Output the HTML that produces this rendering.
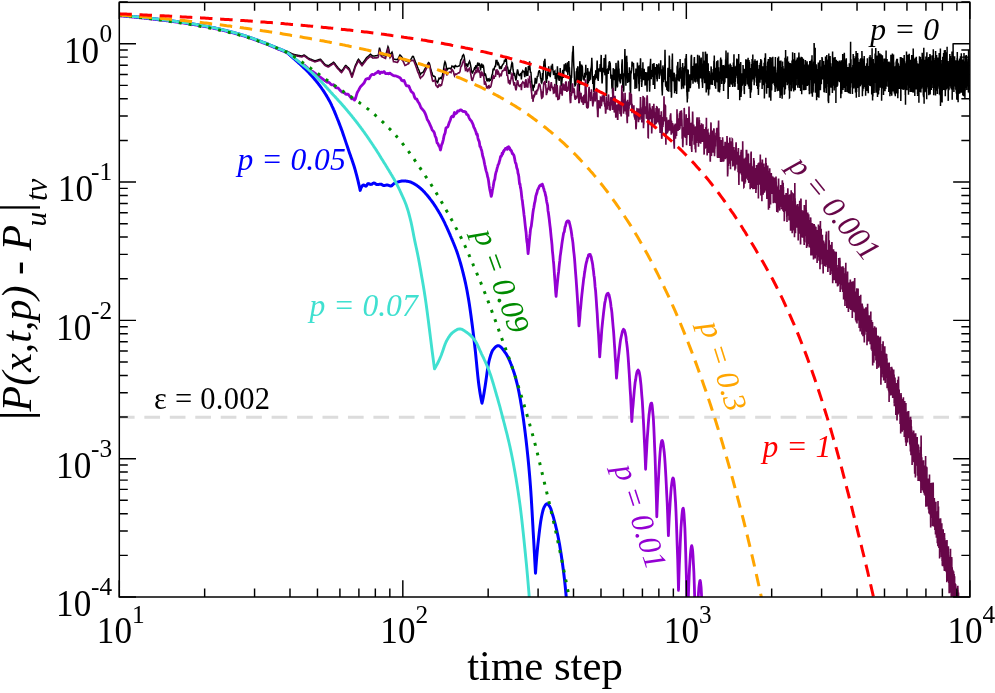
<!DOCTYPE html>
<html><head><meta charset="utf-8"><title>chart</title>
<style>html,body{margin:0;padding:0;background:#fff}body{width:995px;height:693px;overflow:hidden;font-family:"Liberation Serif",serif}svg{display:block}#w{will-change:transform;width:995px;height:693px}</style></head><body><div id="w">
<svg width="995" height="693" viewBox="0 0 995 693">
<defs><clipPath id="c"><rect x="119.30" y="2.35" width="850.55" height="594.65"/></clipPath></defs>
<rect width="995" height="693" fill="#fff"/>
<g clip-path="url(#c)" fill="none" stroke-linejoin="round">
<path d="M118.9 417.3H969.9" stroke="#dcdcdc" stroke-width="2.9" stroke-dasharray="15.7 9.75"/>
<path d="M119.3 15.3L121.3 15.4 123.3 15.6 125.3 15.8 127.3 16.0 129.3 16.2 131.3 16.3 133.3 16.5 135.3 16.7 137.3 16.9 139.3 17.1 141.3 17.3 143.3 17.5 145.3 17.7 147.3 18.0 149.3 18.2 151.3 18.4 153.3 18.6 155.3 18.8 157.3 19.1 159.3 19.3 161.3 19.6 163.3 19.8 165.3 20.0 167.3 20.3 169.3 20.5 171.3 20.8 173.3 21.1 175.3 21.3 177.3 21.6 179.3 21.9 181.3 22.2 183.3 22.4 185.3 22.7 187.3 23.0 189.3 23.4 191.3 23.7 193.3 24.0 195.3 24.3 197.3 24.6 199.3 25.0 201.3 25.3 203.3 25.7 205.3 26.1 207.3 26.4 209.3 26.8 211.3 27.2 213.3 27.7 215.3 28.1 217.3 28.5 219.3 29.0 221.3 29.4 223.3 29.9 225.3 30.4 227.3 30.9 229.3 31.4 231.3 31.9 233.3 32.4 235.3 33.0 237.3 33.5 239.3 34.1 241.3 34.7 243.3 35.3 245.3 35.9 247.3 36.6 249.3 37.3 251.3 38.0 253.3 38.7 255.3 39.4 257.3 40.1 259.3 40.8 261.3 41.6 263.3 42.3 265.3 43.1 267.3 43.9 269.3 44.7 271.3 45.5 273.3 46.4 275.3 47.2 277.3 48.1 279.3 49.2 280 49.5 280.5 49.6 281 49.8 281.5 49.9 282 50.0 282.5 50.1 283 50.2 283.5 50.4 284 50.5 284.5 50.6 285 50.7 285.5 50.9 286 51.0 286.5 51.1 287 51.2 287.5 51.4 288 51.7 288.5 51.9 289 52.2 289.5 52.4 290 52.7 290.5 52.9 291 53.2 291.5 53.4 292 53.7 292.5 53.9 293 54.2 293.5 54.3 294 54.4 294.5 54.6 295 54.7 295.5 54.8 296 54.9 296.5 55.0 297 55.1 297.5 55.2 298 55.3 298.5 55.4 299 55.5 299.5 55.6 300 55.7 300.5 55.8 301 56.0 301.5 56.1 302 55.9 302.5 55.7 303 55.5 303.5 55.2 304 55.0 304.5 55.2 305 55.6 305.5 55.9 306 56.3 306.5 56.7 307 57.0 307.5 57.4 308 57.8 308.5 58.1 309 58.5 309.5 58.7 310 58.9 310.5 59.1 311 59.3 311.5 59.5 312 59.7 312.5 59.9 313 60.1 313.5 60.3 314 60.5 314.5 60.7 315 60.9 315.5 60.7 316 60.6 316.5 60.4 317 60.2 317.5 60.1 318 59.9 318.5 59.7 319 59.6 319.5 59.4 320 59.2 320.5 59.2 321 59.8 321.5 60.4 322 60.9 322.5 61.5 323 62.1 323.5 62.7 324 63.2 324.5 63.8 325 64.4 325.5 64.7 326 64.9 326.5 65.1 327 65.3 327.5 65.5 328 65.7 328.5 65.7 329 65.3 329.5 65.0 330 64.6 330.5 64.3 331 64.0 331.5 63.6 332 63.3 332.5 62.9 333 62.6 333.5 62.2 334 62.5 334.5 63.1 335 63.8 335.5 64.5 336 65.1 336.5 65.8 337 66.4 337.5 67.1 338 67.7 338.5 68.2 339 68.7 339.5 69.2 340 69.7 340.5 70.2 341 70.7 341.5 71.2 342 70.5 342.5 69.8 343 69.1 343.5 68.3 344 67.6 344.5 66.9 345 66.2 345.5 65.5 346 65.5 346.5 66.0 347 66.5 347.5 67.0 348 67.4 348.5 67.9 349 68.4 349.5 69.1 350 70.5 350.5 71.8 351 73.2 351.5 74.6 352 76.0 352.5 74.4 353 72.8 353.5 71.2 354 69.6 354.5 68.1 355 66.5 355.5 65.0 356 64.0 356.5 63.0 357 61.9 357.5 60.9 358 59.9 358.5 59.2 359 59.9 359.5 60.6 360 61.3 360.5 62.0 361 62.6 361.5 63.3 362 64.0 362.5 63.3 363 62.6 363.5 61.9 364 61.3 364.5 60.6 365 59.9 365.5 59.2 366 58.5 366.5 57.8 367 57.2 367.5 56.8 368 56.4 368.5 56.0 369 55.5 369.5 55.1 370 54.7 370.5 54.3 371 54.7 371.5 55.1 372 55.4 372.5 55.8 373 56.1 373.5 56.0 374 56.0 374.5 55.9 375 55.9 375.5 55.8 376 55.8 376.5 55.7 377 55.6 377.5 55.6 378 55.5 378.5 54.2 379 51.0 379.5 47.7 380 49.5 380.5 51.4 381 53.2 381.5 54.4 382 54.6 382.5 54.8 383 55.0 383.5 55.2 384 55.5 384.5 55.7 385 55.9 385.5 56.1 386 54.2 386.5 52.3 387 50.4 387.5 48.5 388 46.7 388.5 47.7 389 50.7 389.5 53.7 390 55.2 390.5 54.5 391 53.7 391.5 52.9 392 52.2 392.5 53.7 393 56.7 393.5 59.1 394 59.2 394.5 59.3 395 59.3 395.5 59.4 396 59.5 396.5 59.5 397 59.6 397.5 59.7 398 58.9 398.5 57.9 399 56.9 399.5 55.9 400 54.9 400.5 55.4 401 56.0 401.5 56.6 402 57.3 402.5 58.0 403 58.6 403.5 59.2 404 59.9 404.5 60.4 405 60.7 405.5 60.9 406 61.0 406.5 61.1 407 61.3 407.5 61.5 408 61.9 408.5 62.2 409 61.8 409.5 61.4 410 61.0 410.5 60.1 411 59.2 411.5 58.3 412 57.4 412.5 56.4 413 56.3 413.5 56.7 414 58.1 414.5 59.4 415 60.9 415.5 62.1 416 63.2 416.5 64.3 417 65.6 417.5 67.1 418 68.3 418.5 69.3 419 70.4 419.5 72.0 420 73.7 420.5 74.4 421 73.3 421.5 73.0 422 72.9 422.5 72.5 423 72.4 423.5 71.7 424 70.6 424.5 69.5 425 68.7 425.5 67.9 426 67.1 426.5 66.3 427 65.5 427.5 64.7 428 63.3 428.5 62.6 429 62.9 429.5 63.8 430 65.7 430.5 68.1 431 69.8 431.5 71.4 432 72.7 432.5 74.7 433 75.9 433.5 76.3 434 76.1 434.5 76.3 435 76.7 435.5 78.9 436 81.5 436.5 81.6 437 81.4 437.5 82.5 438 81.9 438.5 79.7 439 78.3 439.5 78.8 440 78.6 440.5 77.6 441 77.7 441.5 78.4 442 76.8 442.5 74.7 443 72.5 443.5 69.8 444 66.0 444.5 63.3 445 61.7 445.5 62.7 446 64.8 446.5 68.4 447 70.6 447.5 68.7 448 68.4 448.5 68.7 449 68.4 449.5 68.3 450 68.3 450.5 68.5 451 69.1 451.5 67.6 452 66.1 452.5 66.6 453 66.6 453.5 66.4 454 67.5 454.5 68.0 455 65.8 455.5 65.5 456 66.2 456.5 66.6 457 66.6 457.5 66.6 458 66.4 458.5 66.1 459 66.1 459.5 65.7 460 64.8 460.5 61.5 461 59.7 461.5 59.4 462 57.9 462.5 55.8 463 55.2 463.5 54.6 464 55.8 464.5 58.7 465 62.9 465.5 65.7 466 65.4 466.5 63.5 467 64.7 467.5 67.2 468 65.1 468.5 63.6 469 62.2 469.5 61.2 470 62.5 470.5 65.0 471 67.6 471.5 71.0 472 72.7 472.5 73.0 473 71.7 473.5 70.6 474 69.5 474.5 68.1 475 68.9 475.5 67.1 476 65.3 476.5 68.5 477 66.3 477.5 63.7 478 62.7 478.5 65.7 479 64.4 479.5 63.9 480 65.7 480.5 70.3 481 65.8 481.5 64.8 482 66.3 482.5 67.8 483 65.3 483.5 66.1 484 70.3 484.5 75.9 485 74.9 485.5 74.3 486 76.2 486.5 79.3 487 81.4 487.5 79.5 488 80.5 488.5 79.0 489 78.7 489.5 80.5 490 79.8 490.5 80.2 491 79.5 491.5 77.2 492 75.0 492.5 73.8 493 69.8 493.5 68.5 494 70.4 494.5 67.4 495 66.3 495.5 66.4 496 60.5 496.5 60.5 497 60.5 497.5 64.8 498 64.8 498.5 63.5 499 65.0 499.5 67.9 500 67.3 500.5 67.0 501 69.0 501.5 67.9 502 65.8 502.5 65.0 503 64.2 503.5 63.7 504 62.5 504.5 60.2 505 60.2 505.5 61.8 506 56.4 506.5 61.3 507 67.7 507.5 66.7 508 69.3 508.5 74.2 509 70.0 509.5 72.9 510 73.4 510.5 70.0 511 68.2 511.5 64.7 512 62.5 512.5 63.2 513 69.2 513.5 72.5 514 75.9 514.5 72.9 515 75.9 515.5 78.6 516 80.5 516.5 77.4 517 72.4 517.5 69.4 518 71.2 518.5 74.3 519 75.2 519.5 75.5 520.9 73.1 521.4 79.5 521.9 72.2 522.3 72.2 522.8 70.7 523.3 71.3 523.7 71.6 524.2 72.7 524.7 77.2 525.1 71.6 525.6 68.5 526 67.3 526.5 75.2 526.9 74.9 527.4 70.9 527.8 75.9 528.3 66.7 528.7 66.6 529.2 70.1 529.6 61.4 530 67.9 530.5 73.0 530.9 71.8 531.3 77.5 531.8 82.3 532.2 87.4 532.6 84.6 533.1 91.3 533.5 85.7 533.9 85.6 534.3 86.2 534.8 83.4 535.2 77.9 535.6 79.2 536 80.6 536.4 83.6 536.9 79.8 537.3 75.9 537.7 76.8 538.1 75.2 538.5 72.2 538.9 71.4 539.3 70.1 539.7 71.9 540.1 72.8 540.5 78.2 540.9 78.6 541.3 82.5 541.7 83.0 542.1 81.3 542.5 73.0 542.9 80.4 543.3 70.9 543.7 66.4 544.1 60.7 544.5 63.3 544.9 58.7 545.3 66.6 545.6 69.8 546 80.1 546.4 82.9 546.8 78.6 547.2 78.4 547.6 71.5 547.9 72.1 548.3 74.4 548.7 66.4 549.1 75.4 549.5 75.5 549.8 73.0 550.2 77.2 550.6 73.3 550.9 70.8 551.3 65.6 551.7 68.1 552 68.5 552.4 63.9 552.8 69.5 553.1 71.2 553.5 74.3 553.9 74.1 554.2 74.8 554.6 71.3 554.9 71.0 555.3 78.9 555.7 73.0 556 76.8 556.4 87.0 556.7 76.7 557.1 76.1 557.4 66.2 557.8 73.4 558.1 76.4 558.5 79.7 558.8 77.6 559.2 80.9 559.5 74.1 559.9 78.4 560.2 68.0 560.5 74.7 560.9 78.0 561.2 86.1 561.6 83.8 561.9 81.7 562.2 78.7 562.6 71.0 562.9 69.9 563.2 77.9 563.6 75.8 563.9 70.0 564.2 64.4 564.6 71.0 564.9 67.4 565.2 69.5 565.6 63.2 565.9 65.0 566.2 68.8 566.5 71.8 566.9 69.9 567.2 72.3 567.5 62.2 567.8 75.3 568.2 70.0 568.5 67.9 568.8 61.0 569.1 68.2 569.4 67.2 569.8 75.9 570.1 84.1 570.4 91.2 570.7 92.2 571 84.1 571.3 76.4 571.6 76.6 572 65.4 572.3 56.9 572.6 52.1 572.9 51.6 573.2 45.9 573.5 56.6 573.8 65.8 574.1 69.7 574.4 78.7 574.7 84.1 575 85.7 575.3 85.3 575.6 84.6 575.9 83.6 576.3 71.2 576.6 78.5 576.9 68.2 577.2 80.3 577.4 70.0 577.7 67.0 578 66.5 578.3 82.0 578.6 89.1 578.9 103.2 579.2 101.2 579.5 78.5 579.8 61.2 580.1 63.8 580.4 68.2 580.7 81.6 581 84.8 581.3 79.6 581.6 64.5 581.8 66.7 582.1 65.8 582.4 67.0 582.7 74.3 583 76.7 583.3 79.7 583.6 77.9 583.8 76.3 584.1 80.7 584.4 79.2 584.7 72.8 585 74.5 585.2 77.7 585.5 72.5 585.8 64.7 586.1 75.2 586.4 72.2 586.6 74.3 586.9 73.4 587.2 72.8 587.5 85.0 587.7 68.0 588 73.0 588.3 83.1 588.6 79.7 588.8 77.8 589.1 71.6 589.4 81.2 589.6 79.3 589.9 77.3 590.2 75.1 590.5 79.8 590.7 70.1 591 68.5 591.3 67.3 591.5 64.7 591.8 57.9 592.1 64.6 592.3 74.7 592.6 78.0 592.8 83.9 593.1 81.1 593.4 75.9 593.6 87.7 593.9 92.3 594.2 89.9 594.4 86.5 594.7 77.5 594.9 74.2 595.2 74.8 595.4 79.8 595.7 71.2 596 71.4 596.2 72.8 596.5 74.2 596.7 78.2 597 63.4 597.2 60.6 597.5 72.3 597.7 79.4 598 75.3 598.2 81.0 598.5 75.4 598.7 71.5 599 68.4 599.3 70.4 599.5 70.4 599.7 70.6 600 67.4 600.2 64.1 600.5 70.2 600.7 71.7 601 59.4 601.2 54.9 601.5 69.0 601.7 73.7 602 82.7 602.2 82.7 602.5 76.0 602.7 70.5 602.9 67.7 603.2 68.6 603.4 70.7 603.7 72.3 603.9 66.9 604.1 58.0 604.4 64.9 604.6 66.6 604.9 75.3 605.1 74.8 605.3 61.0 605.6 54.5 605.8 62.7 606.1 80.4 606.3 94.8 606.5 95.0 606.8 90.3 607 77.2 607.2 68.9 607.5 73.6 607.7 68.2 607.9 70.0 608.2 73.9 608.4 70.2 608.6 65.6 608.9 66.3 609.1 62.0 609.3 63.4 609.5 61.0 609.8 70.4 610 62.9 610.2 63.1 610.5 69.3 610.7 73.7 610.9 78.8 611.1 77.2 611.4 74.7 611.6 75.5 611.8 85.7 612 88.8 612.3 84.3 612.5 92.3 612.7 94.9 612.9 88.6 613.2 68.2 613.4 69.6 613.6 68.9 613.8 74.0 614.1 75.2 614.3 80.2 614.5 69.3 614.7 74.4 614.9 78.6 615.2 80.4 615.4 90.9 615.6 87.9 615.8 75.2 616 62.9 616.3 69.6 616.5 74.2 616.7 83.2 616.9 82.8 617.1 85.7 617.3 86.6 617.6 86.2 617.8 70.2 618 63.2 618.2 60.6 618.4 62.3 618.6 67.4 618.8 77.2 619 68.5 619.3 79.3 619.5 81.4 619.7 75.4 619.9 81.7 620.1 73.8 620.3 83.4 620.5 81.2 620.7 74.2 620.9 75.0 621.2 77.0 621.4 78.4 621.6 79.1 621.8 64.8 622 62.3 622.2 59.3 622.4 75.4 622.6 81.5 622.8 88.1 623 79.1 623.2 73.3 623.4 89.9 623.6 91.6 623.8 89.7 624 79.3 624.3 74.3 624.5 68.8 624.7 59.0 624.9 49.1 625.1 59.6 625.3 65.6 625.5 73.5 625.7 75.4 625.9 85.7 626.1 77.4 626.3 70.2 626.5 58.3 626.7 55.8 626.9 62.0 627.1 62.4 627.3 76.2 627.5 73.5 627.7 83.0 627.9 79.1 628.1 73.1 628.3 81.9 628.5 75.3 628.7 75.8 628.9 81.6 629.1 76.2 629.2 72.4 629.4 67.4 629.6 71.6 629.8 82.0 630 79.1 630.2 90.1 630.4 91.7 630.6 93.3 630.8 75.5 631 70.9 631.2 73.5 631.4 71.1 631.6 69.9 631.8 67.4 632 61.5 632.1 65.1 632.3 62.0 632.5 66.5 632.7 62.6 632.9 65.1 633.1 66.1 633.3 63.9 633.5 63.0 633.7 71.9 633.9 79.6 634 74.0 634.2 74.3 634.4 79.1 634.6 76.0 634.8 73.3 635 88.9 635.2 83.1 635.4 79.8 635.5 80.0 635.7 78.7 635.9 68.6 636.1 75.2 636.3 75.1 636.5 83.6 636.7 88.4 636.8 83.8 637 78.4 637.2 75.1 637.4 62.5 637.6 65.7 637.8 70.7 637.9 66.9 638.1 72.5 638.3 65.5 638.5 74.1 638.7 75.5 638.8 83.8 639 84.3 639.2 91.3 639.4 74.2 639.6 75.5 639.7 71.5 639.9 64.9 640.1 69.9 640.3 66.2 640.5 58.2 640.6 59.2 640.8 73.0 641 79.1 641.2 75.6 641.4 82.3 641.5 82.0 641.7 86.9 641.9 82.9 642.1 81.6 642.2 72.3 642.4 68.1 642.6 69.2 642.8 73.8 642.9 62.2 643.1 73.6 643.3 76.9 643.5 80.1 643.6 77.0 643.8 76.0 644 72.0 644.2 68.7 644.3 71.9 644.5 72.5 644.7 73.8 644.9 76.8 645 84.4 645.2 85.5 645.4 78.8 645.5 72.0 645.7 73.7 645.9 85.1 646.1 81.8 646.2 85.3 646.4 74.7 646.6 72.2 646.7 79.7 646.9 85.7 647.1 91.8 647.2 81.4 647.4 78.1 647.6 79.8 647.8 80.3 647.9 73.1 648.1 66.6 648.3 67.4 648.4 68.3 648.6 71.5 648.8 66.2 648.9 73.0 649.1 71.7 649.3 81.2 649.4 85.1 649.6 91.8 649.8 86.2 649.9 86.8 650.1 66.6 650.3 64.0 650.4 64.1 650.6 58.7 650.7 69.3 650.9 78.0 651.1 76.9 651.2 79.3 651.4 74.0 651.6 72.3 651.7 76.9 651.9 73.9 652.1 69.9 652.2 76.2 652.4 69.7 652.5 74.1 652.7 63.8 652.9 70.1 653 69.2 653.2 84.9 653.3 79.9 653.5 71.7 653.7 67.1 653.8 72.5 654 63.0 654.2 67.3 654.3 71.3 654.5 69.5 654.6 81.7 654.8 89.0 654.9 80.5 655.1 75.2 655.3 71.4 655.4 70.9 655.6 72.4 655.7 66.9 655.9 74.7 656.1 72.2 656.2 72.7 656.4 67.7 656.5 68.1 656.7 64.0 656.8 78.9 657 75.6 657.2 81.5 657.3 77.2 657.5 71.6 657.6 72.0 657.8 68.9 657.9 65.2 658.1 68.9 658.2 73.6 658.4 64.7 658.5 66.6 658.7 68.5 658.9 63.4 659 73.5 659.2 78.2 659.3 79.0 659.5 75.5 659.6 70.9 659.8 69.8 659.9 67.6 660.1 71.4 660.2 67.3 660.4 71.7 660.5 71.0 660.7 60.2 660.8 65.0 661 70.6 661.1 73.7 661.3 75.7 661.4 69.2 661.6 73.8 661.7 78.0 661.9 86.6 662 90.0 662.2 92.1 662.3 95.5 662.5 88.1 662.6 82.5 662.8 69.9 662.9 65.4 663.1 70.8 663.2 74.2 663.4 79.2 663.5 82.3 663.7 72.6 663.8 68.1 664 69.6 664.1 67.2 664.3 78.8 664.4 79.8 664.6 77.5 664.7 69.4 664.9 57.3 665 49.8 665.2 62.6 665.3 69.2 665.5 81.7 665.6 85.8 665.7 82.3 665.9 85.6 666 87.2 666.2 85.0 666.3 85.3 666.5 85.3 666.6 81.2 666.8 88.2 666.9 90.0 667 87.7 667.2 83.6 667.3 89.4 667.5 88.2 667.6 91.3 667.8 75.3 667.9 68.9 668 67.7 668.2 75.1 668.3 72.7 668.5 80.9 668.6 82.0 668.8 91.7 668.9 88.2 669 82.1 669.2 62.4 669.3 55.6 669.5 58.9 669.6 67.4 669.8 72.7 669.9 76.0 670 76.8 670.2 71.4 670.3 71.8 670.5 69.3 670.6 75.5 670.7 75.0 670.9 83.3 671 91.9 671.2 85.5 671.3 90.6 671.4 97.8 671.6 94.6 671.7 83.8 671.8 80.2 672 80.9 672.1 60.0 672.3 59.5 672.4 53.6 672.5 62.3 672.7 79.2 672.8 76.7 672.9 72.7 673.1 75.9 673.2 76.5 673.4 75.8 673.5 81.5 673.6 80.9 673.8 77.2 673.9 76.5 674 73.5 674.2 72.8 674.3 82.8 674.4 86.8 674.6 93.3 674.7 89.5 674.9 91.0 675 85.7 675.1 83.6 675.3 82.2 675.4 83.3 675.5 91.0 675.7 86.4 675.8 79.0 675.9 77.2 676.1 80.8 676.2 77.0 676.3 74.2 676.5 78.9 676.6 94.1 676.7 90.8 676.9 82.3 677 79.2 677.1 67.3 677.3 65.6 677.4 75.6 677.5 71.0 677.7 65.0 677.8 62.0 677.9 62.2 678.1 76.4 678.2 80.2 678.3 79.7 678.5 79.9 678.6 74.4 678.7 71.4 678.8 79.2 679 75.6 679.1 73.4 679.2 81.4 679.4 76.8 679.5 74.3 679.6 69.2 679.8 67.8 679.9 68.0 680 75.0 680.1 58.9 680.3 70.7 680.4 77.8 680.5 73.5 680.7 78.7 680.8 67.0 680.9 70.0 681.1 78.2 681.2 76.4 681.3 74.6 681.4 80.9 681.6 89.2 681.7 86.5 681.8 78.0 681.9 70.4 682.1 76.1 682.2 80.7 682.3 72.4 682.5 71.1 682.6 64.8 682.7 63.1 682.8 69.6 683 75.8 683.1 75.5 683.2 86.6 683.3 79.0 683.5 88.4 683.6 88.1 683.7 76.6 683.8 67.8 684 74.8 684.1 76.8 684.2 78.6 684.3 72.9 684.5 72.5 684.6 66.2 684.7 78.2 684.8 85.6 685 74.3 685.1 71.7 685.2 58.4 685.3 61.0 685.5 60.1 685.6 64.0 685.7 63.7 685.8 58.2 686 64.9 686.1 55.7 686.2 62.9 686.3 53.9 686.5 63.8 686.6 69.8 686.7 77.6 686.8 91.9 686.9 91.3 687.1 96.2 687.2 96.7 687.3 102.4 687.4 90.5 687.6 98.8 687.7 87.0 687.8 80.8 687.9 71.8 688 70.2 688.2 70.3 688.3 73.9 688.4 81.4 688.5 87.2 688.7 90.1 688.8 91.8 688.9 87.6 689 82.7 689.1 81.3 689.3 78.4 689.4 77.8 689.5 83.2 689.6 77.0 689.7 78.6 689.9 74.2 690 77.4 690.1 78.3 690.2 81.1 690.3 88.2 690.5 85.4 690.6 81.3 690.7 84.8 690.8 75.1 690.9 80.6 691 64.7 691.2 55.9 691.3 59.6 691.4 54.8 691.5 55.4 691.6 65.1 691.8 70.5 691.9 80.2 692 79.5 692.1 75.3 692.2 66.0 692.3 71.0 692.5 71.9 692.6 77.9 692.7 68.7 692.8 77.7 692.9 79.1 693 83.8 693.2 79.5 693.3 74.0 693.4 69.5 693.5 71.5 693.6 65.7 693.7 72.0 693.9 71.8 694 63.3 694.1 65.3 694.2 58.4 694.3 60.4 694.4 56.9 694.5 63.2 694.7 73.7 694.8 81.8 694.9 67.0 695 64.7 695.1 69.3 695.2 76.0 695.4 75.3 695.5 82.6 695.6 72.8 695.7 67.2 695.8 71.6 695.9 67.3 696 63.5 696.2 63.9 696.3 72.3 696.4 79.1 696.5 75.5 696.6 74.1 696.7 73.7 696.8 65.1 696.9 72.1 697.1 77.1 697.2 81.7 697.3 81.1 697.4 68.2 697.5 62.6 697.6 54.7 697.7 65.7 697.8 70.5 698 77.1 698.1 83.8 698.2 75.7 698.3 67.9 698.4 76.7 698.5 76.0 698.6 75.8 698.7 83.1 698.8 85.4 699 88.8 699.1 80.9 699.2 68.9 699.3 55.5 699.4 57.8 699.5 58.0 699.6 75.0 699.7 78.4 699.8 68.7 700 75.6 700.1 77.4 700.2 73.1 700.3 70.8 700.4 77.7 700.5 78.5 700.6 69.5 700.7 65.5 700.8 66.6 700.9 60.7 701.1 59.0 701.2 57.6 701.3 69.0 701.4 65.1 701.5 66.7 701.6 64.0 701.7 63.5 701.8 64.2 701.9 76.2 702 79.3 702.1 82.1 702.3 79.8 702.4 84.2 702.5 85.4 702.6 87.9 702.7 78.5 702.8 75.1 702.9 66.4 703 51.8 703.1 60.8 703.2 70.1 703.3 65.1 703.4 77.2 703.5 69.1 703.6 71.3 703.8 68.2 703.9 66.0 704 60.6 704.1 65.6 704.2 76.0 704.3 79.4 704.4 76.1 704.5 79.6 704.6 83.2 704.7 80.9 704.8 76.3 704.9 77.0 705 65.7 705.1 75.6 705.2 64.9 705.3 51.8 705.5 52.1 705.6 57.6 705.7 66.0 705.8 69.4 705.9 70.0 706 69.7 706.1 83.4 706.2 92.5 706.3 88.6 706.4 79.9 706.5 72.0 706.6 67.6 706.7 69.1 706.8 71.3 706.9 65.7 707 60.6 707.1 53.8 707.2 62.7 707.3 63.8 707.4 82.1 707.5 85.7 707.6 89.4 707.8 81.7 707.9 76.2 708 64.9 708.1 65.0 708.2 63.2 708.3 82.7 708.4 87.6 708.5 95.4 708.6 94.2 708.7 94.6 708.8 86.5 708.9 81.6 709 78.9 709.1 70.9 709.2 77.0 709.3 72.7 709.4 76.1 709.5 80.9 709.6 89.4 709.7 88.1 709.8 78.6 709.9 79.8 710 75.4 710.1 78.3 710.2 75.8 710.3 78.9 710.4 83.0 710.5 79.8 710.6 84.8 710.7 77.5 710.8 83.6 710.9 73.2 711 71.6 711.1 66.9 711.2 66.4 711.3 73.6 711.4 82.3 711.5 79.3 711.6 73.9 711.7 84.0 711.8 82.1 711.9 75.8 712 84.8 712.1 80.3 712.2 84.6 712.3 80.0 712.4 82.1 712.5 85.1 712.6 72.5 712.7 72.7 712.8 73.4 712.9 73.3 713 73.9 713.1 71.8 713.2 69.1 713.3 76.9 713.4 77.2 713.5 80.2 713.6 73.2 713.7 71.1 713.8 68.8 713.9 60.7 714 80.1 714.1 75.6 714.2 64.9 714.3 55.6 714.4 74.7 714.5 73.8 714.6 73.8 714.7 73.4 714.8 86.0 714.9 78.3 715 84.5 715.1 79.9 715.2 71.5 715.3 68.1 715.4 67.8 715.5 80.9 715.6 86.9 715.7 88.8 715.8 71.9 715.9 73.8 716 71.9 716.1 80.9 716.2 79.5 716.2 81.7 716.3 70.4 716.4 72.4 716.5 65.7 716.6 62.2 716.7 64.9 716.8 67.5 716.9 61.0 717 68.3 717.1 64.7 717.2 70.3 717.3 73.4 717.4 82.5 717.5 76.6 717.6 69.7 717.7 71.7 717.8 60.2 717.9 61.6 718 69.7 718.1 84.7 718.2 91.8 718.3 86.4 718.4 76.6 718.4 80.6 718.5 80.8 718.6 67.3 718.7 75.3 718.8 85.3 718.9 71.4 719 77.0 719.1 79.6 719.2 86.9 719.3 82.0 719.4 84.1 719.5 92.4 719.6 89.1 719.7 82.9 719.8 90.1 719.9 81.4 720 86.9 720.1 80.3 720.1 74.9 720.2 79.1 720.3 73.8 720.4 61.6 720.5 59.3 720.6 64.0 720.7 57.4 720.8 62.7 720.9 64.0 721 71.3 721.1 70.6 721.2 75.7 721.3 69.1 721.4 66.1 721.4 63.2 721.5 59.4 721.6 68.7 721.7 83.9 721.8 82.9 721.9 70.5 722 72.4 722.1 72.9 722.2 66.4 722.3 65.5 722.4 67.6 722.5 74.3 722.6 72.5 722.6 76.7 722.7 67.4 722.8 78.8 722.9 80.6 723 67.3 723.1 68.0 723.2 65.0 723.3 68.5 723.4 70.2 723.5 77.5 723.6 90.9 723.6 88.4 723.7 75.4 723.8 68.0 723.9 70.2 724 69.4 724.1 73.2 724.2 77.7 724.3 84.0 724.4 65.4 724.5 74.3 724.6 79.6 724.6 72.3 724.7 69.5 724.8 70.3 724.9 82.6 725 76.6 725.1 72.7 725.2 70.4 725.3 64.4 725.4 71.4 725.5 71.0 725.5 71.5 725.6 59.4 725.7 62.5 725.8 59.4 725.9 59.8 726 50.4 726.1 55.1 726.2 62.9 726.3 69.2 726.3 62.3 726.4 69.3 726.5 78.2 726.6 71.7 726.7 72.2 726.8 67.7 726.9 68.2 727 73.4 727.1 71.0 727.1 67.2 727.2 70.2 727.3 63.4 727.4 67.7 727.5 69.7 727.6 64.5 727.7 60.6 727.8 58.0 727.9 52.5 727.9 59.8 728 84.4 728.1 98.9 728.2 95.2 728.3 85.4 728.4 81.1 728.5 79.4 728.6 73.9 728.6 75.9 728.7 64.4 728.8 76.2 728.9 75.7 729 80.5 729.1 87.1 729.2 76.2 729.2 76.2 729.3 69.8 729.4 79.3 729.5 69.0 729.6 72.6 729.7 79.6 729.8 86.9 729.9 79.5 729.9 71.5 730 73.2 730.1 76.0 730.2 73.5 730.3 63.5 730.4 73.1 730.5 70.8 730.5 74.6 730.6 76.9 730.7 69.6 730.8 65.0 730.9 68.1 731 65.6 731.1 78.3 731.1 76.1 731.2 81.0 731.3 76.2 731.4 84.5 731.5 84.1 731.6 83.0 731.7 77.1 731.7 69.0 731.8 73.7 731.9 74.5 732 68.1 732.1 67.1 732.2 72.6 732.3 75.1 732.3 73.6 732.4 74.9 732.5 76.6 732.6 82.4 732.7 86.9 732.8 78.7 732.8 73.1 732.9 78.6 733 70.7 733.1 72.4 733.2 69.5 733.3 71.7 733.4 62.5 733.4 71.8 733.5 76.1 733.6 73.2 733.7 72.9 733.8 70.5 733.9 60.7 733.9 55.5 734 54.2 734.1 70.6 734.2 83.1 734.3 81.4 734.4 75.9 734.4 81.4 734.5 86.3 734.6 76.8 734.7 76.3 734.8 75.0 734.9 83.1 734.9 87.1 735 80.7 735.1 86.0 735.2 81.4 735.3 82.3 735.4 79.9 735.4 68.4 735.5 73.8 735.6 66.3 735.7 69.7 735.8 72.9 735.8 78.3 735.9 72.0 736 75.9 736.1 74.1 736.2 74.4 736.3 68.5 736.3 66.3 736.4 73.1 736.5 64.9 736.6 72.2 736.7 64.2 736.7 65.2 736.8 58.6 736.9 63.3 737 64.3 737.1 59.6 737.2 73.3 737.2 65.5 737.3 70.1 737.4 71.7 737.5 72.6 737.6 78.1 737.6 83.8 737.7 82.0 737.8 76.5 737.9 75.4 738 73.5 738.1 78.7 738.1 89.9 738.2 87.7 738.3 79.2 738.4 69.8 738.5 59.0 738.5 77.3 738.6 79.6 738.7 53.9 738.8 63.8 738.9 63.5 738.9 68.5 739 64.3 739.1 71.3 739.2 63.7 739.3 69.1 739.3 66.3 739.4 72.5 739.5 73.1 739.6 84.2 739.7 92.0 739.7 100.3 739.8 91.1 739.9 94.2 740 88.2 740.1 91.3 740.1 85.4 740.2 82.2 740.3 78.6 740.4 69.8 740.5 64.3 740.5 70.0 740.6 71.8 740.7 62.1 740.8 68.4 740.9 84.0 740.9 90.2 741 97.0 741.1 93.4 741.2 91.4 741.2 92.4 741.3 91.3 741.4 85.5 741.5 90.8 741.6 79.0 741.6 79.5 741.7 78.0 741.8 85.0 741.9 73.9 742 73.9 742 77.8 742.1 85.9 742.2 82.9 742.3 77.1 742.3 81.3 742.4 83.8 742.5 84.8 742.6 82.3 742.7 76.0 742.7 83.4 742.8 75.3 742.9 81.4 743 66.2 743 65.0 743.1 65.9 743.2 69.9 743.3 73.3 743.4 71.7 743.4 75.9 743.5 78.8 743.6 78.5 743.7 74.8 743.7 68.6 743.8 79.9 743.9 72.3 744 75.9 744.1 82.0 744.1 89.5 744.2 86.7 744.3 94.0 744.4 93.5 744.4 83.7 744.5 84.9 744.6 77.4 744.7 75.5 744.7 76.2 744.8 72.1 744.9 78.0 745 71.4 745 80.1 745.1 76.0 745.2 68.9 745.3 79.0 745.4 83.7 745.4 85.9 745.5 82.7 745.6 76.6 745.7 76.4 745.7 72.4 745.8 59.2 745.9 66.3 746 66.0 746 60.4 746.1 59.8 746.2 67.0 746.3 62.1 746.3 64.1 746.4 69.4 746.5 67.3 746.6 66.5 746.6 62.9 746.7 67.1 746.8 66.6 746.9 72.7 746.9 73.3 747 68.2 747.1 77.7 747.2 84.5 747.2 75.8 747.3 72.3 747.4 69.7 747.5 65.4 747.5 59.6 747.6 62.2 747.7 72.0 747.8 71.5 747.8 75.5 747.9 73.9 748 69.4 748.1 57.8 748.1 64.8 748.2 62.9 748.3 70.4 748.4 73.3 748.4 79.4 748.5 86.6 748.6 75.2 748.7 76.7 748.7 67.5 748.8 66.8 748.9 63.5 749 69.2 749 60.0 749.1 78.1 749.2 88.9 749.3 83.8 749.3 82.6 749.4 71.3 749.5 70.8 749.6 69.3 749.6 61.8 749.7 78.6 749.8 78.5 749.8 81.0 749.9 69.9 750 68.5 750.1 75.7 750.1 72.9 750.2 92.2 750.3 93.4 750.4 97.9 750.4 85.0 750.5 88.8 750.6 82.3 750.7 68.0 750.7 81.6 750.8 79.0 750.9 82.7 750.9 84.1 751 92.4 751.1 80.0 751.2 74.0 751.2 77.9 751.3 81.1 751.4 90.3 751.5 78.7 751.5 73.3 751.6 64.1 751.7 67.0 751.7 68.6 751.8 81.8 751.9 80.7 752 77.2 752 75.8 752.1 59.0 752.2 59.4 752.2 60.1 752.3 66.9 752.4 77.5 752.5 74.2 752.5 65.5 752.6 67.2 752.7 69.9 752.8 63.7 752.8 54.4 752.9 61.0 753 69.6 753 77.4 753.1 74.6 753.2 75.6 753.3 77.3 753.3 79.6 753.4 73.9 753.5 73.5 753.5 71.4 753.6 64.0 753.7 64.1 753.8 70.3 753.8 74.0 753.9 76.2 754 69.3 754 72.9 754.1 79.7 754.2 85.3 754.2 74.8 754.3 80.6 754.4 76.3 754.5 63.1 754.5 60.7 754.6 61.4 754.7 65.2 754.7 69.7 754.8 74.1 754.9 67.5 755 61.3 755 59.3 755.1 64.7 755.2 75.8 755.2 66.4 755.3 76.5 755.4 74.3 755.4 75.4 755.5 69.8 755.6 68.8 755.7 73.9 755.7 69.0 755.8 61.0 755.9 65.7 755.9 71.1 756 71.5 756.1 76.4 756.1 78.0 756.2 72.0 756.3 68.9 756.4 82.5 756.4 72.8 756.5 72.6 756.6 64.3 756.6 71.1 756.7 77.9 756.8 78.7 756.8 86.0 756.9 75.6 757 70.8 757.1 67.9 757.1 71.4 757.2 64.9 757.3 63.1 757.3 60.6 757.4 77.5 757.5 76.2 757.5 80.3 757.6 81.0 757.7 88.9 757.7 84.2 757.8 86.7 757.9 74.1 758 68.7 758 74.4 758.1 78.1 758.2 82.9 758.2 79.1 758.3 87.9 758.4 93.6 758.4 95.1 758.5 90.3 758.6 78.6 758.6 80.4 758.7 80.0 758.8 86.8 758.8 85.2 758.9 77.4 759 77.8 759 73.2 759.1 71.5 759.2 74.5 759.3 65.0 759.3 69.3 759.4 78.8 759.5 81.0 759.5 81.0 759.6 72.2 759.7 67.5 759.7 67.4 759.8 69.7 759.9 78.8 759.9 72.2 760 82.8 760.1 76.9 760.1 75.5 760.2 62.8 760.3 76.4 760.3 73.5 760.4 74.4 760.5 63.5 760.5 71.5 760.6 78.6 760.7 66.6 760.7 68.1 760.8 59.1 760.9 77.6 760.9 69.2 761 72.5 761.1 76.2 761.1 73.6 761.2 79.8 761.3 71.2 761.3 73.4 761.4 73.8 761.5 60.3 761.5 71.5 761.6 66.1 761.7 70.5 761.7 70.8 761.8 73.3 761.9 74.7 761.9 70.9 762 76.5 762.1 84.6 762.1 89.0 762.2 80.8 762.3 77.4 762.3 77.8 762.4 75.1 762.5 78.1 762.5 69.9 762.6 73.5 762.7 68.4 762.7 66.7 762.8 66.4 762.9 68.4 762.9 80.6 763 75.5 763.1 77.1 763.1 73.5 763.2 69.4 763.3 69.6 763.3 67.1 763.4 76.3 763.5 76.0 763.5 85.2 763.6 81.7 763.7 77.2 763.7 70.5 763.8 77.8 763.9 71.4 763.9 73.1 764 73.3 764.1 75.1 764.1 62.7 764.2 70.3 764.3 75.9 764.3 74.6 764.4 98.4 764.5 90.1 764.5 73.7 764.6 82.8 764.6 68.7 764.7 57.7 764.8 61.1 764.8 65.3 764.9 72.4 765 79.0 765 66.2 765.1 63.3 765.2 64.3 765.2 66.2 765.3 63.4 765.4 53.3 765.4 58.1 765.5 53.4 765.6 61.9 765.6 82.4 765.7 70.5 765.8 77.6 765.8 72.7 765.9 80.5 765.9 81.1 766 73.6 766.1 71.8 766.1 71.9 766.2 79.7 766.3 75.3 766.3 84.0 766.4 83.7 766.5 86.6 766.5 89.8 766.6 93.7 766.7 86.6 766.7 76.5 766.8 70.4 766.8 72.9 766.9 75.2 767 70.4 767 72.8 767.1 75.6 767.2 69.2 767.2 66.0 767.3 67.4 767.4 75.0 767.4 69.3 767.5 65.2 767.5 65.4 767.6 62.8 767.7 67.3 767.7 61.6 767.8 64.8 767.9 69.3 767.9 62.6 768 64.7 768.1 81.1 768.1 87.9 768.2 78.2 768.2 66.4 768.3 59.1 768.4 62.0 768.4 59.5 768.5 65.9 768.6 65.3 768.6 68.2 768.7 69.1 768.8 76.0 768.8 71.7 768.9 77.1 768.9 67.2 769 75.6 769.1 68.8 769.1 77.8 769.2 81.8 769.3 85.6 769.3 97.5 769.4 82.9 769.4 71.1 769.5 69.3 769.6 82.3 769.6 84.1 769.7 79.4 769.8 73.5 769.8 68.6 769.9 57.6 769.9 56.9 770 61.3 770.1 69.9 770.1 72.4 770.2 69.2 770.3 70.3 770.3 85.3 770.4 78.5 770.4 78.1 770.5 86.2 770.6 81.7 770.6 78.6 770.7 73.5 770.8 89.8 770.8 100.8 770.9 94.4 770.9 87.0 771 83.7 771.1 76.6 771.1 67.6 771.2 57.6 771.2 64.2 771.3 69.7 771.4 73.3 771.4 71.8 771.5 82.1 771.6 90.5 771.6 90.1 771.7 88.2 771.7 86.0 771.8 72.6 771.9 71.6 771.9 67.3 772 74.6 772 64.0 772.1 74.8 772.2 76.8 772.2 79.0 772.3 83.7 772.4 77.1 772.4 75.9 772.5 74.1 772.5 76.5 772.6 83.2 772.7 77.3 772.7 63.2 772.8 56.8 772.8 60.6 772.9 65.3 773 76.6 773 77.2 773.1 73.3 773.1 71.2 773.2 68.7 773.3 78.1 773.3 78.1 773.4 77.9 773.5 77.5 773.5 83.0 773.6 77.7 773.6 73.8 773.7 73.3 773.8 75.8 773.8 66.6 773.9 74.2 773.9 66.4 774 74.2 774.1 82.6 774.1 76.1 774.2 77.6 774.2 76.6 774.3 84.1 774.4 84.8 774.4 72.4 774.5 82.7 774.5 83.5 774.6 81.1 774.7 84.5 774.7 83.5 774.8 86.2 774.8 85.5 774.9 74.5 775 79.4 775 83.3 775.1 92.1 775.1 83.3 775.2 91.0 775.3 80.4 775.3 68.0 775.4 57.1 775.4 58.7 775.5 65.9 775.6 71.3 775.6 80.2 775.7 67.4 775.7 80.8 775.8 79.1 775.9 76.8 775.9 77.6 776 75.3 776 78.6 776.1 79.0 776.2 72.8 776.2 76.1 776.3 79.8 776.3 80.7 776.4 83.3 776.5 77.1 776.5 82.7 776.6 83.8 776.6 77.8 776.7 83.0 776.7 87.3 776.8 86.1 776.9 87.0 776.9 88.7 777 80.7 777 72.4 777.1 73.8 777.2 75.7 777.2 86.9 777.3 91.3 777.3 83.4 777.4 76.6 777.5 69.8 777.5 82.7 777.6 84.0 777.6 91.0 777.7 73.1 777.7 66.5 777.8 57.7 777.9 63.6 777.9 58.1 778 65.4 778 76.4 778.1 78.3 778.2 73.5 778.2 82.1 778.3 71.8 778.3 71.5 778.4 68.9 778.4 69.0 778.5 67.7 778.6 56.4 778.6 70.2 778.7 69.2 778.7 71.1 778.8 83.6 778.9 90.7 778.9 74.5 779 74.6 779 74.7 779.1 81.1 779.1 82.3 779.2 87.3 779.3 90.7 779.3 78.9 779.4 73.5 779.4 68.8 779.5 68.5 779.5 63.5 779.6 64.0 779.7 60.8 779.7 72.7 779.8 82.9 779.8 91.4 779.9 90.6 780 84.0 780 85.0 780.1 97.9 780.1 97.1 780.2 93.2 780.2 92.7 780.3 72.3 780.4 78.0 780.4 79.1 780.5 68.0 780.5 61.9 780.6 66.2 780.6 66.1 780.7 64.7 780.8 74.6 780.8 72.2 780.9 60.4 780.9 69.6 781 68.1 781 67.0 781.1 70.6 781.2 69.6 781.2 74.4 781.3 77.7 781.3 80.1 781.4 71.6 781.4 84.6 781.5 83.6 781.6 93.1 781.6 95.6 781.7 90.7 781.7 89.9 781.8 85.8 781.8 87.1 781.9 84.2 782 76.6 782 80.8 782.1 92.8 782.1 98.7 782.2 95.4 782.2 89.9 782.3 87.7 782.3 76.5 782.4 79.3 782.5 67.3 782.5 78.6 782.6 61.6 782.6 73.5 782.7 71.4 782.7 75.3 782.8 76.8 782.9 70.3 782.9 69.8 783 76.4 783 66.1 783.1 68.6 783.1 76.8 783.2 75.9 783.2 85.2 783.3 73.2 783.4 79.5 783.4 87.3 783.5 81.6 783.5 75.6 783.6 70.7 783.6 68.4 783.7 70.2 783.8 70.3 783.8 70.3 783.9 70.6 783.9 72.0 784 75.4 784 76.7 784.1 79.1 784.1 86.8 784.2 84.7 784.3 94.8 784.3 86.0 784.4 81.8 784.4 76.1 784.5 81.6 784.5 86.0 784.6 89.0 784.6 93.9 784.7 80.9 784.8 78.2 784.8 88.2 784.9 88.3 784.9 71.4 785 65.4 785 57.8 785.1 61.3 785.1 63.1 785.2 73.0 785.2 79.1 785.3 87.7 785.4 86.9 785.4 89.0 785.5 74.8 785.5 71.2 785.6 64.9 785.6 49.9 785.7 68.6 785.7 72.3 785.8 73.6 785.9 76.8 785.9 72.8 786 73.6 786 68.8 786.1 65.2 786.1 78.5 786.2 70.5 786.2 66.3 786.3 65.5 786.3 58.5 786.4 61.8 786.5 68.8 786.5 75.5 786.6 82.3 786.6 74.5 786.7 81.9 786.7 75.1 786.8 71.2 786.8 75.7 786.9 78.9 786.9 63.6 787 59.7 787.1 76.6 787.1 75.6 787.2 74.8 787.2 85.2 787.3 83.9 787.3 78.1 787.4 64.6 787.4 59.0 787.5 56.4 787.5 66.6 787.6 71.7 787.7 70.1 787.7 74.0 787.8 80.3 787.8 83.7 787.9 73.2 787.9 75.9 788 78.5 788 83.0 788.1 82.0 788.1 73.1 788.2 73.2 788.2 77.9 788.3 79.6 788.4 77.7 788.4 74.1 788.5 71.9 788.5 71.2 788.6 61.5 788.6 69.3 788.7 72.2 788.7 64.6 788.8 71.6 788.8 72.8 788.9 77.9 788.9 78.3 789 68.1 789 88.0 789.1 87.4 789.2 90.4 789.2 86.1 789.3 78.5 789.3 82.4 789.4 79.6 789.4 86.5 789.5 77.4 789.5 97.7 789.6 97.6 789.6 86.2 789.7 74.5 789.7 73.6 789.8 75.9 789.8 69.6 789.9 71.1 790 68.2 790 66.5 790.1 63.1 790.1 69.2 790.2 73.0 790.2 63.8 790.3 64.7 790.3 64.3 790.4 72.2 790.4 83.3 790.5 84.9 790.5 83.1 790.6 74.8 790.6 76.0 790.7 64.6 790.7 66.2 790.8 76.2 790.9 74.0 790.9 78.5 791 73.8 791 69.2 791.1 63.5 791.1 72.4 791.2 77.3 791.2 89.9 791.3 91.3 791.3 86.3 791.4 83.2 791.4 81.1 791.5 80.6 791.5 72.4 791.6 70.4 791.6 72.1 791.7 77.9 791.7 88.1 791.8 87.4 791.9 72.4 791.9 69.9 792 69.6 792 60.6 792.1 70.6 792.1 65.3 792.2 68.1 792.2 76.1 792.3 78.9 792.3 73.4 792.4 70.7 792.4 74.8 792.5 69.5 792.5 70.2 792.6 54.9 792.6 52.2 792.7 63.3 792.7 64.6 792.8 69.2 792.8 75.8 792.9 66.7 792.9 63.1 793 58.9 793 62.1 793.1 60.1 793.2 67.3 793.2 67.6 793.3 77.3 793.3 74.7 793.4 89.4 793.4 81.7 793.5 83.3 793.5 68.9 793.6 76.8 793.6 83.1 793.7 91.4 793.7 88.0 793.8 71.8 793.8 68.1 793.9 68.8 793.9 68.9 794 76.2 794 82.1 794.1 72.2 794.1 69.3 794.2 69.6 794.2 68.9 794.3 76.2 794.3 67.9 794.4 74.2 794.4 74.1 794.5 75.5 794.5 65.6 794.6 65.6 794.6 53.0 794.7 59.6 794.7 56.4 794.8 64.0 794.8 76.4 794.9 66.6 794.9 67.4 795 62.9 795 67.1 795.1 81.3 795.2 82.8 795.2 90.2 795.3 75.0 795.3 74.4 795.4 72.8 795.4 76.4 795.5 81.0 795.5 85.8 795.6 78.7 795.6 78.4 795.7 75.2 795.7 73.8 795.8 64.1 795.8 70.3 795.9 66.5 795.9 71.3 796 67.6 796 60.7 796.1 68.4 796.1 80.0 796.2 85.3 796.2 82.4 796.3 72.6 796.3 63.1 796.4 60.5 796.4 67.0 796.5 63.0 796.5 73.1 796.6 69.6 796.6 59.6 796.7 66.1 796.7 67.4 796.8 70.2 796.8 72.3 796.9 61.7 796.9 67.9 797 78.3 797 75.8 797.1 73.8 797.1 72.4 797.2 71.0 797.2 72.3 797.3 72.0 797.3 57.4 797.4 60.8 797.4 69.5 797.5 69.4 797.5 69.9 797.6 71.6 797.6 68.6 797.7 67.5 797.7 66.7 797.8 80.2 797.8 87.7 797.9 81.4 797.9 78.1 798 76.0 798 75.2 798.1 70.3 798.1 73.7 798.2 71.8 798.2 81.3 798.3 76.3 798.3 71.4 798.4 77.4 798.4 67.2 798.5 60.4 798.5 80.0 798.6 85.1 798.6 82.5 798.7 78.6 798.7 71.6 798.8 63.4 798.8 56.0 798.9 64.8 798.9 52.5 799 56.3 799 66.2 799.1 63.9 799.1 73.0 799.2 74.7 799.2 69.5 799.3 75.4 799.3 76.9 799.4 74.8 799.4 76.0 799.5 81.9 799.5 83.7 799.5 87.9 799.6 82.6 799.6 82.2 799.7 74.8 799.7 68.8 799.8 74.7 799.8 62.1 799.9 62.2 799.9 58.4 800 58.5 800 67.4 800.1 79.6 800.1 84.7 800.2 77.4 800.2 74.4 800.3 67.1 800.3 69.2 800.4 66.8 800.4 63.5 800.5 66.1 800.5 73.4 800.6 91.1 800.6 85.5 800.7 84.3 800.7 68.8 800.8 68.4 800.8 73.7 800.9 77.5 800.9 71.0 801 73.4 801 76.8 801.1 77.3 801.1 75.4 801.2 65.1 801.2 56.7 801.3 58.8 801.3 69.5 801.4 71.9 801.4 72.6 801.4 73.3 801.5 71.6 801.5 69.0 801.6 72.5 801.6 76.1 801.7 87.5 801.7 94.3 801.8 78.4 801.8 74.7 801.9 69.6 801.9 79.5 802 68.6 802 64.2 802.1 60.0 802.1 57.8 802.2 57.2 802.2 63.1 802.3 68.5 802.3 60.0 802.4 67.7 802.4 65.2 802.5 71.1 802.5 67.8 802.6 78.2 802.6 71.0 802.7 69.7 802.7 65.0 802.7 64.8 802.8 76.8 802.8 81.7 802.9 84.7 802.9 74.8 803 60.5 803 59.0 803.1 63.3 803.1 75.4 803.2 77.9 803.2 83.3 803.3 74.3 803.3 68.9 803.4 62.5 803.4 58.7 803.5 65.0 803.5 90.3 803.6 87.3 803.6 84.7 803.7 66.5 803.7 73.8 803.7 71.4 803.8 69.7 803.8 72.0 803.9 70.9 803.9 76.1 804 85.7 804 82.5 804.1 82.1 804.1 77.5 804.2 71.0 804.2 71.4 804.3 70.7 804.3 74.9 804.4 76.6 804.4 70.2 804.5 74.3 804.5 90.3 804.6 82.7 804.6 79.2 804.6 76.9 804.7 64.4 804.7 73.2 804.8 71.1 804.8 71.1 804.9 68.6 804.9 67.3 805 68.2 805 67.9 805.1 73.2 805.1 73.1 805.2 72.7 805.2 66.6 805.3 74.4 805.3 60.1 805.4 65.5 805.4 70.7 805.4 68.5 805.5 60.3 805.5 70.2 805.6 81.5 805.6 89.9 805.7 80.8 805.7 77.3 805.8 66.4 805.8 69.5 805.9 82.3 805.9 89.7 806 80.0 806 73.5 806.1 69.3 806.1 72.4 806.1 80.6 806.2 84.8 806.2 72.0 806.3 64.4 806.3 69.2 806.4 65.8 806.4 69.4 806.5 64.3 806.5 71.1 806.6 69.0 806.6 69.9 806.7 78.7 806.7 74.5 806.7 64.6 806.8 68.5 806.8 74.7 806.9 83.3 806.9 76.5 807 70.0 807 63.3 807.1 62.5 807.1 61.2 807.2 68.1 807.2 75.9 807.3 84.8 807.3 77.2 807.3 86.0 807.4 76.3 807.4 64.5 807.5 74.0 807.5 83.7 807.6 79.5 807.6 82.7 807.7 73.9 807.7 78.8 807.8 79.6 807.8 67.1 807.9 64.5 807.9 66.9 807.9 72.9 808 67.2 808 67.1 808.1 72.1 808.1 67.0 808.2 70.4 808.2 74.8 808.3 84.6 808.3 77.2 808.4 80.5 808.4 84.2 808.4 78.9 808.5 81.0 808.5 80.9 808.6 72.7 808.6 83.5 808.7 82.5 808.7 85.2 808.8 78.2 808.8 79.8 808.9 79.4 808.9 82.4 809 78.1 809 76.2 809 66.2 809.1 65.7 809.1 66.2 809.2 79.8 809.2 91.2 809.3 90.9 809.3 90.7 809.4 94.2 809.4 87.5 809.5 80.3 809.5 73.8 809.5 64.4 809.6 75.5 809.6 72.3 809.7 71.3 809.7 64.6 809.8 61.1 809.8 64.2 809.9 77.4 809.9 74.2 809.9 76.4 810 73.4 810 75.3 810.1 74.9 810.1 66.9 810.2 68.1 810.2 73.4 810.3 77.3 810.3 75.2 810.4 68.2 810.4 71.2 810.4 65.0 810.5 70.7 810.5 66.9 810.6 70.8 810.6 73.3 810.7 75.4 810.7 80.0 810.8 73.1 810.8 74.5 810.8 70.0 810.9 75.6 810.9 75.6 811 79.1 811 73.5 811.1 72.8 811.1 79.8 811.2 91.3 811.2 92.9 811.2 93.5 811.3 86.8 811.3 62.2 811.4 59.9 811.4 64.8 811.5 72.1 811.5 76.7 811.6 82.0 811.6 84.4 811.7 74.5 811.7 67.5 811.7 70.8 811.8 60.7 811.8 74.7 811.9 76.0 811.9 64.7 812 55.2 812 59.1 812.1 60.6 812.1 75.9 812.1 80.7 812.2 85.4 812.2 87.2 812.3 87.6 812.3 93.9 812.4 96.7 812.4 92.1 812.4 88.3 812.5 79.4 812.5 72.5 812.6 74.2 812.6 67.9 812.7 64.7 812.7 63.8 812.8 65.2 812.8 65.7 812.8 68.8 812.9 78.2 812.9 76.1 813 88.5 813 85.0 813.1 92.6 813.1 84.9 813.2 90.5 813.2 85.9 813.2 81.5 813.3 85.8 813.3 84.1 813.4 81.2 813.4 76.7 813.5 75.7 813.5 73.7 813.5 69.7 813.6 67.4 813.6 65.1 813.7 61.4 813.7 64.7 813.8 79.6 813.8 74.1 813.9 82.4 813.9 74.2 813.9 78.6 814 80.5 814 72.9 814.1 58.8 814.1 43.1 814.2 44.5 814.2 51.2 814.2 57.8 814.3 61.9 814.3 73.0 814.4 67.9 814.4 79.0 814.5 65.4 814.5 67.1 814.6 67.6 814.6 71.2 814.6 71.2 814.7 72.6 814.7 76.9 814.8 83.2 814.8 83.6 814.9 77.3 814.9 65.3 814.9 67.4 815 75.2 815 80.2 815.1 76.0 815.1 57.3 815.2 50.8 815.2 47.7 815.2 57.5 815.3 77.2 815.3 91.2 815.4 92.6 815.4 78.3 815.5 83.3 815.5 64.7 815.5 77.5 815.6 84.8 815.6 92.4 815.7 68.4 815.7 66.1 815.8 69.9 815.8 75.2 815.8 74.6 815.9 81.1 815.9 73.8 816 75.3 816 79.8 816.1 86.9 816.1 83.0 816.2 67.7 816.2 70.2 816.2 64.2 816.3 72.8 816.3 82.6 816.4 89.2 816.4 91.2 816.5 87.0 816.5 79.1 816.5 89.2 816.6 98.5 816.6 100.3 816.7 96.5 816.7 89.8 816.7 91.6 816.8 86.7 816.8 83.0 816.9 76.6 816.9 79.2 817 75.5 817 80.1 817 83.0 817.1 84.5 817.1 85.1 817.2 85.9 817.2 83.3 817.3 72.1 817.3 76.7 817.3 75.2 817.4 76.7 817.4 75.2 817.5 69.1 817.5 78.2 817.6 89.0 817.6 92.0 817.6 86.5 817.7 92.8 817.7 97.0 817.8 93.5 817.8 84.9 817.9 82.2 817.9 83.4 817.9 75.0 818 75.0 818 68.8 818.1 64.4 818.1 69.0 818.2 75.5 818.2 84.7 818.2 84.4 818.3 74.0 818.3 62.6 818.4 70.2 818.4 75.8 818.4 81.0 818.5 90.1 818.5 83.6 818.6 82.5 818.6 78.5 818.7 77.7 818.7 66.0 818.7 75.6 818.8 77.6 818.8 87.6 818.9 89.5 818.9 88.6 818.9 97.8 819 90.4 819 77.0 819.1 73.8 819.1 65.9 819.2 64.9 819.2 64.6 819.2 69.7 819.3 62.8 819.3 72.8 819.4 78.2 819.4 73.2 819.5 72.3 819.5 76.9 819.5 66.1 819.6 64.0 819.6 66.0 819.7 61.3 819.7 68.0 819.7 62.3 819.8 66.7 819.8 73.7 819.9 69.0 819.9 82.3 820 71.8 820 63.4 820 62.2 820.1 60.1 820.1 68.3 820.2 67.6 820.2 80.7 820.2 72.2 820.3 74.3 820.3 73.6 820.4 80.6 820.4 90.3 820.5 87.2 820.5 78.6 820.5 74.2 820.6 72.5 820.6 66.5 820.7 73.3 820.7 77.5 820.7 72.5 820.8 71.0 820.8 77.9 820.9 78.6 820.9 80.0 820.9 72.0 821 67.2 821 69.8 821.1 67.6 821.1 66.6 821.2 76.2 821.2 79.7 821.2 81.7 821.3 71.3 821.3 70.4 821.4 75.2 821.4 84.2 821.4 80.1 821.5 79.5 821.5 75.7 821.6 69.6 821.6 71.6 821.7 70.6 821.8 70.6 821.9 63.3 821.9 64.6 822 57.0 822.1 70.1 822.2 72.1 822.3 58.4 822.3 58.3 822.4 60.1 822.5 77.9 822.6 77.3 822.7 79.4 822.7 78.1 822.8 71.9 822.9 61.2 823 69.1 823.1 67.6 823.2 70.7 823.2 75.3 823.3 78.2 823.4 67.2 823.5 68.9 823.6 65.9 823.6 60.9 823.7 67.6 823.8 65.7 823.9 89.5 824 84.2 824 91.9 824.1 83.3 824.2 86.4 824.3 88.1 824.4 80.4 824.4 92.6 824.5 87.4 824.6 65.8 824.7 64.7 824.8 78.4 824.8 77.0 824.9 78.8 825 86.7 825.1 71.8 825.2 83.7 825.2 78.1 825.3 86.3 825.4 88.2 825.5 56.6 825.6 59.6 825.6 63.7 825.7 69.2 825.8 68.1 825.9 82.0 826 72.5 826 77.8 826.1 70.0 826.2 74.3 826.3 92.9 826.4 72.9 826.4 57.7 826.5 65.6 826.6 78.3 826.7 78.0 826.7 68.6 826.8 55.1 826.9 83.9 827 82.8 827.1 72.7 827.1 71.1 827.2 59.5 827.3 64.9 827.4 77.0 827.5 72.5 827.5 60.8 827.6 70.0 827.7 77.3 827.8 82.8 827.8 69.0 827.9 74.0 828 87.0 828.1 83.0 828.2 101.5 828.2 91.7 828.3 74.7 828.4 89.9 828.5 92.5 828.5 100.8 828.6 103.1 828.7 77.8 828.8 53.5 828.9 63.6 828.9 64.1 829 71.5 829.1 85.4 829.2 81.1 829.2 83.8 829.3 84.0 829.4 89.4 829.5 95.5 829.6 84.4 829.6 68.0 829.7 66.1 829.8 69.9 829.9 72.3 829.9 69.0 830 76.5 830.1 56.0 830.2 64.2 830.2 70.6 830.3 66.0 830.4 87.5 830.5 79.7 830.5 67.5 830.6 66.3 830.7 63.2 830.8 73.5 830.9 70.2 830.9 71.8 831 76.3 831.1 67.1 831.2 66.6 831.2 71.8 831.3 87.8 831.4 84.0 831.5 80.1 831.5 76.2 831.6 81.4 831.7 77.1 831.8 68.5 831.8 75.7 831.9 69.6 832 76.3 832.1 72.7 832.1 76.5 832.2 80.9 832.3 85.4 832.4 93.0 832.4 85.0 832.5 56.9 832.6 51.6 832.7 64.4 832.7 68.0 832.8 69.1 832.9 71.4 833 68.9 833 79.4 833.1 76.1 833.2 68.1 833.3 62.5 833.3 73.3 833.4 68.2 833.5 80.0 833.6 72.8 833.6 68.3 833.7 66.9 833.8 67.7 833.9 85.7 833.9 76.1 834 57.4 834.1 72.4 834.2 90.4 834.2 82.8 834.3 79.7 834.4 72.0 834.5 74.5 834.5 73.9 834.6 67.0 834.7 78.7 834.8 80.0 834.8 63.5 834.9 59.2 835 68.2 835 63.1 835.1 57.0 835.2 69.2 835.3 63.5 835.3 61.7 835.4 80.9 835.5 87.7 835.6 68.5 835.6 82.3 835.7 72.4 835.8 72.6 835.9 73.5 835.9 102.9 836 77.9 836.1 76.4 836.1 72.7 836.2 76.2 836.3 63.0 836.4 59.7 836.4 70.5 836.5 68.5 836.6 78.4 836.7 77.5 836.7 67.8 836.8 75.4 836.9 86.3 836.9 80.1 837 87.0 837.1 79.6 837.2 79.7 837.2 74.7 837.3 80.1 837.4 67.6 837.5 61.0 837.5 62.1 837.6 85.8 837.7 81.4 837.7 70.2 837.8 63.0 837.9 70.3 838 66.0 838 77.7 838.1 74.3 838.2 67.4 838.2 69.7 838.3 74.1 838.4 63.5 838.5 63.6 838.5 63.6 838.6 61.8 838.7 81.5 838.7 79.3 838.8 77.1 838.9 65.1 839 76.6 839 73.1 839.1 72.4 839.2 78.5 839.2 77.2 839.3 64.5 839.4 60.5 839.5 76.7 839.5 69.6 839.6 70.6 839.7 75.2 839.7 80.0 839.8 82.1 839.9 75.3 840 71.5 840 66.3 840.1 61.4 840.2 74.1 840.2 73.9 840.3 70.0 840.4 66.2 840.4 64.6 840.5 71.8 840.6 75.7 840.7 63.5 840.7 65.3 840.8 98.2 840.9 96.1 840.9 74.0 841 66.4 841.1 78.1 841.1 80.8 841.2 60.3 841.3 60.8 841.4 78.6 841.4 69.5 841.5 69.8 841.6 60.8 841.6 81.8 841.7 93.7 841.8 78.4 841.8 74.0 841.9 77.3 842 70.2 842.1 81.7 842.1 75.0 842.2 78.4 842.3 71.4 842.3 67.9 842.4 75.4 842.5 65.9 842.5 66.7 842.6 62.2 842.7 60.2 842.7 54.1 842.8 65.1 842.9 76.4 843 83.8 843 90.1 843.1 84.6 843.2 75.6 843.2 83.9 843.3 75.0 843.4 76.3 843.4 81.6 843.5 82.6 843.6 88.0 843.6 78.6 843.7 70.3 843.8 69.0 843.8 66.7 843.9 82.7 844 71.4 844.1 65.5 844.1 77.6 844.2 81.1 844.3 64.1 844.3 52.7 844.4 55.4 844.5 75.4 844.5 59.4 844.6 59.0 844.7 73.1 844.7 86.8 844.8 87.6 844.9 64.7 844.9 60.2 845 68.6 845.1 81.6 845.1 91.9 845.2 85.6 845.3 79.5 845.3 76.7 845.4 79.6 845.5 82.7 845.6 76.5 845.6 68.9 845.7 69.7 845.8 66.8 845.8 78.2 845.9 76.2 846 92.0 846 87.8 846.1 83.3 846.2 83.5 846.2 62.7 846.3 58.3 846.4 77.4 846.4 72.1 846.5 67.0 846.6 64.5 846.6 73.8 846.7 75.0 846.8 67.7 846.8 69.2 846.9 74.0 847 67.0 847 80.9 847.1 84.0 847.2 72.8 847.2 84.6 847.3 82.9 847.4 77.1 847.4 79.6 847.5 84.7 847.6 86.5 847.6 92.3 847.7 81.1 847.8 67.0 847.8 73.5 847.9 83.8 848 74.5 848 68.0 848.1 76.9 848.2 86.8 848.2 79.4 848.3 69.2 848.4 83.3 848.4 75.5 848.5 72.2 848.6 78.7 848.6 93.2 848.7 78.4 848.8 75.7 848.8 71.6 848.9 80.1 848.9 87.3 849 85.9 849.1 81.0 849.1 78.6 849.2 75.3 849.3 71.7 849.3 63.3 849.4 68.3 849.5 72.4 849.5 64.7 849.6 68.9 849.7 79.2 849.7 87.9 849.8 72.4 849.9 71.2 849.9 67.8 850 72.7 850.1 75.8 850.1 93.8 850.2 93.0 850.3 76.8 850.3 77.2 850.4 65.5 850.5 59.0 850.5 59.8 850.6 41.8 850.6 61.4 850.7 69.7 850.8 74.9 850.8 67.4 850.9 62.5 851 59.2 851 80.0 851.1 75.7 851.2 83.3 851.2 77.8 851.3 80.7 851.4 75.7 851.4 67.3 851.5 70.1 851.6 68.9 851.6 78.0 851.7 79.4 851.7 83.1 851.8 82.1 851.9 80.4 851.9 78.3 852 79.7 852.1 87.6 852.1 68.5 852.2 71.7 852.3 80.1 852.3 76.2 852.4 92.4 852.4 94.1 852.5 76.2 852.6 71.8 852.6 68.5 852.7 75.3 852.8 71.4 852.8 65.0 852.9 75.1 853 81.4 853 84.6 853.1 81.7 853.1 81.2 853.2 54.0 853.3 69.0 853.3 84.5 853.4 70.1 853.5 71.4 853.5 73.6 853.6 81.6 853.7 71.3 853.7 56.0 853.8 66.5 853.8 81.2 853.9 88.5 854 70.4 854 67.6 854.1 71.7 854.2 75.3 854.2 62.6 854.3 65.7 854.4 71.2 854.4 75.0 854.5 71.7 854.5 68.5 854.6 71.6 854.7 84.8 854.7 78.4 854.8 77.1 854.9 61.4 854.9 65.6 855 68.1 855 64.9 855.1 65.8 855.2 58.2 855.2 80.8 855.3 84.7 855.4 73.6 855.4 87.3 855.5 85.9 855.5 92.5 855.6 86.8 855.7 72.5 855.7 73.3 855.8 56.5 855.9 60.5 855.9 80.5 856 76.7 856 65.3 856.1 51.1 856.2 71.5 856.2 82.9 856.3 97.8 856.3 85.7 856.4 77.5 856.5 86.1 856.5 86.5 856.6 92.0 856.7 80.1 856.7 88.5 856.8 82.9 856.8 72.5 856.9 69.2 857 63.8 857 54.8 857.1 72.5 857.2 74.1 857.2 70.5 857.3 73.6 857.3 87.4 857.4 73.1 857.5 73.8 857.5 88.1 857.6 57.5 857.6 52.9 857.7 73.5 857.8 72.2 857.8 64.6 857.9 72.8 857.9 58.0 858 62.2 858.1 72.3 858.1 78.9 858.2 73.2 858.3 63.3 858.3 77.8 858.4 75.5 858.4 73.6 858.5 77.1 858.6 73.9 858.6 63.9 858.7 73.5 858.7 79.6 858.8 71.1 858.9 75.1 858.9 76.7 859 93.6 859 97.1 859.1 86.5 859.2 76.3 859.2 67.7 859.3 70.9 859.3 81.8 859.4 80.8 859.5 74.4 859.5 62.1 859.6 70.3 859.6 81.7 859.7 86.6 859.8 78.9 859.8 65.1 859.9 71.8 859.9 72.8 860 68.4 860.1 62.1 860.1 59.7 860.2 59.5 860.2 62.2 860.3 76.8 860.4 77.9 860.4 86.3 860.5 69.0 860.5 68.5 860.6 74.9 860.7 58.5 860.7 60.5 860.8 58.3 860.8 59.7 860.9 63.8 861 68.2 861 84.7 861.1 75.7 861.1 68.6 861.2 72.0 861.3 77.5 861.3 82.5 861.4 79.2 861.4 71.8 861.5 78.2 861.6 83.3 861.6 74.2 861.7 71.3 861.7 68.9 861.8 77.6 861.9 71.6 861.9 51.1 862 54.2 862 53.3 862.1 64.5 862.2 63.3 862.2 69.2 862.3 72.5 862.3 71.6 862.4 96.3 862.4 94.2 862.5 77.9 862.6 65.9 862.6 58.5 862.7 66.8 862.7 80.1 862.8 91.3 862.9 84.1 862.9 69.1 863 63.4 863 71.9 863.1 71.5 863.2 73.8 863.2 75.7 863.3 79.3 863.3 76.6 863.4 82.7 863.4 80.0 863.5 79.8 863.6 77.5 863.6 86.7 863.7 88.7 863.7 77.3 863.8 84.2 863.9 68.9 863.9 70.2 864 68.8 864 76.5 864.1 74.1 864.1 67.0 864.2 56.1 864.3 59.6 864.3 66.9 864.4 77.9 864.4 79.3 864.5 72.9 864.5 68.2 864.6 78.3 864.7 87.1 864.7 73.2 864.8 81.4 864.8 78.9 864.9 81.2 865 80.0 865 76.3 865.1 73.3 865.1 65.8 865.2 77.1 865.2 78.1 865.3 77.4 865.4 73.3 865.4 79.1 865.5 83.4 865.5 71.3 865.6 75.0 865.6 95.7 865.7 88.5 865.8 82.8 865.8 80.2 865.9 79.7 865.9 87.4 866 84.0 866 86.5 866.1 87.8 866.2 90.7 866.2 89.3 866.3 71.5 866.3 78.6 866.4 73.3 866.4 81.8 866.5 82.6 866.6 90.7 866.6 63.3 866.7 63.7 866.7 75.5 866.8 68.8 866.8 65.6 866.9 78.7 867 82.3 867 91.1 867.1 72.1 867.1 73.8 867.2 79.1 867.2 75.5 867.3 85.8 867.4 70.3 867.4 58.3 867.5 64.3 867.5 74.9 867.6 76.4 867.6 90.3 867.7 87.2 867.8 71.5 867.8 73.8 867.9 68.5 867.9 76.3 868 71.7 868 74.2 868.1 70.5 868.1 90.4 868.2 92.5 868.3 92.5 868.3 83.1 868.4 85.6 868.4 74.3 868.5 70.2 868.5 83.0 868.6 78.1 868.7 67.7 868.7 80.9 868.8 82.8 868.8 73.4 868.9 75.8 868.9 66.0 869 67.8 869 71.3 869.1 85.2 869.2 67.7 869.2 68.7 869.3 66.5 869.3 70.1 869.4 63.6 869.4 56.8 869.5 68.5 869.5 75.6 869.6 75.6 869.7 70.4 869.7 65.4 869.8 75.0 869.8 81.1 869.9 82.7 869.9 83.2 870 85.9 870 78.5 870.1 55.1 870.2 68.0 870.2 73.6 870.3 82.6 870.3 70.9 870.4 82.4 870.4 73.6 870.5 65.2 870.5 77.9 870.6 76.9 870.7 70.8 870.7 71.7 870.8 67.3 870.8 63.1 870.9 72.4 870.9 77.5 871 71.3 871 77.4 871.1 67.5 871.1 57.5 871.2 78.0 871.3 86.5 871.3 71.9 871.4 72.7 871.4 82.6 871.5 80.3 871.5 84.7 871.6 81.7 871.6 65.6 871.7 71.8 871.7 94.5 871.8 76.4 871.9 57.2 871.9 74.3 872 85.9 872 67.9 872.1 48.3 872.1 66.2 872.2 66.8 872.2 80.6 872.3 86.2 872.3 78.0 872.4 72.1 872.5 82.5 872.5 92.2 872.6 100.4 872.6 83.2 872.7 78.8 872.7 73.2 872.8 95.7 872.8 90.4 872.9 96.6 872.9 76.3 873 74.8 873.1 72.7 873.1 60.2 873.2 60.3 873.2 58.9 873.3 71.7 873.3 70.0 873.4 68.5 873.4 75.5 873.5 71.8 873.5 72.7 873.6 71.9 873.6 77.4 873.7 76.5 873.8 77.1 873.8 91.2 873.9 88.8 873.9 75.3 874 71.3 874 77.3 874.1 71.4 874.1 93.1 874.2 87.1 874.2 71.9 874.3 72.6 874.3 75.8 874.4 76.0 874.5 70.5 874.5 67.1 874.6 63.2 874.6 70.2 874.7 83.0 874.7 82.6 874.8 78.7 874.8 76.3 874.9 70.6 874.9 68.8 875 79.3 875 71.4 875.1 53.4 875.1 60.7 875.2 58.0 875.2 71.4 875.3 66.6 875.4 63.4 875.4 71.6 875.5 70.6 875.5 71.7 875.6 66.0 875.6 70.0 875.7 50.4 875.7 48.0 875.8 50.1 875.8 71.3 875.9 90.3 875.9 85.9 876 92.7 876 76.6 876.1 83.5 876.1 79.2 876.2 75.2 876.3 61.8 876.3 63.4 876.4 80.0 876.4 72.4 876.5 82.3 876.5 87.7 876.6 75.9 876.6 75.0 876.7 69.1 876.7 68.7 876.8 74.2 876.8 55.4 876.9 59.6 876.9 73.0 877 72.0 877 82.2 877.1 71.1 877.1 84.4 877.2 80.4 877.3 78.2 877.3 83.6 877.4 82.9 877.4 84.4 877.5 97.0 877.5 76.1 877.6 71.0 877.6 79.4 877.7 79.5 877.7 78.4 877.8 88.2 877.8 85.2 877.9 92.6 877.9 94.6 878 92.6 878 73.9 878.1 68.3 878.1 82.4 878.2 83.8 878.2 75.0 878.3 70.6 878.3 55.2 878.4 51.0 878.4 75.1 878.5 94.3 878.5 88.7 878.6 79.2 878.7 73.6 878.7 70.1 878.8 72.2 878.8 80.1 878.9 72.1 878.9 82.5 879 90.4 879 82.0 879.1 69.2 879.1 70.3 879.2 65.9 879.2 75.7 879.3 78.0 879.3 71.6 879.4 73.0 879.4 68.4 879.5 62.7 879.5 72.5 879.6 68.5 879.6 73.8 879.7 70.3 879.7 70.9 879.8 59.1 879.8 53.2 879.9 68.9 879.9 59.5 880 69.8 880 68.5 880.1 81.3 880.1 87.8 880.2 73.8 880.2 86.2 880.3 85.4 880.3 76.1 880.4 68.8 880.4 75.2 880.5 84.5 880.5 73.5 880.6 79.4 880.7 71.9 880.7 71.1 880.8 65.2 880.8 74.3 880.9 77.3 880.9 81.8 881 76.6 881 69.5 881.1 64.4 881.1 54.2 881.2 77.7 881.2 76.1 881.3 84.5 881.3 80.1 881.4 80.3 881.4 59.7 881.5 70.4 881.5 86.8 881.6 87.8 881.6 100.7 881.7 88.2 881.7 78.4 881.8 68.9 881.8 74.5 881.9 84.8 881.9 73.6 882 74.7 882 75.9 882.1 72.9 882.1 67.9 882.2 56.7 882.2 67.1 882.3 64.0 882.3 62.2 882.4 68.9 882.4 55.3 882.5 68.7 882.5 80.8 882.6 78.1 882.6 57.8 882.7 66.6 882.7 64.8 882.8 70.8 882.8 84.9 882.9 88.5 882.9 73.5 883 65.2 883 58.7 883.1 67.9 883.1 65.7 883.2 75.5 883.2 79.4 883.3 75.3 883.3 80.2 883.4 75.9 883.4 76.3 883.5 87.8 883.5 95.1 883.6 78.8 883.6 77.5 883.7 80.4 883.7 72.4 883.8 61.8 883.8 75.9 883.9 90.0 883.9 85.7 884 71.7 884 69.2 884.1 67.3 884.1 73.1 884.2 74.6 884.2 75.6 884.3 85.7 884.3 67.7 884.4 64.4 884.4 84.2 884.5 72.7 884.5 65.7 884.6 63.2 884.6 58.5 884.7 80.5 884.7 85.7 884.7 74.4 884.8 66.4 884.8 70.8 884.9 58.8 884.9 72.3 885 82.7 885 91.3 885.1 86.5 885.1 80.0 885.2 69.7 885.2 71.2 885.3 72.0 885.3 65.5 885.4 77.4 885.4 66.7 885.5 68.2 885.5 83.0 885.6 84.6 885.6 72.0 885.7 70.9 885.7 81.6 885.8 88.9 885.8 81.5 885.9 78.5 885.9 65.4 886 72.4 886 65.6 886.1 50.5 886.1 63.1 886.2 81.0 886.2 83.3 886.3 75.7 886.3 83.5 886.4 81.2 886.4 66.0 886.5 63.7 886.5 61.3 886.6 69.4 886.6 78.6 886.7 86.5 886.7 83.9 886.7 85.0 886.8 76.0 886.8 68.0 886.9 64.9 886.9 63.4 887 69.9 887 66.1 887.1 72.1 887.1 59.1 887.2 72.6 887.2 71.8 887.3 68.1 887.3 81.5 887.4 68.5 887.4 62.0 887.5 64.0 887.5 62.7 887.6 67.2 887.6 68.7 887.7 73.5 887.7 68.0 887.8 78.6 887.8 77.5 887.9 65.8 887.9 61.7 888 68.3 888 78.8 888 74.5 888.1 70.1 888.1 63.6 888.2 73.3 888.2 80.3 888.3 74.4 888.3 86.9 888.4 70.0 888.4 71.6 888.5 73.0 888.5 82.8 888.6 79.7 888.6 72.2 888.7 77.2 888.7 70.2 888.8 84.6 888.8 91.9 888.9 88.5 888.9 90.4 889 73.9 889 74.6 889 65.3 889.1 61.4 889.1 68.2 889.2 63.5 889.2 77.2 889.3 67.3 889.3 75.6 889.4 72.8 889.4 74.4 889.5 62.5 889.5 64.8 889.6 70.5 889.6 62.4 889.7 71.8 889.7 84.1 889.8 79.3 889.8 74.0 889.9 96.3 889.9 91.8 889.9 78.0 890 79.6 890 80.4 890.1 67.3 890.1 77.4 890.2 86.9 890.2 88.9 890.3 89.8 890.3 94.0 890.4 84.1 890.4 67.2 890.5 65.2 890.5 71.0 890.6 76.8 890.6 76.5 890.7 75.1 890.7 67.2 890.7 64.9 890.8 66.7 890.8 77.0 890.9 54.8 890.9 59.1 891 69.1 891 61.2 891.1 67.4 891.1 65.2 891.2 73.4 891.2 93.1 891.3 87.4 891.3 59.0 891.4 74.6 891.4 79.5 891.4 76.5 891.5 81.7 891.5 77.1 891.6 71.6 891.6 64.8 891.7 91.7 891.7 95.7 891.8 94.6 891.8 85.1 891.9 67.1 891.9 61.8 892 73.5 892 75.5 892 74.5 892.1 76.9 892.1 72.7 892.2 67.0 892.2 73.8 892.3 77.1 892.3 72.3 892.4 53.6 892.4 60.4 892.5 67.3 892.5 72.9 892.6 79.2 892.6 83.8 892.6 82.1 892.7 85.6 892.7 66.7 892.8 69.3 892.8 90.7 892.9 91.5 892.9 77.0 893 67.2 893 64.1 893.1 88.6 893.1 78.1 893.2 74.0 893.2 72.7 893.2 81.8 893.3 90.1 893.3 80.7 893.4 77.5 893.4 83.4 893.5 77.2 893.5 54.5 893.6 73.0 893.6 69.9 893.7 63.0 893.7 72.1 893.8 62.4 893.8 70.9 893.8 78.3 893.9 74.3 893.9 68.7 894 78.1 894 85.3 894.1 70.6 894.1 70.1 894.2 74.2 894.2 78.3 894.3 75.4 894.3 87.6 894.3 93.5 894.4 89.2 894.4 72.4 894.5 81.0 894.5 82.4 894.6 75.4 894.6 76.6 894.7 80.0 894.7 88.2 894.8 80.9 894.8 76.0 894.8 70.8 894.9 67.1 894.9 79.9 895 82.9 895 94.7 895.1 88.6 895.1 88.0 895.2 80.3 895.2 66.3 895.2 66.3 895.3 80.5 895.3 96.2 895.4 83.6 895.4 82.6 895.5 78.6 895.5 79.4 895.6 77.4 895.6 67.2 895.7 73.0 895.7 80.0 895.7 84.3 895.8 82.3 895.8 81.3 895.9 65.4 895.9 77.2 896 76.1 896 80.6 896.1 62.1 896.1 80.0 896.1 80.7 896.2 83.4 896.2 73.1 896.3 60.5 896.3 64.2 896.4 65.6 896.4 73.0 896.5 63.5 896.5 93.5 896.6 88.4 896.6 87.2 896.6 66.3 896.7 67.3 896.7 68.7 896.8 58.7 896.8 62.3 896.9 74.2 896.9 65.6 897 70.9 897 66.8 897 69.8 897.1 81.8 897.1 71.4 897.2 74.4 897.2 70.2 897.3 65.1 897.3 63.4 897.4 58.8 897.4 70.1 897.4 72.9 897.5 80.7 897.5 77.2 897.6 66.7 897.6 65.6 897.7 70.2 897.7 73.7 897.8 84.8 897.8 78.8 897.8 98.2 897.9 90.5 897.9 84.5 898 93.3 898 72.8 898.1 67.9 898.1 62.7 898.1 68.8 898.2 68.2 898.2 72.2 898.3 77.1 898.3 74.0 898.4 74.8 898.4 71.5 898.5 65.5 898.5 68.6 898.5 64.4 898.6 65.8 898.6 73.3 898.7 76.9 898.7 77.1 898.8 81.6 898.8 75.7 898.9 66.1 898.9 78.9 898.9 85.4 899 86.8 899 79.2 899.1 84.8 899.1 88.2 899.2 66.5 899.2 78.3 899.2 82.0 899.3 78.2 899.3 83.5 899.4 88.9 899.4 82.6 899.5 77.0 899.5 67.5 899.6 73.2 899.6 76.7 899.6 66.3 899.7 72.5 899.7 82.0 899.8 77.1 899.8 73.2 899.9 66.5 899.9 71.5 899.9 74.1 900 72.9 900 74.3 900.1 79.3 900.1 87.1 900.2 75.6 900.2 67.7 900.2 70.1 900.3 79.2 900.3 71.4 900.4 69.1 900.4 57.0 900.5 58.8 900.5 82.4 900.6 74.7 900.6 82.0 900.6 75.8 900.7 82.1 900.7 82.8 900.8 85.4 900.8 101.0 900.9 95.5 900.9 76.4 900.9 74.2 901 63.0 901 73.8 901.1 81.1 901.1 73.0 901.2 63.2 901.2 71.4 901.2 65.6 901.3 73.0 901.3 68.7 901.4 68.0 901.4 57.3 901.5 79.0 901.5 80.7 901.5 59.3 901.6 70.6 901.6 81.2 901.7 73.9 901.7 81.0 901.8 71.8 901.8 63.1 901.8 67.8 901.9 89.0 901.9 78.7 902 80.8 902 87.4 902.1 86.3 902.1 73.0 902.1 63.1 902.2 76.7 902.2 78.8 902.3 65.2 902.3 71.7 902.4 63.1 902.4 57.9 902.4 81.5 902.5 67.2 902.5 66.3 902.6 79.1 902.6 71.1 902.7 72.2 902.7 71.8 902.7 77.3 902.8 79.4 902.8 67.0 902.9 70.1 902.9 69.7 902.9 67.7 903 68.9 903 79.7 903.1 89.9 903.1 80.2 903.2 69.7 903.2 60.9 903.2 67.9 903.3 80.7 903.3 85.2 903.4 69.8 903.4 71.6 903.5 81.7 903.5 89.6 903.5 68.6 903.6 58.4 903.6 63.9 903.7 82.0 903.7 68.1 903.8 67.2 903.8 69.6 903.8 78.3 903.9 70.7 903.9 71.5 904 72.5 904 76.4 904 85.1 904.1 72.5 904.1 73.7 904.2 55.1 904.2 65.7 904.3 75.2 904.3 61.5 904.3 62.2 904.4 60.8 904.4 73.8 904.5 84.9 904.5 73.0 904.5 66.5 904.6 78.0 904.6 74.4 904.7 71.9 904.7 81.4 904.8 89.5 904.8 75.9 904.8 83.4 904.9 77.1 904.9 69.7 905 70.2 905 89.7 905 86.4 905.1 85.9 905.1 67.1 905.2 74.7 905.2 73.9 905.3 81.7 905.3 95.0 905.3 78.8 905.4 65.3 905.4 78.1 905.5 92.1 905.5 104.7 905.5 78.8 905.6 63.2 905.6 78.0 905.7 77.1 905.7 76.7 905.8 74.8 905.8 85.4 905.8 82.8 905.9 87.5 905.9 78.8 906 75.9 906 71.3 906 66.7 906.1 76.2 906.1 70.5 906.2 61.5 906.2 86.5 906.3 83.1 906.3 72.6 906.3 69.9 906.4 68.4 906.4 70.6 906.5 51.6 906.5 56.1 906.5 80.4 906.6 70.3 906.6 72.4 906.7 73.3 906.7 72.5 906.7 73.6 906.8 75.2 906.8 73.5 906.9 88.6 906.9 90.2 907 63.4 907 61.4 907 56.4 907.1 67.2 907.1 67.6 907.2 75.3 907.2 76.8 907.2 73.8 907.3 66.2 907.3 74.2 907.4 81.7 907.4 83.0 907.4 73.7 907.5 80.0 907.5 71.5 907.6 85.6 907.6 72.1 907.6 66.0 907.7 58.0 907.7 59.5 907.8 72.9 907.8 74.5 907.9 70.6 907.9 54.8 907.9 64.2 908 67.2 908 69.9 908.1 82.0 908.1 75.7 908.1 68.7 908.2 80.6 908.2 81.7 908.3 72.3 908.3 78.0 908.3 65.4 908.4 71.4 908.4 70.9 908.5 68.9 908.5 94.7 908.5 91.5 908.6 82.1 908.6 69.3 908.7 80.1 908.7 74.2 908.7 65.3 908.8 72.1 908.8 74.7 908.9 67.7 908.9 72.5 908.9 66.4 909 73.0 909 80.5 909.1 71.0 909.1 78.0 909.1 82.1 909.2 82.6 909.2 53.8 909.3 69.5 909.3 88.1 909.4 73.7 909.4 74.2 909.4 71.4 909.5 72.2 909.5 65.9 909.6 78.4 909.6 83.1 909.6 70.0 909.7 65.3 909.7 60.5 909.8 69.0 909.8 70.5 909.8 59.6 909.9 68.7 909.9 70.2 910 73.3 910 76.3 910 87.7 910.1 85.8 910.1 82.3 910.2 60.1 910.2 77.9 910.2 91.1 910.3 92.0 910.3 85.6 910.4 65.0 910.4 74.6 910.4 86.9 910.5 77.0 910.5 77.8 910.6 70.8 910.6 67.4 910.6 77.4 910.7 71.7 910.7 78.2 910.8 74.8 910.8 62.6 910.8 66.2 910.9 68.9 910.9 81.4 910.9 87.5 911 80.7 911 72.3 911.1 84.3 911.1 77.0 911.1 76.2 911.2 72.9 911.2 72.5 911.3 60.5 911.3 75.0 911.3 72.4 911.4 79.7 911.4 82.4 911.5 78.7 911.5 69.8 911.5 73.1 911.6 72.7 911.6 66.6 911.7 55.1 911.7 66.7 911.7 72.8 911.8 70.4 911.8 92.1 911.9 75.4 911.9 62.9 911.9 78.0 912 58.7 912 56.2 912.1 63.3 912.1 66.9 912.1 77.9 912.2 71.1 912.2 90.5 912.3 90.5 912.3 85.7 912.3 79.9 912.4 73.3 912.4 70.5 912.5 69.7 912.5 69.1 912.5 64.1 912.6 79.2 912.6 83.4 912.6 76.1 912.7 74.7 912.7 68.4 912.8 77.1 912.8 81.0 912.8 71.4 912.9 73.8 912.9 67.2 913 58.9 913 59.2 913 63.3 913.1 75.5 913.1 92.7 913.2 82.1 913.2 62.0 913.2 48.4 913.3 60.1 913.3 71.5 913.3 55.0 913.4 63.3 913.4 75.5 913.5 78.0 913.5 80.0 913.5 75.5 913.6 82.8 913.6 77.2 913.7 72.8 913.7 75.4 913.7 65.6 913.8 73.9 913.8 60.9 913.9 76.0 913.9 75.4 913.9 68.2 914 70.9 914 79.7 914 73.2 914.1 73.6 914.1 77.8 914.2 90.0 914.2 75.6 914.2 69.8 914.3 68.4 914.3 86.5 914.4 92.1 914.4 91.1 914.4 64.6 914.5 69.6 914.5 61.3 914.6 86.3 914.6 73.7 914.6 59.0 914.7 74.7 914.7 73.7 914.7 74.6 914.8 95.0 914.8 96.0 914.9 83.9 914.9 85.7 914.9 72.9 915 73.6 915 66.5 915.1 63.7 915.1 70.3 915.1 73.0 915.2 68.9 915.2 57.7 915.2 63.0 915.3 68.5 915.3 72.4 915.4 78.5 915.4 64.3 915.4 71.8 915.5 66.2 915.5 67.9 915.6 64.2 915.6 71.1 915.6 69.5 915.7 63.8 915.7 64.7 915.7 63.0 915.8 77.8 915.8 78.9 915.9 76.0 915.9 79.3 915.9 67.3 916 64.1 916 70.2 916 87.1 916.1 76.6 916.1 80.7 916.2 89.4 916.2 69.7 916.2 66.1 916.3 71.8 916.3 56.8 916.4 71.4 916.4 72.7 916.4 80.1 916.5 70.8 916.5 76.2 916.5 74.6 916.6 63.1 916.6 72.9 916.7 83.1 916.7 75.5 916.7 60.8 916.8 67.4 916.8 73.6 916.8 83.5 916.9 79.3 916.9 64.7 917 81.5 917 84.1 917 83.9 917.1 70.8 917.1 73.5 917.1 67.5 917.2 63.2 917.2 78.0 917.3 70.2 917.3 74.5 917.3 79.4 917.4 80.8 917.4 71.8 917.5 73.7 917.5 81.0 917.5 94.1 917.6 93.7 917.6 81.1 917.6 96.0 917.7 86.4 917.7 77.0 917.8 78.0 917.8 68.7 917.8 64.4 917.9 71.7 917.9 63.5 917.9 74.9 918 80.4 918 77.8 918.1 81.4 918.1 79.7 918.1 83.0 918.2 77.7 918.2 69.6 918.2 86.1 918.3 87.5 918.3 79.5 918.4 79.8 918.4 74.0 918.4 76.8 918.5 76.9 918.5 77.3 918.5 75.2 918.6 82.9 918.6 77.5 918.7 71.1 918.7 71.5 918.7 69.2 918.8 75.3 918.8 66.4 918.8 70.4 918.9 78.2 918.9 87.6 918.9 102.8 919 83.7 919 73.6 919.1 80.3 919.1 81.7 919.1 76.0 919.2 84.7 919.2 74.0 919.2 64.0 919.3 77.7 919.3 70.1 919.4 73.2 919.4 71.6 919.4 70.6 919.5 56.2 919.5 61.3 919.5 68.9 919.6 70.7 919.6 68.6 919.7 88.3 919.7 76.0 919.7 66.6 919.8 76.3 919.8 79.3 919.8 92.0 919.9 79.2 919.9 72.7 919.9 68.5 920 66.0 920 78.3 920.1 81.9 920.1 69.3 920.1 81.2 920.2 81.7 920.2 63.2 920.2 66.1 920.3 69.3 920.3 67.1 920.4 64.5 920.4 57.1 920.4 74.9 920.5 82.7 920.5 69.7 920.5 65.6 920.6 81.2 920.6 74.5 920.6 68.9 920.7 70.3 920.7 69.8 920.8 67.6 920.8 72.5 920.8 82.1 920.9 92.5 920.9 90.2 920.9 78.8 921 85.0 921 75.1 921.1 72.7 921.1 71.3 921.1 71.9 921.2 72.0 921.2 59.2 921.2 76.1 921.3 84.6 921.3 74.0 921.3 72.1 921.4 88.7 921.4 85.6 921.5 62.1 921.5 73.0 921.5 69.0 921.6 63.7 921.6 74.2 921.6 74.1 921.7 62.8 921.7 71.6 921.7 72.5 921.8 73.9 921.8 68.8 921.9 64.5 921.9 75.4 921.9 81.6 922 86.8 922 76.0 922 79.2 922.1 80.9 922.1 80.1 922.1 79.5 922.2 67.2 922.2 52.8 922.3 63.4 922.3 60.8 922.3 64.6 922.4 81.9 922.4 77.2 922.4 82.0 922.5 84.7 922.5 74.0 922.5 78.8 922.6 76.3 922.6 74.9 922.7 84.8 922.7 79.3 922.7 76.2 922.8 66.0 922.8 60.3 922.8 72.0 922.9 74.4 922.9 78.0 922.9 70.3 923 70.6 923 85.2 923 88.6 923.1 63.5 923.1 71.5 923.2 74.3 923.2 67.5 923.2 76.9 923.3 95.6 923.3 78.2 923.3 76.2 923.4 75.0 923.4 67.1 923.4 74.5 923.5 71.4 923.5 85.5 923.6 97.3 923.6 79.3 923.6 88.3 923.7 93.1 923.7 82.5 923.7 74.4 923.8 54.1 923.8 54.6 923.8 47.8 923.9 73.7 923.9 88.0 923.9 77.8 924 73.2 924 80.3 924.1 98.3 924.1 103.8 924.1 78.7 924.2 77.9 924.2 68.2 924.2 68.0 924.3 68.0 924.3 70.3 924.3 64.0 924.4 63.7 924.4 75.6 924.4 90.7 924.5 91.7 924.5 83.7 924.6 89.8 924.6 81.8 924.6 77.8 924.7 83.1 924.7 88.4 924.7 79.0 924.8 83.1 924.8 82.1 924.8 83.9 924.9 77.0 924.9 61.7 924.9 80.3 925 82.2 925 77.2 925.1 63.2 925.1 76.8 925.1 92.3 925.2 83.9 925.2 66.4 925.2 59.8 925.3 79.2 925.3 75.9 925.3 72.4 925.4 68.5 925.4 66.1 925.4 65.5 925.5 84.9 925.5 85.4 925.5 80.8 925.6 86.9 925.6 72.6 925.7 78.2 925.7 90.1 925.7 85.9 925.8 88.5 925.8 76.6 925.8 61.9 925.9 72.1 925.9 60.5 925.9 56.4 926 63.2 926 79.9 926 87.3 926.1 77.8 926.1 79.8 926.1 86.8 926.2 73.3 926.2 71.1 926.2 78.8 926.3 64.6 926.3 66.2 926.4 61.2 926.4 75.4 926.4 73.9 926.5 80.0 926.5 70.3 926.5 70.4 926.6 63.5 926.6 84.3 926.6 90.8 926.7 80.7 926.7 99.3 926.7 92.7 926.8 87.3 926.8 68.7 926.8 55.4 926.9 52.3 926.9 67.8 926.9 81.4 927 67.3 927 74.7 927.1 69.0 927.1 67.7 927.1 80.6 927.2 86.5 927.2 61.8 927.2 66.9 927.3 82.6 927.3 72.0 927.3 86.2 927.4 78.9 927.4 75.4 927.4 80.2 927.5 72.6 927.5 68.6 927.5 66.8 927.6 66.8 927.6 58.5 927.6 82.7 927.7 87.2 927.7 82.6 927.7 76.2 927.8 68.6 927.8 69.1 927.9 61.6 927.9 83.0 927.9 82.2 928 82.0 928 75.7 928 74.0 928.1 72.8 928.1 79.4 928.1 75.5 928.2 75.6 928.2 76.1 928.2 65.6 928.3 67.8 928.3 69.2 928.3 69.5 928.4 63.0 928.4 58.7 928.4 65.1 928.5 68.3 928.5 88.2 928.5 88.7 928.6 73.3 928.6 56.9 928.6 58.4 928.7 76.0 928.7 70.1 928.7 76.6 928.8 95.2 928.8 76.6 928.9 77.4 928.9 72.5 928.9 76.2 929 76.4 929 80.5 929 92.8 929.1 82.6 929.1 72.8 929.1 71.4 929.2 64.3 929.2 66.2 929.2 78.7 929.3 81.5 929.3 77.9 929.3 85.0 929.4 72.4 929.4 68.6 929.4 81.4 929.5 79.7 929.5 89.9 929.5 81.9 929.6 68.8 929.6 77.3 929.6 81.3 929.7 84.2 929.7 86.5 929.7 79.8 929.8 79.9 929.8 67.0 929.8 59.0 929.9 54.0 929.9 73.6 929.9 62.8 930 67.2 930 54.3 930 63.0 930.1 67.8 930.1 87.4 930.2 84.2 930.2 94.5 930.2 76.0 930.3 57.3 930.3 77.0 930.3 90.6 930.4 67.5 930.4 71.2 930.4 70.6 930.5 62.5 930.5 73.4 930.5 69.7 930.6 55.6 930.6 64.9 930.6 83.3 930.7 69.0 930.7 61.1 930.7 70.2 930.8 74.6 930.8 82.9 930.8 72.8 930.9 70.9 930.9 76.3 930.9 81.6 931 61.3 931 62.3 931 76.3 931.1 84.6 931.1 69.3 931.1 66.2 931.2 66.6 931.2 67.5 931.2 78.3 931.3 84.2 931.3 90.1 931.3 79.0 931.4 61.7 931.4 82.7 931.4 76.4 931.5 81.3 931.5 71.4 931.5 70.1 931.6 83.1 931.6 83.8 931.6 82.6 931.7 86.1 931.7 84.7 931.7 70.9 931.8 66.7 931.8 73.1 931.8 78.7 931.9 72.5 931.9 60.6 931.9 71.8 932 63.5 932 67.7 932 87.9 932.1 74.8 932.1 72.6 932.1 71.0 932.2 78.5 932.2 64.9 932.2 60.9 932.3 60.5 932.3 65.3 932.3 55.3 932.4 67.1 932.4 55.7 932.4 61.1 932.5 78.1 932.5 78.1 932.5 70.4 932.6 76.7 932.6 64.6 932.6 57.2 932.7 77.7 932.7 84.5 932.7 78.4 932.8 71.0 932.8 81.3 932.8 76.3 932.9 82.7 932.9 77.0 932.9 59.3 933 75.1 933 69.2 933 78.9 933.1 82.0 933.1 84.4 933.1 73.1 933.2 62.4 933.2 71.4 933.2 71.0 933.3 80.7 933.3 71.2 933.3 49.3 933.4 73.3 933.4 73.4 933.4 57.7 933.5 69.0 933.5 67.1 933.5 69.8 933.6 91.0 933.6 73.9 933.6 67.1 933.7 87.2 933.7 93.1 933.7 95.2 933.8 92.2 933.8 72.3 933.8 76.3 933.9 90.0 933.9 80.7 933.9 76.8 934 67.4 934 64.4 934 67.1 934.1 62.6 934.1 78.1 934.1 69.0 934.2 60.2 934.2 62.1 934.2 79.9 934.3 73.0 934.3 81.5 934.3 75.7 934.4 62.9 934.4 68.4 934.4 73.4 934.5 74.9 934.5 67.7 934.5 75.7 934.6 85.0 934.6 84.9 934.6 71.7 934.7 83.4 934.7 85.3 934.7 78.2 934.8 82.0 934.8 72.5 934.8 64.6 934.9 59.9 934.9 75.8 934.9 75.7 935 88.1 935 78.6 935 66.5 935.1 71.8 935.1 58.1 935.1 64.7 935.1 71.6 935.2 66.1 935.2 70.2 935.2 83.0 935.3 74.4 935.3 82.0 935.3 68.6 935.4 71.0 935.4 79.6 935.4 60.0 935.5 56.2 935.5 85.8 935.5 95.4 935.6 80.6 935.6 51.0 935.6 72.7 935.7 71.0 935.7 63.3 935.7 73.0 935.8 65.5 935.8 72.9 935.8 64.3 935.9 75.4 935.9 65.4 935.9 66.3 936 79.0 936 73.3 936 73.8 936.1 63.2 936.1 58.9 936.1 61.3 936.2 57.3 936.2 73.0 936.2 69.6 936.3 70.2 936.3 68.3 936.3 67.1 936.3 65.0 936.4 57.6 936.4 83.6 936.4 83.3 936.5 75.4 936.5 80.5 936.5 81.3 936.6 54.9 936.6 77.1 936.6 80.4 936.7 61.5 936.7 75.9 936.7 85.3 936.8 74.1 936.8 79.5 936.8 86.5 936.9 90.8 936.9 76.0 936.9 76.3 937 76.7 937 69.3 937 67.3 937.1 77.0 937.1 84.9 937.1 86.0 937.2 81.0 937.2 70.0 937.2 68.4 937.3 94.1 937.3 72.8 937.3 68.7 937.3 79.3 937.4 76.9 937.4 71.0 937.4 74.8 937.5 79.6 937.5 79.1 937.5 85.4 937.6 70.0 937.6 67.9 937.6 76.0 937.7 68.1 937.7 67.5 937.7 78.1 937.8 84.4 937.8 75.8 937.8 62.8 937.9 57.4 937.9 80.6 937.9 86.6 938 82.1 938 72.1 938 73.3 938.1 80.2 938.1 77.0 938.1 74.9 938.1 75.8 938.2 80.2 938.2 85.1 938.2 78.5 938.3 69.9 938.3 62.9 938.3 69.4 938.4 72.1 938.4 67.4 938.4 73.8 938.5 74.3 938.5 84.6 938.5 74.5 938.6 80.8 938.6 69.5 938.6 67.1 938.7 74.3 938.7 75.2 938.7 70.1 938.8 64.5 938.8 67.4 938.8 59.8 938.8 70.5 938.9 72.0 938.9 85.9 938.9 86.1 939 88.6 939 83.0 939 66.5 939.1 74.6 939.1 80.4 939.1 75.4 939.2 66.3 939.2 52.9 939.2 66.4 939.3 82.1 939.3 73.0 939.3 77.9 939.4 80.4 939.4 94.6 939.4 81.7 939.4 82.4 939.5 85.0 939.5 74.8 939.5 81.9 939.6 66.4 939.6 59.2 939.6 77.0 939.7 85.5 939.7 71.0 939.7 76.1 939.8 76.4 939.8 76.3 939.8 83.6 939.9 75.1 939.9 72.8 939.9 78.3 939.9 80.7 940 83.8 940 76.8 940 84.3 940.1 68.6 940.1 70.9 940.1 90.6 940.2 95.5 940.2 83.5 940.2 72.5 940.3 70.9 940.3 78.0 940.3 80.6 940.4 60.8 940.4 48.5 940.4 75.8 940.5 80.2 940.5 106.1 940.5 97.8 940.5 84.6 940.6 84.2 940.6 89.9 940.6 73.1 940.7 81.2 940.7 101.8 940.7 83.0 940.8 59.9 940.8 65.8 940.8 74.6 940.9 72.6 940.9 90.5 940.9 84.6 941 82.1 941 79.7 941 70.8 941 76.1 941.1 76.8 941.1 86.0 941.1 79.7 941.2 75.1 941.2 83.3 941.2 84.4 941.3 74.6 941.3 78.1 941.3 81.1 941.4 74.8 941.4 70.6 941.4 81.7 941.4 94.1 941.5 85.6 941.5 74.5 941.5 76.7 941.6 73.8 941.6 68.8 941.6 77.3 941.7 81.6 941.7 82.0 941.7 84.7 941.8 67.3 941.8 68.2 941.8 67.3 941.8 64.2 941.9 67.9 941.9 72.0 941.9 75.0 942 73.2 942 88.9 942 82.1 942.1 74.2 942.1 97.9 942.1 102.4 942.2 82.3 942.2 78.1 942.2 63.6 942.3 64.9 942.3 70.0 942.3 81.0 942.3 90.8 942.4 86.7 942.4 70.5 942.4 59.9 942.5 75.6 942.5 79.9 942.5 75.7 942.6 78.8 942.6 63.6 942.6 82.8 942.7 82.7 942.7 68.4 942.7 56.7 942.7 68.5 942.8 81.4 942.8 87.4 942.8 85.7 942.9 84.9 942.9 80.5 942.9 71.8 943 72.1 943 76.9 943 80.5 943 86.1 943.1 79.9 943.1 78.3 943.1 69.0 943.2 72.6 943.2 72.7 943.2 74.5 943.3 71.2 943.3 78.4 943.3 65.6 943.4 82.0 943.4 77.7 943.4 79.4 943.4 71.2 943.5 70.6 943.5 80.4 943.5 78.7 943.6 70.5 943.6 53.1 943.6 67.2 943.7 80.1 943.7 70.6 943.7 90.1 943.8 81.6 943.8 72.5 943.8 79.4 943.8 79.6 943.9 83.2 943.9 69.9 943.9 61.2 944 59.7 944 70.7 944 72.1 944.1 82.9 944.1 72.7 944.1 67.8 944.1 69.5 944.2 80.1 944.2 88.1 944.2 79.9 944.3 80.5 944.3 85.6 944.3 66.0 944.4 50.2 944.4 69.5 944.4 72.8 944.5 83.5 944.5 78.1 944.5 77.3 944.5 83.1 944.6 80.0 944.6 61.8 944.6 69.3 944.7 85.2 944.7 81.9 944.7 69.7 944.8 73.3 944.8 79.2 944.8 76.5 944.8 63.4 944.9 70.4 944.9 74.4 944.9 65.1 945 71.5 945 79.5 945 82.1 945.1 77.3 945.1 90.0 945.1 90.4 945.1 81.2 945.2 49.9 945.2 63.6 945.2 75.5 945.3 68.4 945.3 79.4 945.3 96.2 945.4 84.1 945.4 83.5 945.4 80.7 945.4 74.4 945.5 69.2 945.5 54.7 945.5 76.5 945.6 88.0 945.6 65.9 945.6 73.1 945.7 77.7 945.7 79.1 945.7 81.6 945.7 77.8 945.8 68.5 945.8 65.6 945.8 72.1 945.9 78.1 945.9 90.2 945.9 81.8 946 67.9 946 68.1 946 79.4 946 85.1 946.1 75.6 946.1 56.0 946.1 76.5 946.2 64.8 946.2 69.2 946.2 82.2 946.3 76.9 946.3 73.0 946.3 78.7 946.3 77.7 946.4 82.0 946.4 67.6 946.4 68.7 946.5 82.4 946.5 76.7 946.5 89.1 946.6 83.4 946.6 70.8 946.6 77.6 946.6 73.0 946.7 73.7 946.7 52.3 946.7 57.8 946.8 56.9 946.8 70.6 946.8 65.0 946.8 56.8 946.9 64.0 946.9 75.7 946.9 75.1 947 70.9 947 73.4 947 88.3 947.1 82.8 947.1 70.1 947.1 46.7 947.1 63.9 947.2 66.1 947.2 76.8 947.2 77.5 947.3 83.0 947.3 77.0 947.3 79.5 947.4 84.2 947.4 78.3 947.4 82.9 947.4 82.2 947.5 77.6 947.5 81.2 947.5 79.4 947.6 76.4 947.6 75.9 947.6 81.6 947.6 79.5 947.7 73.2 947.7 73.6 947.7 84.6 947.8 63.9 947.8 81.3 947.8 72.7 947.9 82.7 947.9 82.8 947.9 72.2 947.9 67.1 948 77.0 948 78.4 948 60.9 948.1 68.1 948.1 84.1 948.1 71.1 948.1 65.4 948.2 64.0 948.2 75.0 948.2 100.3 948.3 100.8 948.3 73.1 948.3 74.0 948.4 75.6 948.4 88.6 948.4 89.0 948.4 81.4 948.5 69.8 948.5 68.6 948.5 69.9 948.6 72.9 948.6 79.3 948.6 78.8 948.6 64.0 948.7 78.9 948.7 79.3 948.7 82.5 948.8 87.4 948.8 87.3 948.8 78.9 948.9 73.8 948.9 81.0 948.9 90.3 948.9 87.8 949 81.7 949 79.5 949 72.6 949.1 82.3 949.1 88.8 949.1 89.3 949.1 82.6 949.2 79.1 949.2 77.6 949.2 82.4 949.3 81.4 949.3 75.3 949.3 78.5 949.3 80.3 949.4 83.7 949.4 79.9 949.4 80.6 949.5 82.5 949.5 79.4 949.5 80.8 949.5 67.5 949.6 58.5 949.6 67.7 949.6 80.1 949.7 75.9 949.7 68.6 949.7 72.3 949.8 61.8 949.8 72.1 949.8 62.2 949.8 54.0 949.9 64.1 949.9 69.0 949.9 63.2 950 64.9 950 70.2 950 67.2 950 71.9 950.1 72.3 950.1 74.4 950.1 73.7 950.2 76.8 950.2 70.1 950.2 76.6 950.2 68.2 950.3 69.9 950.3 81.2 950.3 69.8 950.4 56.1 950.4 68.3 950.4 66.9 950.4 61.6 950.5 76.3 950.5 71.3 950.5 86.4 950.6 78.4 950.6 65.6 950.6 80.7 950.6 66.3 950.7 57.9 950.7 67.9 950.7 73.3 950.8 76.3 950.8 67.1 950.8 70.2 950.8 72.5 950.9 61.1 950.9 84.4 950.9 88.1 951 84.8 951 74.8 951 81.1 951 83.6 951.1 71.9 951.1 77.0 951.1 84.0 951.2 76.4 951.2 74.5 951.2 75.6 951.3 89.3 951.3 85.2 951.3 76.2 951.3 71.7 951.4 76.8 951.4 71.8 951.4 71.8 951.5 66.3 951.5 59.0 951.5 64.9 951.5 89.5 951.6 85.1 951.6 79.0 951.6 82.7 951.7 85.5 951.7 79.2 951.7 64.3 951.7 65.7 951.8 86.9 951.8 68.8 951.8 72.1 951.9 75.1 951.9 70.1 951.9 71.3 951.9 77.1 952 61.2 952 51.4 952 61.6 952 79.8 952.1 78.4 952.1 78.4 952.1 78.1 952.2 60.1 952.2 75.7 952.2 99.7 952.2 74.4 952.3 71.7 952.3 65.1 952.3 79.9 952.4 76.1 952.4 84.5 952.4 79.7 952.4 80.7 952.5 81.1 952.5 73.5 952.5 65.8 952.6 58.7 952.6 63.4 952.6 63.3 952.6 67.3 952.7 58.6 952.7 70.0 952.7 80.0 952.8 70.2 952.8 61.7 952.8 74.7 952.8 71.6 952.9 78.4 952.9 80.4 952.9 69.6 953 70.4 953 85.4 953 89.5 953 84.4 953.1 70.8 953.1 64.8 953.1 43.3 953.2 68.3 953.2 75.4 953.2 77.6 953.2 66.4 953.3 58.4 953.3 64.9 953.3 80.7 953.4 80.8 953.4 74.3 953.4 60.3 953.4 65.6 953.5 79.3 953.5 76.0 953.5 84.4 953.5 77.8 953.6 64.6 953.6 82.0 953.6 77.8 953.7 71.6 953.7 74.5 953.7 84.9 953.7 65.9 953.8 68.3 953.8 73.7 953.8 72.0 953.9 92.0 953.9 82.9 953.9 63.8 953.9 74.4 954 65.3 954 77.5 954 88.9 954.1 79.4 954.1 73.1 954.1 62.5 954.1 66.7 954.2 61.0 954.2 85.8 954.2 73.8 954.2 78.7 954.3 77.1 954.3 78.5 954.3 70.9 954.4 75.8 954.4 75.3 954.4 77.6 954.4 73.2 954.5 60.7 954.5 64.9 954.5 68.3 954.6 56.3 954.6 64.9 954.6 76.6 954.6 76.6 954.7 67.0 954.7 69.2 954.7 67.8 954.8 75.2 954.8 72.2 954.8 78.5 954.8 82.9 954.9 75.8 954.9 77.0 954.9 84.1 954.9 78.3 955 86.5 955 75.5 955 74.9 955.1 62.0 955.1 74.0 955.1 74.8 955.1 62.2 955.2 77.9 955.2 76.5 955.2 78.9 955.3 72.4 955.3 83.1 955.3 85.5 955.3 71.8 955.4 73.7 955.4 79.2 955.4 73.3 955.4 71.8 955.5 76.0 955.5 77.0 955.5 67.3 955.6 65.4 955.6 63.7 955.6 70.3 955.6 72.4 955.7 81.8 955.7 68.1 955.7 61.7 955.7 63.4 955.8 69.3 955.8 79.6 955.8 89.7 955.9 71.1 955.9 63.6 955.9 62.1 955.9 69.0 956 76.9 956 68.6 956 75.1 956.1 69.7 956.1 62.2 956.1 69.9 956.1 60.2 956.2 65.3 956.2 76.9 956.2 78.8 956.2 83.2 956.3 83.0 956.3 91.0 956.3 83.0 956.4 93.5 956.4 80.7 956.4 83.2 956.4 77.8 956.5 79.8 956.5 72.5 956.5 70.4 956.5 73.2 956.6 76.4 956.6 70.6 956.6 75.3 956.7 77.3 956.7 76.0 956.7 78.3 956.7 83.1 956.8 81.3 956.8 66.7 956.8 95.9 956.8 99.2 956.9 88.2 956.9 70.8 956.9 70.7 957 73.6 957 82.1 957 83.7 957 63.5 957.1 58.0 957.1 69.7 957.1 76.8 957.2 81.9 957.2 70.2 957.2 100.1 957.2 71.0 957.3 70.4 957.3 82.4 957.3 71.2 957.3 52.1 957.4 68.7 957.4 90.4 957.4 88.1 957.5 82.0 957.5 96.1 957.5 85.3 957.5 79.8 957.6 82.5 957.6 85.0 957.6 66.1 957.6 67.5 957.7 70.0 957.7 70.0 957.7 65.2 957.7 68.5 957.8 79.0 957.8 93.0 957.8 80.1 957.9 74.9 957.9 71.9 957.9 72.3 957.9 89.0 958 72.4 958 73.8 958 86.1 958 78.5 958.1 81.4 958.1 80.9 958.1 102.2 958.2 90.8 958.2 84.5 958.2 89.1 958.2 68.0 958.3 67.0 958.3 74.8 958.3 64.3 958.3 68.2 958.4 77.0 958.4 87.9 958.4 73.6 958.5 67.0 958.5 62.3 958.5 62.2 958.5 60.4 958.6 70.8 958.6 67.5 958.6 68.5 958.6 78.8 958.7 93.7 958.7 90.4 958.7 70.8 958.8 64.7 958.8 72.7 958.8 89.1 958.8 94.0 958.9 89.0 958.9 73.2 958.9 81.1 958.9 88.3 959 92.9 959 72.6 959 62.7 959 86.5 959.1 63.4 959.1 75.6 959.1 64.2 959.2 69.7 959.2 73.2 959.2 85.8 959.2 84.4 959.3 60.9 959.3 70.4 959.3 70.0 959.3 76.3 959.4 74.3 959.4 73.7 959.4 76.0 959.4 72.8 959.5 78.1 959.5 76.0 959.5 60.2 959.6 58.5 959.6 68.1 959.6 79.5 959.6 67.5 959.7 70.7 959.7 76.9 959.7 77.6 959.7 83.1 959.8 91.9 959.8 93.5 959.8 74.8 959.9 74.1 959.9 88.1 959.9 75.0 959.9 69.2 960 73.7 960 83.0 960 81.3 960 66.7 960.1 66.6 960.1 68.4 960.1 76.1 960.1 73.0 960.2 68.4 960.2 70.8 960.2 79.1 960.3 77.9 960.3 76.3 960.3 76.5 960.3 73.2 960.4 76.1 960.4 72.8 960.4 71.6 960.4 80.6 960.5 78.1 960.5 62.3 960.5 56.2 960.5 59.6 960.6 72.5 960.6 78.0 960.6 81.4 960.6 79.4 960.7 69.9 960.7 72.1 960.7 89.4 960.8 80.6 960.8 71.5 960.8 80.9 960.8 75.8 960.9 81.5 960.9 84.1 960.9 67.1 960.9 65.8 961 78.9 961 83.5 961 81.3 961 72.3 961.1 92.8 961.1 87.4 961.1 83.2 961.2 76.4 961.2 77.7 961.2 80.2 961.2 63.5 961.3 71.8 961.3 65.2 961.3 53.3 961.3 67.9 961.4 67.6 961.4 73.7 961.4 75.6 961.4 85.1 961.5 72.7 961.5 73.9 961.5 64.4 961.5 68.6 961.6 66.3 961.6 66.9 961.6 56.9 961.7 74.0 961.7 89.2 961.7 77.4 961.7 86.0 961.8 73.0 961.8 67.6 961.8 59.6 961.8 64.5 961.9 65.9 961.9 71.5 961.9 73.2 961.9 70.9 962 74.2 962 86.6 962 75.2 962 79.9 962.1 85.1 962.1 81.3 962.1 66.9 962.2 82.1 962.2 75.9 962.2 73.6 962.2 76.0 962.3 77.1 962.3 86.3 962.3 84.9 962.3 74.2 962.4 77.5 962.4 78.1 962.4 92.7 962.4 79.7 962.5 64.1 962.5 68.8 962.5 81.8 962.5 82.1 962.6 84.9 962.6 90.8 962.6 66.8 962.6 68.9 962.7 62.4 962.7 80.8 962.7 74.1 962.8 77.8 962.8 95.6 962.8 90.3 962.8 77.9 962.9 81.5 962.9 79.2 962.9 80.5 962.9 79.6 963 77.8 963 61.5 963 67.6 963 78.6 963.1 59.6 963.1 79.4 963.1 89.7 963.1 62.1 963.2 64.7 963.2 84.0 963.2 81.2 963.2 71.7 963.3 65.8 963.3 79.4 963.3 74.8 963.4 77.0 963.4 79.2 963.4 73.7 963.4 75.7 963.5 82.4 963.5 79.8 963.5 73.2 963.5 75.6 963.6 73.3 963.6 86.3 963.6 82.7 963.6 79.9 963.7 73.0 963.7 91.2 963.7 96.3 963.7 75.3 963.8 70.5 963.8 71.5 963.8 73.1 963.8 78.6 963.9 67.8 963.9 77.1 963.9 74.9 963.9 77.9 964 53.1 964 70.4 964 93.8 964.1 75.0 964.1 65.9 964.1 76.3 964.1 79.6 964.2 79.1 964.2 70.2 964.2 62.3 964.2 82.4 964.3 95.9 964.3 76.9 964.3 71.7 964.3 80.2 964.4 90.1 964.4 82.1 964.4 78.8 964.4 74.5 964.5 78.7 964.5 69.3 964.5 81.9 964.5 90.3 964.6 96.1 964.6 78.0 964.6 75.6 964.6 86.9 964.7 86.2 964.7 71.4 964.7 79.2 964.7 84.2 964.8 93.1 964.8 87.0 964.8 61.2 964.8 66.0 964.9 80.9 964.9 90.7 964.9 98.6 965 82.3 965 86.1 965 81.1 965 72.4 965.1 71.1 965.1 70.4 965.1 65.7 965.1 78.2 965.2 90.4 965.2 88.9 965.2 75.3 965.2 71.7 965.3 77.0 965.3 69.4 965.3 68.0 965.3 81.5 965.4 69.2 965.4 69.8 965.4 61.6 965.4 72.5 965.5 68.1 965.5 75.6 965.5 79.0 965.5 80.8 965.6 88.0 965.6 77.4 965.6 78.1 965.6 77.2 965.7 56.1 965.7 55.6 965.7 61.8 965.7 69.6 965.8 78.5 965.8 82.5 965.8 68.1 965.8 69.3 965.9 73.2 965.9 72.0 965.9 88.1 965.9 80.5 966 71.2 966 65.5 966 69.6 966 71.7 966.1 77.4 966.1 80.3 966.1 75.8 966.2 75.5 966.2 67.2 966.2 70.4 966.2 75.5 966.3 82.8 966.3 83.6 966.3 68.1 966.3 59.9 966.4 73.9 966.4 71.9 966.4 54.9 966.4 69.9 966.5 77.6 966.5 67.8 966.5 58.3 966.5 65.1 966.6 63.6 966.6 58.1 966.6 69.1 966.6 61.7 966.7 71.3 966.7 70.2 966.7 56.5 966.7 64.1 966.8 72.7 966.8 90.1 966.8 73.9 966.8 62.5 966.9 71.1 966.9 76.7 966.9 70.0 966.9 59.0 967 66.8 967 82.2 967 79.6 967 65.6 967.1 80.4 967.1 86.4 967.1 83.4 967.1 75.0 967.2 76.7 967.2 71.1 967.2 74.1 967.2 61.5 967.3 71.4 967.3 75.6 967.3 66.0 967.3 84.0 967.4 77.6 967.4 75.7 967.4 66.5 967.4 65.7 967.5 66.4 967.5 74.2 967.5 79.0 967.5 79.7 967.6 67.9 967.6 78.6 967.6 69.3 967.6 69.1 967.7 71.8 967.7 73.4 967.7 63.2 967.7 78.5 967.8 73.5 967.8 81.2 967.8 74.1 967.8 77.6 967.9 79.3 967.9 74.2 967.9 78.0 967.9 81.4 968 80.4 968 76.8 968 70.8 968 77.7 968.1 66.9 968.1 66.0 968.1 64.0 968.1 68.1 968.2 70.4 968.2 76.2 968.2 79.7 968.2 69.3 968.3 71.9 968.3 78.3 968.3 71.6 968.3 76.4 968.4 73.8 968.4 73.5 968.4 85.9 968.4 92.5 968.5 86.0 968.5 72.6 968.5 57.3 968.5 78.7 968.6 61.7 968.6 64.9 968.6 49.7 968.6 60.8 968.7 78.9 968.7 67.3 968.7 79.9 968.7 79.6 968.8 64.7 968.8 69.4 968.8 70.8 968.8 66.8 968.9 79.4 968.9 81.3 968.9 66.9 968.9 59.6 969 65.7 969 68.0 969 70.1 969 68.9 969.1 86.0 969.1 88.0 969.1 81.1 969.1 77.4 969.2 77.7 969.2 80.5 969.2 68.1 969.2 75.9 969.3 72.4 969.3 72.0 969.3 58.3 969.3 60.5 969.4 76.7 969.4 79.1 969.4 80.3 969.4 93.3 969.5 88.4 969.5 71.3 969.5 78.9 969.5 68.8 969.6 68.8 969.6 77.7 969.6 70.3 969.6 77.5 969.7 82.8 969.7 69.7 969.7 75.2 969.7 72.4 969.8 77.2 969.8 100.9 969.8 93.3 969.8 71.5 969.9 77.0" stroke="#000" stroke-width="1.5" stroke-linejoin="miter" stroke-miterlimit="3"/>
<path d="M119.3 15.6L121.3 15.8 123.3 16.0 125.3 16.1 127.3 16.3 129.3 16.5 131.3 16.7 133.3 16.9 135.3 17.1 137.3 17.3 139.3 17.5 141.3 17.7 143.3 17.9 145.3 18.1 147.3 18.3 149.3 18.5 151.3 18.8 153.3 19.0 155.3 19.2 157.3 19.4 159.3 19.7 161.3 19.9 163.3 20.2 165.3 20.4 167.3 20.7 169.3 20.9 171.3 21.2 173.3 21.4 175.3 21.7 177.3 22.0 179.3 22.3 181.3 22.6 183.3 22.8 185.3 23.1 187.3 23.4 189.3 23.8 191.3 24.1 193.3 24.4 195.3 24.7 197.3 25.1 199.3 25.4 201.3 25.8 203.3 26.1 205.3 26.5 207.3 26.9 209.3 27.3 211.3 27.7 213.3 28.1 215.3 28.5 217.3 29.0 219.3 29.4 221.3 29.9 223.3 30.4 225.3 30.9 227.3 31.4 229.3 31.9 231.3 32.4 233.3 32.9 235.3 33.5 237.3 34.1 239.3 34.6 241.3 35.2 243.3 35.8 245.3 36.5 247.3 37.2 249.3 37.8 251.3 38.5 253.3 39.2 255.3 40.0 257.3 40.7 259.3 41.4 261.3 42.2 263.3 43.0 265.3 43.8 267.3 44.6 269.3 45.4 271.3 46.2 273.3 47.1 275.3 47.9 277.3 48.9 279.3 49.9 280 50.2 280.5 50.4 281 50.5 281.5 50.6 282 50.7 282.5 50.9 283 51.0 283.5 51.1 284 51.3 284.5 51.4 285 51.5 285.5 51.6 286 51.8 286.5 51.9 287 52.0 287.5 52.2 288 52.5 288.5 52.7 289 53.0 289.5 53.2 290 53.5 290.5 53.7 291 54.0 291.5 54.2 292 54.5 292.5 54.7 293 55.0 293.5 55.2 294 55.3 294.5 55.4 295 55.5 295.5 55.6 296 55.7 296.5 55.8 297 56.0 297.5 56.1 298 56.2 298.5 56.3 299 56.4 299.5 56.5 300 56.6 300.5 56.7 301 56.8 301.5 57.0 302 56.9 302.5 56.6 303 56.4 303.5 56.1 304 55.9 304.5 56.1 305 56.5 305.5 56.9 306 57.2 306.5 57.6 307 58.0 307.5 58.4 308 58.7 308.5 59.1 309 59.5 309.5 59.7 310 59.9 310.5 60.1 311 60.3 311.5 60.5 312 60.7 312.5 60.9 313 61.1 313.5 61.3 314 61.5 314.5 61.7 315 61.9 315.5 61.8 316 61.6 316.5 61.4 317 61.3 317.5 61.1 318 61.0 318.5 60.8 319 60.6 319.5 60.5 320 60.3 320.5 60.3 321 60.9 321.5 61.5 322 62.0 322.5 62.6 323 63.2 323.5 63.8 324 64.4 324.5 64.9 325 65.5 325.5 65.9 326 66.1 326.5 66.3 327 66.5 327.5 66.7 328 66.9 328.5 66.9 329 66.5 329.5 66.2 330 65.8 330.5 65.5 331 65.2 331.5 64.8 332 64.5 332.5 64.2 333 63.8 333.5 63.5 334 63.8 334.5 64.4 335 65.1 335.5 65.7 336 66.4 336.5 67.1 337 67.7 337.5 68.4 338 69.0 338.5 69.5 339 70.0 339.5 70.5 340 71.1 340.5 71.6 341 72.1 341.5 72.6 342 71.9 342.5 71.2 343 70.5 343.5 69.8 344 69.0 344.5 68.3 345 67.6 345.5 66.9 346 66.9 346.5 67.4 347 67.9 347.5 68.4 348 68.9 348.5 69.4 349 69.9 349.5 70.6 350 72.0 350.5 73.4 351 74.8 351.5 76.2 352 77.6 352.5 76.0 353 74.4 353.5 72.8 354 71.2 354.5 69.7 355 68.1 355.5 66.6 356 65.6 356.5 64.6 357 63.6 357.5 62.6 358 61.6 358.5 60.9 359 61.6 359.5 62.3 360 63.0 360.5 63.7 361 64.4 361.5 65.1 362 65.7 362.5 65.1 363 64.4 363.5 63.7 364 63.1 364.5 62.4 365 61.7 365.5 61.0 366 60.4 366.5 59.7 367 59.1 367.5 58.7 368 58.3 368.5 57.8 369 57.4 369.5 57.0 370 56.6 370.5 56.2 371 56.6 371.5 57.0 372 57.4 372.5 57.8 373 58.1 373.5 58.0 374 58.0 374.5 57.9 375 57.9 375.5 57.9 376 57.8 376.5 57.8 377 57.7 377.5 57.7 378 57.6 378.5 56.3 379 53.1 379.5 49.8 380 51.7 380.5 53.5 381 55.4 381.5 56.6 382 56.8 382.5 57.0 383 57.3 383.5 57.5 384 57.7 384.5 57.9 385 58.2 385.5 58.4 386 56.5 386.5 54.7 387 52.8 387.5 50.9 388 49.0 388.5 50.1 389 53.1 389.5 56.1 390 57.6 390.5 56.9 391 56.2 391.5 55.4 392 54.7 392.5 56.2 393 59.2 393.5 61.7 394 61.7 394.5 61.8 395 61.9 395.5 62.0 396 62.1 396.5 62.2 397 62.3 397.5 62.3 398 61.6 398.5 60.6 399 59.6 399.5 58.6 400 57.6 400.5 58.2 401 58.8 401.5 59.3 402 59.8 402.5 60.3 403 61.2 403.5 62.1 404 63.2 404.5 64.3 405 65.4 405.5 65.2 406 65.0 406.5 64.7 407 64.4 407.5 64.0 408 64.0 408.5 63.8 409 63.0 409.5 62.0 410 61.0 410.5 60.9 411 60.8 411.5 60.7 412 60.6 412.5 60.4 413 60.1 413.5 60.4 414 61.5 414.5 62.6 415 63.9 415.5 65.3 416 66.7 416.5 68.0 417 69.5 417.5 71.3 418 72.5 418.5 73.4 419 74.5 419.5 76.1 420 77.7 420.5 78.3 421 77.2 421.5 76.9 422 76.7 422.5 76.2 423 75.8 423.5 74.9 424 73.7 424.5 72.3 425 71.3 425.5 70.3 426 69.3 426.5 68.3 427 67.3 427.5 66.3 428 65.0 428.5 64.4 429 64.9 429.5 65.9 430 67.9 430.5 71.1 431 73.6 431.5 75.9 432 78.0 432.5 80.7 433 81.4 433.5 81.3 434 80.7 434.5 80.4 435 80.3 435.5 82.7 436 85.5 436.5 86.0 437 86.0 437.5 87.4 438 87.3 438.5 85.6 439 84.7 439.5 85.7 440 86.0 440.5 84.8 441 84.6 441.5 85.0 442 83.0 442.5 80.7 443 78.7 443.5 76.3 444 72.7 444.5 70.2 445 68.9 445.5 69.2 446 70.8 446.5 73.8 447 75.4 447.5 73.0 448 72.6 448.5 72.8 449 72.4 449.5 72.1 450 72.0 450.5 72.2 451 72.6 451.5 71.1 452 69.5 452.5 69.9 453 71.0 453.5 71.9 454 74.2 454.5 75.7 455 74.6 455.5 74.0 456 74.2 456.5 74.2 457 73.8 457.5 73.4 458 73.2 458.5 72.9 459 72.9 459.5 72.5 460 71.6 460.5 68.3 461 66.5 461.5 66.2 462 64.8 462.5 62.6 463 61.6 463.5 60.5 464 61.3 464.5 63.7 465 67.4 465.5 70.3 466 70.0 466.5 68.3 467 69.5 467.5 72.1 468 70.6 468.5 69.6 469 68.9 469.5 68.4 470 70.3 470.5 72.7 471 75.3 471.5 78.6 472 80.3 472.5 80.4 473 78.5 473.5 76.9 474 75.1 474.5 73.2 475 73.4 475.5 71.6 476 69.8 476.5 73.0 477 70.8 477.5 68.1 478 67.8 478.5 71.4 479 70.7 479.5 70.9 480 73.3 480.5 78.0 481 73.6 481.5 72.7 482 74.4 482.5 75.9 483 73.6 483.5 74.5 484 78.9 484.5 84.6 485 83.7 485.5 82.7 486 84.2 486.5 86.9 487 88.5 487.5 86.3 488 87.4 488.5 85.9 489 85.7 489.5 87.6 490 87.0 490.5 87.1 491 86.1 491.5 83.5 492 81.0 492.5 79.5 493 76.4 493.5 75.9 494 78.7 494.5 76.5 495 76.2 495.5 76.2 496 70.1 496.5 70.0 497 69.9 497.5 74.0 498 73.8 498.5 72.3 499 73.6 499.5 76.3 500 75.6 500.5 74.7 501 76.2 501.5 74.6 502 71.9 502.5 70.7 503 70.6 503.5 70.8 504 70.2 504.5 68.6 505 69.3 505.5 70.8 506 65.2 506.5 69.8 507 76.0 507.5 74.9 508 78.1 508.5 83.5 509 79.8 509.5 83.2 510 84.3 510.5 81.0 511 79.2 511.5 75.8 512 73.7 512.5 74.4 513 79.8 513.5 82.6 514 85.5 514.5 82.2 515 84.9 515.5 88.1 516 90.4 516.5 87.6 517 83.0 517.5 80.2 518 82.0 518.5 85.1 519 86.0 519.5 86.4 520.9 84.2 521.4 90.3 521.9 83.3 522.3 83.1 522.8 81.9 523.3 82.4 523.7 82.8 524.2 83.9 524.7 88.0 525.1 83.0 525.6 80.5 526 79.4 526.5 86.6 526.9 86.6 527.4 83.9 527.8 87.6 528.3 79.7 528.7 80.1 529.2 83.2 529.6 75.9 530 81.2 530.5 86.1 530.9 85.7 531.3 90.2 531.8 94.4 532.2 99.0 532.6 96.6 533.1 101.8 533.5 95.7 533.9 95.2 534.3 96.3 534.8 95.1 535.2 90.7 535.6 91.8 536 91.4 536.4 94.7 536.9 90.9 537.3 90.0 537.7 90.2 538.1 88.6 538.5 86.2 538.9 84.8 539.3 83.5 539.7 84.7 540.1 85.4 540.5 89.1 540.9 90.0 541.3 95.7 541.7 98.2 542.1 98.0 542.5 91.3 542.9 97.5 543.3 89.6 543.7 84.5 544.1 81.8 544.5 82.8 544.9 81.0 545.3 84.2 545.6 84.6 546 89.1 546.4 95.2 546.8 93.0 547.2 92.4 547.6 88.9 547.9 87.6 548.3 89.6 548.7 80.7 549.1 88.4 549.5 89.7 549.8 86.7 550.2 91.1 550.6 87.8 550.9 84.5 551.3 82.1 551.7 85.3 552 87.0 552.4 87.1 552.8 88.7 553.1 88.4 553.5 93.0 553.9 92.7 554.2 93.4 554.6 85.9 554.9 84.0 555.3 90.2 555.7 88.1 556 93.5 556.4 97.2 556.7 87.6 557.1 85.0 557.4 88.7 557.8 98.9 558.1 98.7 558.5 100.0 558.8 96.9 559.2 99.3 559.5 94.9 559.9 92.3 560.2 86.5 560.5 85.4 560.9 90.1 561.2 93.0 561.6 93.9 561.9 89.2 562.2 95.6 562.6 84.7 562.9 83.4 563.2 88.1 563.6 90.3 563.9 86.7 564.2 84.3 564.6 90.8 564.9 89.7 565.2 89.8 565.6 82.4 565.9 82.0 566.2 81.5 566.5 88.3 566.9 91.9 567.2 90.4 567.5 88.2 567.8 91.0 568.2 86.6 568.5 87.2 568.8 81.2 569.1 85.2 569.4 84.7 569.8 92.5 570.1 99.7 570.4 102.5 570.7 102.4 571 92.9 571.3 95.8 571.6 93.9 572 91.6 572.3 85.2 572.6 83.4 572.9 89.7 573.2 88.1 573.5 93.3 573.8 89.2 574.1 88.3 574.4 91.0 574.7 97.0 575 98.5 575.3 99.9 575.6 98.3 575.9 97.1 576.3 97.7 576.6 97.8 576.9 95.9 577.2 97.3 577.4 89.2 577.7 84.4 578 84.9 578.3 89.6 578.6 96.1 578.9 103.0 579.2 102.3 579.5 91.3 579.8 93.9 580.1 99.3 580.4 95.1 580.7 93.5 581 92.8 581.3 100.0 581.6 101.8 581.8 102.2 582.1 97.7 582.4 96.5 582.7 102.8 583 102.3 583.3 104.9 583.6 101.2 583.8 95.8 584.1 95.5 584.4 100.3 584.7 99.3 585 103.3 585.2 88.6 585.5 79.6 585.8 80.6 586.1 89.5 586.4 95.5 586.6 106.4 586.9 107.8 587.2 101.6 587.5 108.7 587.7 104.7 588 107.8 588.3 106.5 588.6 98.9 588.8 89.8 589.1 86.9 589.4 96.2 589.6 97.0 589.9 96.0 590.2 92.5 590.5 101.1 590.7 91.9 591 94.1 591.3 94.0 591.5 89.4 591.8 97.0 592.1 97.5 592.3 99.9 592.6 103.4 592.8 106.5 593.1 103.4 593.4 102.8 593.6 96.8 593.9 93.0 594.2 95.3 594.4 90.8 594.7 90.6 594.9 93.8 595.2 101.5 595.4 98.1 595.7 94.1 596 92.8 596.2 97.0 596.5 94.2 596.7 87.9 597 98.1 597.2 107.6 597.5 110.7 597.7 117.0 598 116.6 598.2 107.6 598.5 101.2 598.7 100.3 599 103.1 599.3 103.2 599.5 107.9 599.7 106.3 600 104.1 600.2 108.6 600.5 97.4 600.7 97.6 601 102.2 601.2 104.7 601.5 106.2 601.7 99.3 602 100.0 602.2 96.4 602.5 95.4 602.7 96.9 602.9 99.1 603.2 100.4 603.4 100.1 603.7 94.6 603.9 95.7 604.1 94.7 604.4 104.1 604.6 103.2 604.9 106.7 605.1 105.5 605.3 105.9 605.6 113.6 605.8 112.7 606.1 103.8 606.3 96.5 606.5 102.6 606.8 109.8 607 102.9 607.2 109.1 607.5 101.0 607.7 104.4 607.9 105.1 608.2 102.3 608.4 94.5 608.6 95.6 608.9 106.0 609.1 102.7 609.3 110.0 609.5 101.9 609.8 107.9 610 101.9 610.2 110.7 610.5 105.1 610.7 97.5 610.9 102.1 611.1 97.0 611.4 99.0 611.6 102.8 611.8 101.6 612 105.4 612.3 103.0 612.5 110.0 612.7 97.0 612.9 92.6 613.2 87.9 613.4 94.2 613.6 102.3 613.8 98.4 614.1 105.4 614.3 112.6 614.5 106.6 614.7 103.2 614.9 95.8 615.2 99.0 615.4 112.5 615.6 109.8 615.8 117.7 616 112.4 616.3 106.2 616.5 104.6 616.7 108.4 616.9 109.2 617.1 107.7 617.3 109.2 617.6 119.1 617.8 119.1 618 111.3 618.2 104.2 618.4 103.8 618.6 103.5 618.8 101.2 619 106.8 619.3 104.7 619.5 108.5 619.7 110.4 619.9 111.1 620.1 113.9 620.3 107.7 620.5 101.7 620.7 113.5 620.9 113.9 621.2 116.5 621.4 112.0 621.6 102.0 621.8 85.3 622 94.9 622.2 92.2 622.4 92.4 622.6 94.9 622.8 98.5 623 93.2 623.2 103.2 623.4 106.1 623.6 113.7 623.8 100.8 624 106.3 624.3 107.9 624.5 99.7 624.7 100.1 624.9 99.3 625.1 92.8 625.3 111.4 625.5 103.9 625.7 106.3 625.9 101.4 626.1 106.6 626.3 114.6 626.5 106.8 626.7 109.4 626.9 114.0 627.1 120.6 627.3 123.3 627.5 99.8 627.7 103.8 627.9 102.0 628.1 107.3 628.3 110.1 628.5 116.6 628.7 105.5 628.9 109.5 629.1 106.7 629.2 105.9 629.4 106.5 629.6 92.2 629.8 97.6 630 93.9 630.2 104.0 630.4 103.8 630.6 99.9 630.8 93.9 631 93.9 631.2 93.5 631.4 94.9 631.6 103.0 631.8 105.2 632 113.3 632.1 103.8 632.3 112.1 632.5 106.1 632.7 105.6 632.9 108.3 633.1 111.2 633.3 107.5 633.5 107.0 633.7 109.3 633.9 105.3 634 112.1 634.2 116.5 634.4 115.0 634.6 117.7 634.8 116.5 635 119.7 635.2 112.2 635.4 111.3 635.5 119.2 635.7 119.7 635.9 128.2 636.1 129.3 636.3 125.6 636.5 119.7 636.7 110.6 636.8 115.2 637 108.8 637.2 108.9 637.4 115.7 637.6 111.7 637.8 117.3 637.9 113.6 638.1 109.1 638.3 119.2 638.5 122.3 638.7 118.0 638.8 109.4 639 108.4 639.2 117.1 639.4 114.6 639.6 119.8 639.7 118.0 639.9 116.0 640.1 109.8 640.3 108.7 640.5 97.1 640.6 100.5 640.8 107.7 641 107.7 641.2 113.3 641.4 108.5 641.5 119.7 641.7 119.3 641.9 122.5 642.1 115.9 642.2 121.7 642.4 120.2 642.6 115.5 642.8 112.4 642.9 101.6 643.1 95.9 643.3 109.3 643.5 128.3 643.6 124.6 643.8 124.0 644 112.2 644.2 102.5 644.3 97.6 644.5 97.9 644.7 105.8 644.9 111.2 645 114.1 645.2 113.5 645.4 107.2 645.5 112.0 645.7 106.4 645.9 112.1 646.1 107.0 646.2 113.7 646.4 118.8 646.6 116.7 646.7 116.2 646.9 98.3 647.1 96.5 647.2 95.4 647.4 100.8 647.6 107.7 647.8 112.4 647.9 119.2 648.1 137.6 648.3 137.7 648.4 122.2 648.6 125.4 648.8 121.3 648.9 122.1 649.1 118.2 649.3 112.2 649.4 112.6 649.6 103.2 649.8 105.4 649.9 112.5 650.1 119.3 650.3 107.5 650.4 112.4 650.6 108.8 650.7 111.0 650.9 115.8 651.1 111.1 651.2 110.8 651.4 119.1 651.6 118.8 651.7 133.5 651.9 127.9 652.1 124.3 652.2 113.8 652.4 108.0 652.5 106.1 652.7 108.0 652.9 107.4 653 108.2 653.2 112.5 653.3 118.3 653.5 114.5 653.7 108.5 653.8 103.8 654 108.2 654.2 112.8 654.3 122.0 654.5 126.3 654.6 112.2 654.8 120.6 654.9 119.8 655.1 117.7 655.3 121.2 655.4 124.4 655.6 119.3 655.7 119.8 655.9 114.0 656.1 108.1 656.2 123.7 656.4 116.8 656.5 117.3 656.7 106.1 656.8 113.6 657 107.4 657.2 107.6 657.3 113.2 657.5 117.6 657.6 114.2 657.8 114.4 657.9 122.6 658.1 109.5 658.2 110.9 658.4 109.9 658.5 115.3 658.7 111.6 658.9 111.4 659 108.3 659.2 124.6 659.3 119.9 659.5 115.0 659.6 119.2 659.8 123.4 659.9 126.5 660.1 133.0 660.2 125.9 660.4 117.2 660.5 119.0 660.7 120.3 660.8 122.0 661 115.8 661.1 116.0 661.3 111.3 661.4 125.2 661.6 134.4 661.7 138.8 661.9 137.2 662 135.6 662.2 129.7 662.3 127.2 662.5 118.6 662.6 118.1 662.8 117.1 662.9 127.1 663.1 118.6 663.2 124.8 663.4 116.7 663.5 117.5 663.7 110.1 663.8 116.4 664 96.2 664.1 102.8 664.3 111.6 664.4 120.4 664.6 120.2 664.7 117.2 664.9 114.3 665 120.5 665.2 104.6 665.3 109.1 665.5 105.6 665.6 121.7 665.7 128.6 665.9 144.7 666 130.1 666.2 134.0 666.3 118.2 666.5 117.2 666.6 119.0 666.8 122.6 666.9 129.4 667 131.6 667.2 132.8 667.3 133.3 667.5 132.6 667.6 128.8 667.8 123.5 667.9 132.1 668 127.9 668.2 126.7 668.3 122.2 668.5 119.7 668.6 121.3 668.8 128.3 668.9 127.4 669 122.9 669.2 126.9 669.3 126.1 669.5 128.6 669.6 130.8 669.8 123.2 669.9 122.1 670 121.3 670.2 117.9 670.3 115.0 670.5 126.1 670.6 114.8 670.7 113.2 670.9 119.5 671 126.4 671.2 134.8 671.3 132.7 671.4 121.0 671.6 121.4 671.7 132.3 671.8 132.3 672 129.1 672.1 123.1 672.3 129.8 672.4 126.1 672.5 124.2 672.7 123.2 672.8 124.3 672.9 128.1 673.1 126.6 673.2 127.7 673.4 126.7 673.5 134.6 673.6 130.1 673.8 138.7 673.9 142.4 674 144.3 674.2 146.7 674.3 148.7 674.4 133.9 674.6 125.3 674.7 124.5 674.9 124.9 675 134.9 675.1 131.7 675.3 130.5 675.4 123.6 675.5 138.8 675.7 131.6 675.8 134.8 675.9 130.2 676.1 130.1 676.2 126.2 676.3 134.7 676.5 136.0 676.6 131.6 676.7 127.8 676.9 126.6 677 109.3 677.1 119.8 677.3 114.2 677.4 115.8 677.5 121.9 677.7 119.6 677.8 118.0 677.9 130.7 678.1 130.3 678.2 126.9 678.3 126.8 678.5 122.7 678.6 122.6 678.7 121.2 678.8 119.2 679 122.4 679.1 129.9 679.2 129.5 679.4 129.0 679.5 129.0 679.6 112.7 679.8 121.2 679.9 128.4 680 128.7 680.1 115.1 680.3 111.1 680.4 111.8 680.5 125.9 680.7 122.4 680.8 120.7 680.9 123.9 681.1 123.2 681.2 123.8 681.3 111.5 681.4 110.3 681.6 113.8 681.7 112.8 681.8 118.8 681.9 119.9 682.1 128.3 682.2 138.7 682.3 130.6 682.5 135.8 682.6 138.0 682.7 145.0 682.8 147.2 683 141.9 683.1 134.1 683.2 133.8 683.3 127.9 683.5 132.8 683.6 136.4 683.7 128.8 683.8 127.1 684 129.5 684.1 126.3 684.2 107.9 684.3 109.4 684.5 120.7 684.6 125.8 684.7 132.9 684.8 134.6 685 137.4 685.1 129.7 685.2 127.8 685.3 124.6 685.5 134.4 685.6 138.1 685.7 133.0 685.8 137.1 686 131.8 686.1 126.5 686.2 114.3 686.3 128.9 686.5 140.1 686.6 145.3 686.7 140.1 686.8 137.6 686.9 136.9 687.1 129.4 687.2 125.5 687.3 129.8 687.4 123.7 687.6 122.1 687.7 130.0 687.8 118.0 687.9 132.6 688 134.8 688.2 133.3 688.3 125.0 688.4 118.7 688.5 120.4 688.7 123.9 688.8 119.3 688.9 118.4 689 106.5 689.1 113.5 689.3 118.5 689.4 120.3 689.5 124.8 689.6 132.4 689.7 134.7 689.9 146.1 690 131.7 690.1 134.4 690.2 142.1 690.3 132.9 690.5 131.5 690.6 136.5 690.7 130.7 690.8 122.7 690.9 124.7 691 131.6 691.2 135.8 691.3 140.2 691.4 143.6 691.5 149.3 691.6 146.2 691.8 152.0 691.9 140.3 692 140.1 692.1 141.2 692.2 135.8 692.3 122.4 692.5 121.4 692.6 111.5 692.7 112.9 692.8 118.2 692.9 127.1 693 129.2 693.2 127.2 693.3 128.3 693.4 134.9 693.5 131.8 693.6 129.4 693.7 124.6 693.9 128.8 694 135.3 694.1 144.8 694.2 141.5 694.3 144.1 694.4 133.9 694.5 133.7 694.7 140.7 694.8 130.4 694.9 126.5 695 133.5 695.1 145.3 695.2 149.3 695.4 141.7 695.5 145.3 695.6 143.1 695.7 152.4 695.8 145.8 695.9 133.6 696 129.3 696.2 133.9 696.3 132.1 696.4 126.6 696.5 126.3 696.6 130.2 696.7 143.0 696.8 125.6 696.9 119.0 697.1 117.3 697.2 118.4 697.3 125.2 697.4 136.1 697.5 139.8 697.6 141.0 697.7 127.4 697.8 127.1 698 131.1 698.1 133.6 698.2 135.5 698.3 139.2 698.4 134.8 698.5 146.8 698.6 142.9 698.7 131.5 698.8 128.9 699 117.2 699.1 130.6 699.2 126.9 699.3 128.2 699.4 119.9 699.5 130.0 699.6 141.9 699.7 141.8 699.8 140.3 700 140.1 700.1 140.2 700.2 137.7 700.3 129.0 700.4 124.9 700.5 134.2 700.6 138.6 700.7 143.8 700.8 141.4 700.9 136.8 701.1 137.7 701.2 133.3 701.3 138.2 701.4 134.7 701.5 123.3 701.6 139.4 701.7 139.4 701.8 128.0 701.9 125.8 702 131.5 702.1 140.0 702.3 140.9 702.4 141.9 702.5 127.3 702.6 129.8 702.7 129.4 702.8 130.5 702.9 127.0 703 124.3 703.1 136.4 703.2 133.0 703.3 139.4 703.4 136.6 703.5 140.8 703.6 136.1 703.8 133.2 703.9 133.8 704 145.5 704.1 154.3 704.2 154.5 704.3 144.8 704.4 139.3 704.5 128.9 704.6 143.3 704.7 143.0 704.8 140.9 704.9 135.5 705 142.3 705.1 148.7 705.2 143.0 705.3 145.0 705.5 134.7 705.6 130.1 705.7 129.9 705.8 127.4 705.9 139.9 706 142.6 706.1 148.0 706.2 139.7 706.3 129.8 706.4 117.7 706.5 126.5 706.6 135.1 706.7 135.8 706.8 141.8 706.9 138.9 707 147.9 707.1 153.8 707.2 155.4 707.3 148.1 707.4 150.2 707.5 145.2 707.6 137.0 707.8 130.4 707.9 130.3 708 143.0 708.1 137.2 708.2 143.5 708.3 140.4 708.4 151.7 708.5 147.4 708.6 138.3 708.7 132.4 708.8 146.4 708.9 153.1 709 145.3 709.1 147.5 709.2 143.8 709.3 141.6 709.4 143.9 709.5 136.0 709.6 134.8 709.7 139.2 709.8 144.7 709.9 151.9 710 149.3 710.1 155.1 710.2 160.6 710.3 161.7 710.4 142.9 710.5 145.5 710.6 137.2 710.7 139.3 710.8 136.2 710.9 124.6 711 122.4 711.1 130.1 711.2 154.8 711.3 148.5 711.4 155.8 711.5 155.6 711.6 140.3 711.7 140.5 711.8 130.4 711.9 136.9 712 135.1 712.1 130.5 712.2 136.2 712.3 145.2 712.4 140.7 712.5 137.6 712.6 135.7 712.7 138.7 712.8 139.7 712.9 149.2 713 152.8 713.1 143.9 713.2 148.7 713.3 141.5 713.4 139.7 713.5 134.6 713.6 132.9 713.7 134.5 713.8 128.2 713.9 132.3 714 128.7 714.1 133.8 714.2 136.0 714.3 140.2 714.4 145.4 714.5 156.3 714.6 153.2 714.7 153.9 714.8 145.3 714.9 148.7 715 145.5 715.1 143.3 715.2 146.4 715.3 145.7 715.4 146.4 715.5 138.9 715.6 135.5 715.7 139.3 715.8 139.2 715.9 139.1 716 132.7 716.1 139.0 716.2 134.7 716.2 138.4 716.3 135.0 716.4 136.8 716.5 133.5 716.6 133.3 716.7 128.4 716.8 129.1 716.9 130.1 717 127.7 717.1 136.7 717.2 142.5 717.3 150.9 717.4 156.9 717.5 153.5 717.6 157.9 717.7 156.2 717.8 155.4 717.9 152.0 718 141.0 718.1 133.6 718.2 130.0 718.3 135.9 718.4 131.0 718.4 127.6 718.5 124.1 718.6 120.6 718.7 131.8 718.8 133.2 718.9 146.6 719 152.0 719.1 156.9 719.2 157.9 719.3 149.7 719.4 153.0 719.5 156.9 719.6 144.9 719.7 145.1 719.8 137.1 719.9 142.5 720 146.2 720.1 141.0 720.1 154.4 720.2 151.1 720.3 153.5 720.4 150.5 720.5 154.7 720.6 161.2 720.7 161.9 720.8 154.4 720.9 153.6 721 145.7 721.1 152.1 721.2 148.4 721.3 161.9 721.4 156.0 721.4 146.0 721.5 140.0 721.6 142.8 721.7 155.8 721.8 153.0 721.9 154.1 722 144.9 722.1 144.0 722.2 150.4 722.3 161.7 722.4 160.6 722.5 158.5 722.6 160.9 722.6 137.3 722.7 141.4 722.8 139.8 722.9 153.4 723 146.4 723.1 152.1 723.2 147.7 723.3 147.1 723.4 146.3 723.5 161.7 723.6 155.7 723.6 150.8 723.7 154.8 723.8 160.9 723.9 154.8 724 154.0 724.1 154.0 724.2 148.6 724.3 153.9 724.4 146.1 724.5 156.5 724.6 151.5 724.6 149.7 724.7 147.2 724.8 148.3 724.9 146.6 725 144.4 725.1 141.9 725.2 142.5 725.3 144.6 725.4 149.8 725.5 157.1 725.5 159.3 725.6 150.4 725.7 150.2 725.8 143.8 725.9 146.8 726 150.9 726.1 142.6 726.2 153.7 726.3 152.2 726.3 147.5 726.4 149.7 726.5 151.4 726.6 158.0 726.7 152.4 726.8 151.5 726.9 146.4 727 136.1 727.1 138.7 727.1 140.1 727.2 141.8 727.3 147.9 727.4 154.3 727.5 167.2 727.6 176.4 727.7 173.9 727.8 173.8 727.9 168.2 727.9 156.1 728 146.8 728.1 150.5 728.2 154.9 728.3 166.0 728.4 157.6 728.5 151.2 728.6 150.8 728.6 142.8 728.7 145.1 728.8 155.9 728.9 162.8 729 163.7 729.1 160.4 729.2 160.3 729.2 146.2 729.3 148.7 729.4 146.7 729.5 151.7 729.6 157.2 729.7 148.3 729.8 137.4 729.9 142.7 729.9 149.3 730 143.5 730.1 147.7 730.2 153.6 730.3 163.3 730.4 166.0 730.5 165.7 730.5 169.2 730.6 157.6 730.7 157.9 730.8 144.3 730.9 149.5 731 154.8 731.1 150.6 731.1 141.2 731.2 144.8 731.3 145.4 731.4 144.5 731.5 152.1 731.6 160.6 731.7 159.9 731.7 156.8 731.8 151.8 731.9 149.6 732 148.6 732.1 156.8 732.2 157.2 732.3 152.0 732.3 139.0 732.4 139.1 732.5 144.7 732.6 142.5 732.7 148.6 732.8 154.3 732.8 166.6 732.9 159.6 733 152.3 733.1 148.0 733.2 148.2 733.3 162.0 733.4 155.9 733.4 161.8 733.5 159.5 733.6 159.0 733.7 161.0 733.8 151.1 733.9 152.7 733.9 146.9 734 150.8 734.1 155.7 734.2 165.7 734.3 164.5 734.4 163.9 734.4 164.6 734.5 163.9 734.6 160.1 734.7 155.7 734.8 157.8 734.9 164.7 734.9 170.5 735 162.4 735.1 157.6 735.2 153.2 735.3 151.2 735.4 153.6 735.4 149.9 735.5 160.9 735.6 168.7 735.7 161.3 735.8 161.3 735.8 148.3 735.9 147.8 736 144.1 736.1 142.2 736.2 145.2 736.3 150.9 736.3 148.8 736.4 150.7 736.5 162.8 736.6 162.3 736.7 154.3 736.7 161.8 736.8 153.5 736.9 154.7 737 156.8 737.1 164.6 737.2 162.7 737.2 158.8 737.3 157.9 737.4 155.7 737.5 159.6 737.6 154.5 737.6 161.3 737.7 151.8 737.8 152.4 737.9 155.2 738 160.2 738.1 172.3 738.1 165.2 738.2 158.3 738.3 160.5 738.4 148.0 738.5 156.7 738.5 151.5 738.6 162.4 738.7 170.5 738.8 178.1 738.9 184.3 738.9 185.0 739 174.1 739.1 157.5 739.2 160.6 739.3 156.2 739.3 155.2 739.4 155.5 739.5 169.0 739.6 165.1 739.7 162.7 739.7 161.5 739.8 163.8 739.9 167.9 740 163.6 740.1 163.4 740.1 161.7 740.2 160.8 740.3 166.3 740.4 160.8 740.5 164.1 740.5 157.2 740.6 173.6 740.7 160.8 740.8 163.9 740.9 161.6 740.9 153.5 741 152.7 741.1 158.9 741.2 149.8 741.2 154.4 741.3 154.8 741.4 158.8 741.5 161.4 741.6 168.5 741.6 175.0 741.7 167.0 741.8 163.5 741.9 171.2 742 177.0 742 179.5 742.1 181.5 742.2 170.6 742.3 163.0 742.3 161.3 742.4 167.8 742.5 157.4 742.6 158.8 742.7 147.7 742.7 141.3 742.8 152.5 742.9 162.0 743 168.2 743 167.6 743.1 171.8 743.2 173.0 743.3 178.4 743.4 177.1 743.4 181.7 743.5 179.6 743.6 170.9 743.7 163.4 743.7 161.7 743.8 182.9 743.9 187.2 744 187.1 744.1 178.4 744.1 168.9 744.2 165.8 744.3 163.5 744.4 166.1 744.4 158.6 744.5 167.9 744.6 172.3 744.7 183.9 744.7 182.3 744.8 177.4 744.9 175.9 745 171.0 745 172.4 745.1 164.8 745.2 159.8 745.3 169.8 745.4 182.5 745.4 168.1 745.5 157.6 745.6 165.1 745.7 167.2 745.7 173.1 745.8 176.0 745.9 165.9 746 164.2 746 162.2 746.1 164.4 746.2 178.7 746.3 161.9 746.3 149.8 746.4 158.9 746.5 153.4 746.6 153.5 746.6 149.8 746.7 151.7 746.8 157.2 746.9 165.7 746.9 162.9 747 163.5 747.1 155.5 747.2 164.3 747.2 161.5 747.3 163.7 747.4 168.3 747.5 166.0 747.5 163.6 747.6 159.4 747.7 170.5 747.8 172.5 747.8 168.1 747.9 180.2 748 177.3 748.1 174.0 748.1 165.6 748.2 172.7 748.3 175.1 748.4 166.4 748.4 153.6 748.5 155.1 748.6 165.6 748.7 181.2 748.7 182.7 748.8 176.8 748.9 178.2 749 183.0 749 180.8 749.1 180.4 749.2 172.3 749.3 178.8 749.3 174.6 749.4 164.2 749.5 170.4 749.6 167.6 749.6 180.7 749.7 182.9 749.8 182.7 749.8 178.5 749.9 178.4 750 178.4 750.1 178.4 750.1 183.3 750.2 189.3 750.3 174.2 750.4 166.9 750.4 163.1 750.5 168.0 750.6 176.6 750.7 181.5 750.7 178.1 750.8 173.7 750.9 171.2 750.9 165.2 751 152.6 751.1 163.8 751.2 151.4 751.2 163.0 751.3 164.1 751.4 177.7 751.5 174.4 751.5 179.3 751.6 177.6 751.7 181.8 751.7 186.8 751.8 187.8 751.9 174.2 752 172.8 752 166.3 752.1 167.3 752.2 166.8 752.2 176.0 752.3 174.9 752.4 170.9 752.5 171.7 752.5 175.3 752.6 178.7 752.7 178.3 752.8 180.6 752.8 178.4 752.9 189.2 753 182.2 753 174.2 753.1 176.7 753.2 169.8 753.3 167.8 753.3 170.9 753.4 169.6 753.5 165.2 753.5 165.6 753.6 164.7 753.7 158.0 753.8 162.9 753.8 167.7 753.9 166.9 754 170.5 754 170.7 754.1 174.8 754.2 175.3 754.2 160.4 754.3 177.5 754.4 188.4 754.5 188.9 754.5 172.0 754.6 179.1 754.7 184.7 754.7 176.1 754.8 174.3 754.9 173.6 755 171.8 755 168.1 755.1 173.4 755.2 175.8 755.2 182.3 755.3 187.9 755.4 179.8 755.4 181.2 755.5 170.7 755.6 172.2 755.7 167.9 755.7 177.4 755.8 176.8 755.9 182.3 755.9 193.0 756 187.8 756.1 179.5 756.1 169.8 756.2 176.3 756.3 189.5 756.4 176.3 756.4 177.9 756.5 164.9 756.6 171.8 756.6 171.8 756.7 172.0 756.8 173.3 756.8 175.4 756.9 171.4 757 179.5 757.1 184.9 757.1 173.8 757.2 181.5 757.3 177.8 757.3 178.2 757.4 174.3 757.5 177.1 757.5 170.2 757.6 171.3 757.7 175.6 757.7 178.2 757.8 182.0 757.9 176.9 758 174.3 758 167.1 758.1 165.6 758.2 163.2 758.2 176.6 758.3 182.8 758.4 188.6 758.4 198.4 758.5 179.4 758.6 178.3 758.6 178.5 758.7 172.4 758.8 176.1 758.8 168.3 758.9 168.8 759 169.8 759 162.6 759.1 172.9 759.2 176.4 759.3 184.7 759.3 176.4 759.4 173.2 759.5 175.5 759.5 177.2 759.6 170.2 759.7 167.0 759.7 165.4 759.8 163.3 759.9 163.8 759.9 177.1 760 169.3 760.1 168.7 760.1 167.7 760.2 161.2 760.3 156.2 760.3 154.5 760.4 165.0 760.5 163.7 760.5 168.0 760.6 171.5 760.7 162.5 760.7 164.4 760.8 178.9 760.9 195.4 760.9 191.9 761 190.9 761.1 183.0 761.1 182.3 761.2 186.1 761.3 176.2 761.3 186.3 761.4 179.2 761.5 189.9 761.5 189.8 761.6 184.5 761.7 187.2 761.7 191.9 761.8 192.3 761.9 194.1 761.9 201.2 762 173.4 762.1 169.1 762.1 168.6 762.2 173.7 762.3 176.1 762.3 160.3 762.4 160.3 762.5 166.6 762.5 167.4 762.6 169.7 762.7 179.7 762.7 182.4 762.8 174.3 762.9 182.4 762.9 180.8 763 191.8 763.1 194.7 763.1 180.2 763.2 170.6 763.3 177.1 763.3 173.1 763.4 183.2 763.5 180.5 763.5 184.7 763.6 175.8 763.7 184.3 763.7 179.7 763.8 167.0 763.9 165.3 763.9 163.5 764 179.9 764.1 181.6 764.1 185.7 764.2 191.4 764.3 192.8 764.3 190.0 764.4 192.7 764.5 181.4 764.5 178.2 764.6 166.9 764.6 169.6 764.7 182.1 764.8 184.8 764.8 177.5 764.9 174.4 765 175.7 765 175.2 765.1 181.5 765.2 178.0 765.2 176.5 765.3 176.7 765.4 181.4 765.4 190.0 765.5 180.9 765.6 188.5 765.6 190.6 765.7 174.1 765.8 165.8 765.8 157.8 765.9 166.1 765.9 167.3 766 172.6 766.1 171.0 766.1 169.0 766.2 163.1 766.3 171.7 766.3 177.3 766.4 191.6 766.5 178.1 766.5 175.3 766.6 182.0 766.7 185.3 766.7 189.8 766.8 193.2 766.8 192.7 766.9 199.1 767 189.7 767 179.2 767.1 179.1 767.2 175.1 767.2 174.4 767.3 182.5 767.4 178.0 767.4 182.8 767.5 178.9 767.5 180.9 767.6 177.6 767.7 172.3 767.7 165.6 767.8 168.0 767.9 179.8 767.9 186.5 768 187.6 768.1 190.3 768.1 193.8 768.2 197.3 768.2 178.7 768.3 186.2 768.4 196.5 768.4 198.3 768.5 209.7 768.6 196.3 768.6 193.7 768.7 197.0 768.8 181.5 768.8 170.7 768.9 175.4 768.9 175.3 769 176.4 769.1 179.8 769.1 176.0 769.2 179.6 769.3 178.1 769.3 193.3 769.4 208.1 769.4 204.4 769.5 189.4 769.6 184.4 769.6 173.8 769.7 168.3 769.8 173.2 769.8 181.0 769.9 181.3 769.9 198.1 770 200.4 770.1 194.8 770.1 195.0 770.2 201.0 770.3 202.0 770.3 204.5 770.4 202.1 770.4 204.3 770.5 197.3 770.6 204.4 770.6 196.5 770.7 185.4 770.8 182.9 770.8 178.8 770.9 182.2 770.9 174.8 771 180.1 771.1 187.5 771.1 191.2 771.2 190.6 771.2 178.6 771.3 173.0 771.4 179.4 771.4 186.5 771.5 193.2 771.6 191.4 771.6 189.8 771.7 180.9 771.7 175.8 771.8 181.3 771.9 182.3 771.9 193.9 772 185.2 772 179.9 772.1 177.4 772.2 183.8 772.2 182.9 772.3 189.2 772.4 193.3 772.4 193.1 772.5 189.8 772.5 181.3 772.6 190.9 772.7 190.2 772.7 189.7 772.8 177.2 772.8 185.3 772.9 176.5 773 179.6 773 181.1 773.1 177.4 773.1 181.9 773.2 193.6 773.3 203.3 773.3 196.7 773.4 194.3 773.5 184.9 773.5 187.4 773.6 186.7 773.6 186.2 773.7 191.9 773.8 196.0 773.8 195.8 773.9 198.4 773.9 193.9 774 179.8 774.1 183.3 774.1 182.9 774.2 177.6 774.2 189.5 774.3 188.8 774.4 177.8 774.4 183.1 774.5 185.3 774.5 187.2 774.6 192.1 774.7 196.8 774.7 194.1 774.8 200.2 774.8 202.6 774.9 200.3 775 201.7 775 199.8 775.1 192.7 775.1 192.2 775.2 178.8 775.3 182.6 775.3 178.8 775.4 183.2 775.4 192.1 775.5 182.3 775.6 195.1 775.6 200.5 775.7 203.3 775.7 197.5 775.8 198.7 775.9 188.4 775.9 187.5 776 186.1 776 176.5 776.1 180.8 776.2 183.3 776.2 184.1 776.3 196.8 776.3 194.1 776.4 189.4 776.5 190.4 776.5 187.0 776.6 192.1 776.6 192.2 776.7 198.8 776.7 206.4 776.8 211.2 776.9 211.2 776.9 196.8 777 189.0 777 193.9 777.1 195.1 777.2 193.5 777.2 192.2 777.3 193.9 777.3 188.0 777.4 186.4 777.5 196.9 777.5 197.9 777.6 199.9 777.6 193.7 777.7 204.5 777.7 205.0 777.8 210.1 777.9 208.5 777.9 212.6 778 196.3 778 197.3 778.1 189.3 778.2 185.3 778.2 194.7 778.3 198.7 778.3 199.6 778.4 191.8 778.4 185.6 778.5 179.5 778.6 178.6 778.6 191.2 778.7 183.4 778.7 190.5 778.8 193.5 778.9 189.5 778.9 192.8 779 194.7 779 193.1 779.1 205.4 779.1 199.7 779.2 205.1 779.3 201.9 779.3 202.1 779.4 194.6 779.4 194.3 779.5 190.0 779.5 195.3 779.6 208.0 779.7 210.6 779.7 207.0 779.8 199.4 779.8 196.8 779.9 196.8 780 202.2 780 205.7 780.1 206.4 780.1 201.4 780.2 194.2 780.2 202.8 780.3 200.4 780.4 206.3 780.4 203.1 780.5 205.5 780.5 205.0 780.6 200.3 780.6 201.8 780.7 186.6 780.8 185.1 780.8 191.9 780.9 194.7 780.9 195.9 781 191.9 781 193.8 781.1 195.7 781.2 201.5 781.2 204.0 781.3 201.1 781.3 195.7 781.4 194.5 781.4 207.0 781.5 206.4 781.6 209.3 781.6 197.9 781.7 190.5 781.7 195.2 781.8 188.3 781.8 191.3 781.9 190.2 782 195.2 782 198.0 782.1 189.4 782.1 189.4 782.2 187.5 782.2 187.3 782.3 180.8 782.3 188.3 782.4 180.2 782.5 188.2 782.5 183.3 782.6 188.0 782.6 189.3 782.7 189.7 782.7 191.6 782.8 197.7 782.9 210.7 782.9 203.8 783 188.0 783 197.1 783.1 193.4 783.1 193.0 783.2 182.8 783.2 192.1 783.3 189.7 783.4 187.1 783.4 196.4 783.5 190.1 783.5 200.5 783.6 206.6 783.6 207.0 783.7 211.8 783.8 208.3 783.8 212.0 783.9 203.6 783.9 208.2 784 208.3 784 203.5 784.1 205.4 784.1 198.6 784.2 198.9 784.3 206.5 784.3 221.3 784.4 218.6 784.4 208.1 784.5 200.1 784.5 205.6 784.6 208.3 784.6 205.7 784.7 195.9 784.8 194.8 784.8 195.2 784.9 208.0 784.9 206.4 785 206.8 785 205.2 785.1 202.1 785.1 204.3 785.2 198.1 785.2 201.4 785.3 211.1 785.4 210.5 785.4 208.1 785.5 196.4 785.5 201.5 785.6 207.3 785.6 200.5 785.7 201.0 785.7 203.5 785.8 201.0 785.9 206.4 785.9 202.6 786 206.2 786 200.2 786.1 192.9 786.1 197.2 786.2 204.4 786.2 204.0 786.3 202.6 786.3 201.0 786.4 200.9 786.5 198.7 786.5 211.8 786.6 203.2 786.6 213.4 786.7 209.0 786.7 213.4 786.8 212.2 786.8 216.8 786.9 212.5 786.9 215.8 787 221.9 787.1 210.2 787.1 207.0 787.2 206.2 787.2 195.2 787.3 201.5 787.3 199.8 787.4 205.6 787.4 201.7 787.5 200.8 787.5 207.4 787.6 198.3 787.7 197.6 787.7 198.5 787.8 188.2 787.8 190.7 787.9 189.3 787.9 200.0 788 198.6 788 203.3 788.1 212.7 788.1 204.4 788.2 200.4 788.2 205.2 788.3 215.8 788.4 208.8 788.4 207.2 788.5 204.5 788.5 200.6 788.6 200.6 788.6 203.9 788.7 206.5 788.7 203.4 788.8 208.5 788.8 212.3 788.9 213.8 788.9 205.4 789 213.3 789 220.4 789.1 214.6 789.2 208.7 789.2 212.8 789.3 205.4 789.3 199.5 789.4 199.4 789.4 195.5 789.5 195.4 789.5 196.4 789.6 200.5 789.6 198.8 789.7 196.9 789.7 202.7 789.8 203.9 789.8 195.3 789.9 201.1 790 199.2 790 208.9 790.1 201.5 790.1 206.9 790.2 210.6 790.2 213.3 790.3 219.3 790.3 214.3 790.4 208.6 790.4 214.9 790.5 214.6 790.5 220.4 790.6 230.7 790.6 230.0 790.7 215.0 790.7 212.0 790.8 216.6 790.9 213.9 790.9 213.5 791 211.1 791 210.1 791.1 215.1 791.1 210.2 791.2 196.7 791.2 190.2 791.3 205.3 791.3 207.3 791.4 205.5 791.4 211.5 791.5 206.8 791.5 215.9 791.6 212.5 791.6 210.7 791.7 221.2 791.7 215.6 791.8 207.2 791.9 210.3 791.9 203.0 792 204.1 792 193.0 792.1 193.1 792.1 205.5 792.2 219.6 792.2 233.2 792.3 231.8 792.3 229.5 792.4 219.5 792.4 217.3 792.5 223.0 792.5 226.9 792.6 221.1 792.6 206.0 792.7 210.8 792.7 218.7 792.8 226.9 792.8 222.1 792.9 230.5 792.9 223.1 793 212.3 793 208.5 793.1 207.1 793.2 207.1 793.2 210.3 793.3 214.8 793.3 204.9 793.4 202.3 793.4 209.6 793.5 214.9 793.5 207.7 793.6 201.4 793.6 219.9 793.7 224.3 793.7 220.3 793.8 204.6 793.8 193.2 793.9 198.4 793.9 200.4 794 211.8 794 214.6 794.1 197.7 794.1 204.0 794.2 208.7 794.2 212.8 794.3 209.3 794.3 215.0 794.4 221.5 794.4 224.2 794.5 228.2 794.5 237.2 794.6 222.7 794.6 216.0 794.7 207.7 794.7 198.8 794.8 194.8 794.8 182.9 794.9 197.7 794.9 214.2 795 202.4 795 198.0 795.1 199.7 795.2 205.9 795.2 210.9 795.3 201.5 795.3 207.1 795.4 204.1 795.4 216.7 795.5 233.2 795.5 222.5 795.6 224.4 795.6 214.8 795.7 204.6 795.7 211.7 795.8 210.6 795.8 211.9 795.9 210.6 795.9 215.8 796 219.8 796 204.6 796.1 206.2 796.1 209.1 796.2 213.9 796.2 214.9 796.3 213.8 796.3 220.8 796.4 222.7 796.4 225.8 796.5 226.8 796.5 213.8 796.6 212.2 796.6 206.4 796.7 213.9 796.7 215.6 796.8 221.3 796.8 215.4 796.9 211.4 796.9 215.3 797 212.5 797 209.2 797.1 217.2 797.1 226.9 797.2 226.9 797.2 216.2 797.3 212.9 797.3 209.6 797.4 210.7 797.4 217.2 797.5 215.2 797.5 219.4 797.6 219.6 797.6 220.4 797.7 222.4 797.7 223.0 797.8 203.9 797.8 206.0 797.9 212.7 797.9 211.8 798 206.3 798 217.2 798.1 230.7 798.1 220.1 798.2 232.9 798.2 240.6 798.3 232.9 798.3 228.6 798.4 225.0 798.4 219.8 798.5 214.5 798.5 216.7 798.6 221.3 798.6 223.5 798.7 221.5 798.7 226.8 798.8 221.3 798.8 213.8 798.9 211.4 798.9 217.4 799 214.2 799 219.2 799.1 214.4 799.1 216.5 799.2 219.1 799.2 225.1 799.3 227.8 799.3 220.9 799.4 223.0 799.4 233.6 799.5 232.2 799.5 229.1 799.5 223.2 799.6 214.2 799.6 210.6 799.7 205.0 799.7 200.7 799.8 203.5 799.8 217.1 799.9 225.0 799.9 214.7 800 215.6 800 216.3 800.1 220.5 800.1 220.0 800.2 214.6 800.2 215.0 800.3 205.8 800.3 209.0 800.4 217.4 800.4 220.8 800.5 229.0 800.5 244.5 800.6 243.5 800.6 238.5 800.7 237.3 800.7 237.3 800.8 227.9 800.8 208.5 800.9 198.4 800.9 203.8 801 204.3 801 199.3 801.1 213.2 801.1 218.5 801.2 215.8 801.2 224.5 801.3 233.1 801.3 225.3 801.4 221.4 801.4 225.5 801.4 234.3 801.5 220.7 801.5 227.7 801.6 229.4 801.6 225.0 801.7 221.4 801.7 210.1 801.8 225.8 801.8 227.3 801.9 223.5 801.9 221.3 802 220.2 802 224.7 802.1 230.1 802.1 232.2 802.2 237.1 802.2 225.6 802.3 225.3 802.3 229.8 802.4 227.7 802.4 228.3 802.5 237.7 802.5 231.5 802.6 224.4 802.6 234.7 802.7 231.4 802.7 221.6 802.7 215.5 802.8 219.8 802.8 219.4 802.9 223.8 802.9 218.0 803 220.0 803 213.9 803.1 219.5 803.1 230.5 803.2 233.3 803.2 229.1 803.3 221.9 803.3 224.9 803.4 210.6 803.4 211.8 803.5 218.4 803.5 220.0 803.6 222.6 803.6 223.7 803.7 220.4 803.7 220.2 803.7 225.9 803.8 222.8 803.8 225.0 803.9 226.8 803.9 225.6 804 228.9 804 241.3 804.1 225.2 804.1 239.4 804.2 245.0 804.2 239.5 804.3 225.0 804.3 204.9 804.4 215.4 804.4 222.7 804.5 237.8 804.5 239.4 804.6 240.1 804.6 235.6 804.6 240.0 804.7 242.6 804.7 232.6 804.8 229.7 804.8 220.3 804.9 218.5 804.9 222.4 805 223.2 805 234.3 805.1 236.2 805.1 221.6 805.2 218.9 805.2 226.6 805.3 227.6 805.3 229.9 805.4 233.9 805.4 231.3 805.4 231.9 805.5 225.9 805.5 228.2 805.6 219.4 805.6 232.1 805.7 233.2 805.7 226.1 805.8 229.2 805.8 224.5 805.9 228.7 805.9 230.9 806 210.7 806 199.8 806.1 209.3 806.1 216.3 806.1 214.8 806.2 219.8 806.2 222.3 806.3 217.5 806.3 209.9 806.4 221.3 806.4 228.9 806.5 229.7 806.5 235.7 806.6 247.9 806.6 237.0 806.7 228.0 806.7 231.4 806.7 221.5 806.8 228.3 806.8 219.4 806.9 217.4 806.9 216.8 807 228.4 807 236.6 807.1 233.7 807.1 233.1 807.2 227.3 807.2 220.9 807.3 230.9 807.3 239.2 807.3 242.6 807.4 246.4 807.4 238.9 807.5 220.1 807.5 220.5 807.6 212.9 807.6 228.3 807.7 231.0 807.7 219.8 807.8 217.7 807.8 212.5 807.9 230.8 807.9 233.7 807.9 231.0 808 234.1 808 230.4 808.1 239.4 808.1 239.1 808.2 243.9 808.2 230.4 808.3 241.4 808.3 239.7 808.4 232.7 808.4 232.5 808.4 231.2 808.5 224.0 808.5 230.3 808.6 229.5 808.6 226.1 808.7 225.2 808.7 214.3 808.8 223.9 808.8 227.8 808.9 235.1 808.9 243.2 809 240.9 809 239.4 809 240.6 809.1 234.3 809.1 231.4 809.2 233.0 809.2 227.5 809.3 236.2 809.3 247.5 809.4 245.9 809.4 247.2 809.5 237.4 809.5 236.9 809.5 234.7 809.6 230.8 809.6 243.5 809.7 244.2 809.7 240.9 809.8 232.9 809.8 234.1 809.9 235.5 809.9 226.2 809.9 221.0 810 229.6 810 233.8 810.1 241.5 810.1 242.1 810.2 231.9 810.2 233.4 810.3 237.9 810.3 238.8 810.4 225.4 810.4 221.1 810.4 219.9 810.5 227.4 810.5 225.5 810.6 227.6 810.6 217.7 810.7 217.4 810.7 228.5 810.8 220.3 810.8 232.6 810.8 240.3 810.9 250.1 810.9 255.4 811 251.2 811 254.6 811.1 244.6 811.1 247.2 811.2 238.1 811.2 239.7 811.2 237.0 811.3 242.6 811.3 236.9 811.4 247.6 811.4 249.3 811.5 236.0 811.5 236.0 811.6 235.0 811.6 238.0 811.7 241.6 811.7 245.2 811.7 248.5 811.8 244.1 811.8 236.9 811.9 238.3 811.9 229.9 812 223.1 812 226.2 812.1 232.6 812.1 232.7 812.1 238.3 812.2 236.1 812.2 231.7 812.3 226.9 812.3 235.1 812.4 248.1 812.4 246.1 812.4 244.1 812.5 246.3 812.5 247.3 812.6 245.1 812.6 255.4 812.7 232.5 812.7 231.2 812.8 240.9 812.8 223.9 812.8 225.0 812.9 231.3 812.9 225.6 813 223.8 813 226.9 813.1 234.5 813.1 242.4 813.2 245.0 813.2 249.1 813.2 250.7 813.3 237.5 813.3 233.1 813.4 246.8 813.4 250.2 813.5 259.6 813.5 256.7 813.5 253.2 813.6 246.3 813.6 240.0 813.7 237.7 813.7 235.9 813.8 235.6 813.8 237.0 813.9 243.3 813.9 255.2 813.9 250.4 814 248.3 814 241.8 814.1 240.2 814.1 231.5 814.2 223.9 814.2 230.7 814.2 227.3 814.3 234.6 814.3 226.6 814.4 232.7 814.4 236.7 814.5 246.7 814.5 243.8 814.6 242.1 814.6 241.1 814.6 239.2 814.7 241.5 814.7 245.6 814.8 230.5 814.8 225.6 814.9 247.5 814.9 247.2 814.9 248.1 815 243.7 815 241.0 815.1 238.6 815.1 255.8 815.2 258.5 815.2 247.2 815.2 252.7 815.3 247.1 815.3 246.9 815.4 245.4 815.4 244.4 815.5 243.3 815.5 246.7 815.5 251.6 815.6 243.1 815.6 240.5 815.7 253.7 815.7 252.8 815.8 254.7 815.8 248.3 815.8 245.6 815.9 241.9 815.9 226.7 816 231.4 816 241.0 816.1 239.7 816.1 241.4 816.2 255.2 816.2 246.0 816.2 245.0 816.3 240.0 816.3 235.9 816.4 239.3 816.4 235.3 816.5 230.0 816.5 236.4 816.5 233.7 816.6 243.9 816.6 246.9 816.7 247.1 816.7 234.8 816.7 229.9 816.8 235.2 816.8 246.1 816.9 250.5 816.9 247.2 817 238.4 817 243.2 817 256.3 817.1 261.2 817.1 262.9 817.2 256.3 817.2 250.9 817.3 256.4 817.3 240.7 817.3 231.0 817.4 247.9 817.4 243.7 817.5 257.2 817.5 249.9 817.6 253.3 817.6 250.2 817.6 248.6 817.7 240.3 817.7 252.0 817.8 251.7 817.8 248.8 817.9 242.8 817.9 234.8 817.9 234.7 818 240.0 818 246.0 818.1 246.2 818.1 243.8 818.2 246.8 818.2 235.8 818.2 236.6 818.3 243.4 818.3 233.6 818.4 224.4 818.4 232.0 818.4 237.0 818.5 240.9 818.5 241.0 818.6 251.0 818.6 253.0 818.7 251.2 818.7 246.1 818.7 229.6 818.8 236.0 818.8 233.8 818.9 230.0 818.9 243.0 818.9 240.9 819 260.7 819 256.0 819.1 245.7 819.1 236.0 819.2 241.4 819.2 247.5 819.2 249.7 819.3 255.6 819.3 256.0 819.4 238.8 819.4 245.5 819.5 234.6 819.5 240.0 819.5 244.2 819.6 241.4 819.6 243.3 819.7 244.9 819.7 225.9 819.7 237.7 819.8 234.9 819.8 243.7 819.9 254.1 819.9 262.2 820 269.3 820 264.8 820 261.9 820.1 250.1 820.1 242.4 820.2 251.6 820.2 249.8 820.2 238.9 820.3 240.3 820.3 227.0 820.4 220.9 820.4 224.6 820.5 240.8 820.5 240.0 820.5 250.7 820.6 250.1 820.6 251.2 820.7 264.6 820.7 262.3 820.7 262.9 820.8 253.1 820.8 251.6 820.9 252.5 820.9 240.3 820.9 247.6 821 247.6 821 250.8 821.1 242.4 821.1 238.5 821.2 228.8 821.2 241.3 821.2 248.4 821.3 247.5 821.3 255.5 821.4 248.1 821.4 244.2 821.4 242.4 821.5 252.9 821.5 259.5 821.6 251.2 821.6 250.1 821.7 245.1 821.8 241.5 821.9 248.9 821.9 246.6 822 242.0 822.1 250.0 822.2 247.1 822.3 252.0 822.3 246.8 822.4 234.7 822.5 242.8 822.6 243.4 822.7 264.1 822.7 250.0 822.8 254.7 822.9 247.3 823 253.1 823.1 269.5 823.2 273.6 823.2 267.6 823.3 246.8 823.4 262.0 823.5 246.2 823.6 240.4 823.6 248.2 823.7 252.3 823.8 250.6 823.9 242.1 824 251.2 824 246.9 824.1 256.1 824.2 266.0 824.3 264.6 824.4 261.6 824.4 254.8 824.5 255.6 824.6 250.6 824.7 248.3 824.8 251.3 824.8 249.7 824.9 244.0 825 245.9 825.1 252.9 825.2 254.8 825.2 260.4 825.3 255.4 825.4 243.6 825.5 250.6 825.6 256.4 825.6 266.7 825.7 258.8 825.8 254.0 825.9 242.5 826 234.6 826 248.9 826.1 252.5 826.2 263.8 826.3 253.0 826.4 231.5 826.4 252.1 826.5 253.5 826.6 265.0 826.7 264.0 826.7 259.8 826.8 251.9 826.9 263.6 827 253.4 827.1 257.1 827.1 253.3 827.2 257.2 827.3 258.7 827.4 254.4 827.5 249.8 827.5 266.1 827.6 267.0 827.7 249.9 827.8 259.2 827.8 270.7 827.9 271.9 828 266.3 828.1 260.3 828.2 254.9 828.2 265.6 828.3 259.3 828.4 258.7 828.5 260.7 828.5 235.2 828.6 230.7 828.7 254.4 828.8 259.4 828.9 258.7 828.9 268.3 829 257.5 829.1 266.3 829.2 260.7 829.2 240.2 829.3 248.6 829.4 250.6 829.5 253.5 829.6 249.3 829.6 265.8 829.7 265.7 829.8 252.9 829.9 260.4 829.9 252.6 830 255.9 830.1 257.1 830.2 264.9 830.2 274.9 830.3 255.8 830.4 245.2 830.5 244.7 830.5 264.5 830.6 274.1 830.7 268.7 830.8 268.0 830.9 267.8 830.9 261.4 831 254.7 831.1 267.1 831.2 268.8 831.2 260.1 831.3 265.2 831.4 265.0 831.5 270.8 831.5 262.0 831.6 255.2 831.7 269.1 831.8 269.0 831.8 266.9 831.9 241.9 832 246.4 832.1 267.7 832.1 256.5 832.2 270.6 832.3 264.3 832.4 268.0 832.4 269.9 832.5 275.5 832.6 268.7 832.7 283.2 832.7 283.0 832.8 263.6 832.9 252.1 833 272.1 833 273.6 833.1 271.9 833.2 258.0 833.3 262.2 833.3 263.4 833.4 250.1 833.5 249.3 833.6 259.2 833.6 256.9 833.7 273.6 833.8 280.0 833.9 279.8 833.9 267.7 834 252.6 834.1 267.3 834.2 258.6 834.2 271.4 834.3 267.9 834.4 262.6 834.5 251.3 834.5 276.6 834.6 275.1 834.7 262.4 834.8 261.0 834.8 276.3 834.9 280.1 835 277.7 835 267.2 835.1 268.7 835.2 265.0 835.3 265.2 835.3 269.9 835.4 274.8 835.5 275.8 835.6 276.2 835.6 261.4 835.7 270.2 835.8 283.3 835.9 277.1 835.9 262.6 836 261.5 836.1 256.2 836.1 255.5 836.2 251.8 836.3 265.8 836.4 274.4 836.4 269.6 836.5 269.6 836.6 283.3 836.7 277.5 836.7 275.6 836.8 274.1 836.9 265.1 836.9 273.1 837 269.4 837.1 277.4 837.2 278.1 837.2 273.1 837.3 278.3 837.4 279.2 837.5 286.5 837.5 285.5 837.6 273.0 837.7 285.1 837.7 273.9 837.8 276.3 837.9 279.0 838 271.7 838 267.5 838.1 272.8 838.2 285.8 838.2 267.5 838.3 277.0 838.4 271.9 838.5 276.3 838.5 280.3 838.6 277.7 838.7 277.4 838.7 258.1 838.8 261.8 838.9 275.2 839 270.1 839 268.5 839.1 267.8 839.2 273.3 839.2 284.1 839.3 282.4 839.4 269.1 839.5 272.6 839.5 268.2 839.6 268.0 839.7 277.1 839.7 264.3 839.8 257.8 839.9 260.8 840 261.1 840 266.0 840.1 271.0 840.2 279.6 840.2 291.9 840.3 266.2 840.4 272.7 840.4 286.8 840.5 277.2 840.6 276.1 840.7 267.1 840.7 279.8 840.8 281.8 840.9 289.5 840.9 279.5 841 276.0 841.1 278.9 841.1 281.3 841.2 274.0 841.3 275.5 841.4 280.5 841.4 285.3 841.5 280.2 841.6 274.0 841.6 273.9 841.7 268.1 841.8 278.7 841.8 284.2 841.9 279.3 842 273.7 842.1 271.7 842.1 277.1 842.2 272.4 842.3 280.2 842.3 266.6 842.4 268.0 842.5 266.3 842.5 278.5 842.6 279.0 842.7 271.5 842.7 292.0 842.8 290.9 842.9 282.2 843 266.3 843 271.8 843.1 289.3 843.2 283.9 843.2 278.5 843.3 279.1 843.4 284.3 843.4 284.3 843.5 280.2 843.6 298.5 843.6 299.4 843.7 291.2 843.8 267.7 843.8 279.2 843.9 282.1 844 276.3 844.1 285.5 844.1 273.3 844.2 288.3 844.3 292.8 844.3 282.1 844.4 278.3 844.5 281.9 844.5 280.7 844.6 295.4 844.7 292.9 844.7 289.7 844.8 289.3 844.9 286.7 844.9 298.0 845 305.9 845.1 300.0 845.1 292.3 845.2 285.0 845.3 292.8 845.3 293.5 845.4 289.8 845.5 290.6 845.6 291.8 845.6 278.8 845.7 275.2 845.8 262.8 845.8 267.8 845.9 280.5 846 281.2 846 275.7 846.1 274.2 846.2 280.8 846.2 278.0 846.3 287.4 846.4 287.9 846.4 300.7 846.5 297.4 846.6 284.5 846.6 282.9 846.7 283.4 846.8 285.2 846.8 308.0 846.9 298.0 847 296.7 847 297.4 847.1 286.0 847.2 280.9 847.2 291.9 847.3 297.0 847.4 297.8 847.4 291.7 847.5 278.3 847.6 271.6 847.6 274.4 847.7 285.9 847.8 306.9 847.8 287.9 847.9 287.9 848 293.3 848 284.6 848.1 282.9 848.2 286.4 848.2 294.6 848.3 300.7 848.4 312.0 848.4 301.4 848.5 309.8 848.6 303.5 848.6 293.0 848.7 293.0 848.8 291.9 848.8 286.6 848.9 299.0 848.9 303.2 849 298.1 849.1 302.9 849.1 282.5 849.2 283.6 849.3 293.5 849.3 302.9 849.4 305.9 849.5 297.3 849.5 308.7 849.6 295.5 849.7 289.2 849.7 297.6 849.8 290.5 849.9 292.7 849.9 288.7 850 287.7 850.1 281.9 850.1 289.2 850.2 292.8 850.3 279.5 850.3 294.1 850.4 307.0 850.5 301.8 850.5 287.0 850.6 291.9 850.6 284.0 850.7 301.2 850.8 296.1 850.8 301.8 850.9 309.9 851 306.8 851 297.0 851.1 294.8 851.2 291.5 851.2 289.5 851.3 281.8 851.4 298.2 851.4 294.1 851.5 294.2 851.6 304.0 851.6 296.0 851.7 293.7 851.7 288.3 851.8 290.5 851.9 291.0 851.9 289.8 852 282.5 852.1 298.2 852.1 292.0 852.2 292.5 852.3 318.0 852.3 301.3 852.4 282.1 852.4 281.4 852.5 281.8 852.6 301.8 852.6 287.9 852.7 297.0 852.8 303.1 852.8 299.8 852.9 300.7 853 303.8 853 297.4 853.1 282.8 853.1 299.3 853.2 306.5 853.3 288.0 853.3 283.2 853.4 293.4 853.5 290.1 853.5 296.5 853.6 311.5 853.7 301.6 853.7 291.9 853.8 299.2 853.8 303.8 853.9 301.0 854 301.9 854 310.5 854.1 283.7 854.2 280.8 854.2 288.8 854.3 300.6 854.4 312.2 854.4 290.8 854.5 305.4 854.5 293.8 854.6 299.7 854.7 277.9 854.7 287.2 854.8 304.0 854.9 307.8 854.9 300.4 855 301.1 855 295.0 855.1 294.6 855.2 302.4 855.2 304.6 855.3 298.0 855.4 304.3 855.4 313.0 855.5 311.4 855.5 303.6 855.6 318.9 855.7 320.4 855.7 305.8 855.8 300.6 855.9 303.5 855.9 298.1 856 313.4 856 319.9 856.1 308.5 856.2 291.6 856.2 305.1 856.3 301.7 856.3 322.3 856.4 309.8 856.5 299.2 856.5 315.3 856.6 316.6 856.7 315.3 856.7 303.1 856.8 288.3 856.8 303.8 856.9 303.6 857 323.6 857 318.2 857.1 308.6 857.2 303.5 857.2 310.5 857.3 311.1 857.3 307.3 857.4 307.3 857.5 311.0 857.5 304.9 857.6 318.0 857.6 318.2 857.7 320.5 857.8 308.9 857.8 300.6 857.9 297.2 857.9 307.2 858 296.0 858.1 288.5 858.1 303.3 858.2 317.2 858.3 308.1 858.3 304.8 858.4 305.2 858.4 297.2 858.5 298.9 858.6 301.6 858.6 306.7 858.7 296.9 858.7 300.4 858.8 315.5 858.9 315.9 858.9 302.8 859 303.9 859 313.4 859.1 321.5 859.2 327.9 859.2 315.9 859.3 316.3 859.3 314.7 859.4 306.3 859.5 298.6 859.5 295.9 859.6 307.5 859.6 304.1 859.7 306.6 859.8 310.2 859.8 308.9 859.9 309.3 859.9 301.7 860 297.7 860.1 304.6 860.1 314.5 860.2 322.2 860.2 331.5 860.3 322.6 860.4 303.4 860.4 310.5 860.5 327.1 860.5 315.9 860.6 296.3 860.7 294.7 860.7 318.1 860.8 308.0 860.8 310.0 860.9 317.3 861 303.6 861 308.9 861.1 316.2 861.1 317.7 861.2 324.1 861.3 327.8 861.3 320.0 861.4 328.1 861.4 327.8 861.5 315.9 861.6 310.4 861.6 311.3 861.7 312.2 861.7 311.9 861.8 314.6 861.9 320.4 861.9 334.4 862 318.9 862 314.4 862.1 303.6 862.2 326.3 862.2 319.8 862.3 304.5 862.3 310.7 862.4 323.6 862.4 321.0 862.5 310.8 862.6 334.0 862.6 324.5 862.7 327.7 862.7 307.7 862.8 306.5 862.9 311.6 862.9 316.0 863 336.3 863 329.4 863.1 325.6 863.2 324.5 863.2 326.9 863.3 322.4 863.3 324.4 863.4 314.7 863.4 324.9 863.5 324.2 863.6 314.7 863.6 333.5 863.7 331.6 863.7 326.5 863.8 308.5 863.9 319.0 863.9 332.0 864 327.7 864 331.8 864.1 328.4 864.1 325.5 864.2 333.5 864.3 342.4 864.3 321.4 864.4 315.9 864.4 319.1 864.5 325.1 864.5 323.3 864.6 312.1 864.7 321.8 864.7 329.7 864.8 330.5 864.8 324.5 864.9 334.8 865 321.6 865 314.5 865.1 317.2 865.1 314.9 865.2 316.7 865.2 317.9 865.3 312.4 865.4 321.8 865.4 308.6 865.5 312.2 865.5 324.1 865.6 317.7 865.6 315.0 865.7 320.1 865.8 331.2 865.8 317.7 865.9 307.2 865.9 329.3 866 327.6 866 320.6 866.1 313.9 866.2 322.9 866.2 316.1 866.3 316.6 866.3 321.0 866.4 323.1 866.4 322.3 866.5 326.3 866.6 311.2 866.6 330.3 866.7 325.6 866.7 332.2 866.8 331.9 866.8 314.5 866.9 314.3 867 345.3 867 344.6 867.1 337.9 867.1 336.7 867.2 331.9 867.2 332.4 867.3 333.0 867.4 327.9 867.4 334.5 867.5 325.5 867.5 310.2 867.6 303.7 867.6 312.4 867.7 310.4 867.8 312.7 867.8 320.8 867.9 330.6 867.9 327.4 868 317.6 868 325.7 868.1 332.6 868.1 336.5 868.2 321.8 868.3 325.2 868.3 329.0 868.4 329.8 868.4 330.6 868.5 335.8 868.5 325.9 868.6 327.4 868.7 339.3 868.7 341.5 868.8 335.1 868.8 329.3 868.9 325.4 868.9 333.3 869 330.3 869 318.2 869.1 315.3 869.2 324.2 869.2 325.3 869.3 320.7 869.3 322.3 869.4 337.7 869.4 335.7 869.5 322.0 869.5 316.0 869.6 339.4 869.7 339.6 869.7 337.0 869.8 332.3 869.8 328.2 869.9 341.4 869.9 335.6 870 324.6 870 327.0 870.1 329.6 870.2 344.2 870.2 335.7 870.3 335.4 870.3 335.7 870.4 333.0 870.4 338.5 870.5 333.4 870.5 335.3 870.6 333.6 870.7 334.0 870.7 318.3 870.8 311.4 870.8 335.3 870.9 326.0 870.9 337.3 871 339.1 871 343.4 871.1 329.6 871.1 332.6 871.2 333.1 871.3 343.4 871.3 349.5 871.4 342.4 871.4 334.8 871.5 320.1 871.5 330.3 871.6 330.0 871.6 324.6 871.7 322.9 871.7 334.5 871.8 343.0 871.9 341.2 871.9 328.5 872 338.0 872 331.2 872.1 336.0 872.1 351.0 872.2 341.9 872.2 334.1 872.3 348.5 872.3 336.5 872.4 334.6 872.5 336.9 872.5 322.0 872.6 327.4 872.6 353.3 872.7 365.6 872.7 346.5 872.8 349.1 872.8 352.4 872.9 343.5 872.9 347.3 873 333.4 873.1 339.1 873.1 336.7 873.2 328.7 873.2 328.0 873.3 341.4 873.3 342.5 873.4 331.3 873.4 335.6 873.5 340.7 873.5 336.5 873.6 351.3 873.6 346.6 873.7 358.1 873.8 342.6 873.8 362.6 873.9 360.8 873.9 355.2 874 352.7 874 336.8 874.1 330.7 874.1 338.5 874.2 330.0 874.2 328.3 874.3 345.7 874.3 348.7 874.4 348.5 874.5 345.9 874.5 329.0 874.6 326.2 874.6 338.9 874.7 341.4 874.7 341.3 874.8 335.5 874.8 337.5 874.9 344.9 874.9 347.0 875 330.3 875 330.4 875.1 338.6 875.1 335.9 875.2 349.2 875.2 344.4 875.3 355.7 875.4 354.3 875.4 341.9 875.5 341.4 875.5 349.0 875.6 344.5 875.6 337.4 875.7 330.6 875.7 328.6 875.8 329.7 875.8 346.2 875.9 349.2 875.9 360.6 876 349.8 876 343.8 876.1 341.5 876.1 327.5 876.2 333.9 876.3 348.0 876.3 342.7 876.4 343.0 876.4 356.6 876.5 347.2 876.5 334.9 876.6 353.8 876.6 346.4 876.7 350.2 876.7 364.3 876.8 354.1 876.8 345.4 876.9 368.9 876.9 352.3 877 356.4 877 349.3 877.1 346.4 877.1 359.3 877.2 357.5 877.3 351.7 877.3 343.2 877.4 350.1 877.4 351.8 877.5 345.9 877.5 342.4 877.6 345.6 877.6 345.0 877.7 341.1 877.7 342.0 877.8 347.4 877.8 349.7 877.9 345.2 877.9 341.3 878 335.9 878 355.5 878.1 363.1 878.1 344.8 878.2 335.8 878.2 347.1 878.3 351.4 878.3 355.0 878.4 349.6 878.4 351.8 878.5 340.0 878.5 341.6 878.6 367.7 878.7 353.1 878.7 337.3 878.8 346.2 878.8 345.6 878.9 348.1 878.9 359.4 879 345.9 879 345.1 879.1 349.9 879.1 348.5 879.2 362.0 879.2 355.0 879.3 357.6 879.3 357.6 879.4 342.1 879.4 343.6 879.5 347.8 879.5 353.0 879.6 359.0 879.6 364.4 879.7 364.7 879.7 364.5 879.8 352.2 879.8 353.0 879.9 353.1 879.9 352.6 880 342.6 880 353.7 880.1 361.8 880.1 357.5 880.2 338.2 880.2 357.5 880.3 366.4 880.3 349.4 880.4 336.5 880.4 350.4 880.5 358.6 880.5 360.2 880.6 361.1 880.7 354.6 880.7 354.5 880.8 360.2 880.8 367.7 880.9 362.4 880.9 384.8 881 372.9 881 363.1 881.1 371.3 881.1 354.9 881.2 359.5 881.2 367.2 881.3 359.7 881.3 358.0 881.4 365.2 881.4 368.6 881.5 357.8 881.5 377.2 881.6 371.4 881.6 351.6 881.7 358.2 881.7 366.6 881.8 356.2 881.8 365.2 881.9 354.2 881.9 365.2 882 351.8 882 369.2 882.1 356.7 882.1 350.8 882.2 360.5 882.2 365.1 882.3 344.1 882.3 347.9 882.4 365.9 882.4 357.7 882.5 358.4 882.5 362.4 882.6 374.1 882.6 355.0 882.7 351.2 882.7 358.0 882.8 371.7 882.8 354.2 882.9 367.7 882.9 369.0 883 366.8 883 344.7 883.1 341.3 883.1 356.7 883.2 353.7 883.2 346.0 883.3 356.4 883.3 376.2 883.4 377.7 883.4 366.4 883.5 361.6 883.5 367.9 883.6 360.3 883.6 371.0 883.7 365.9 883.7 380.5 883.8 374.0 883.8 361.9 883.9 370.2 883.9 365.2 884 367.6 884 358.2 884.1 360.5 884.1 378.9 884.2 380.3 884.2 372.6 884.3 357.9 884.3 354.8 884.4 364.6 884.4 369.0 884.5 371.1 884.5 355.2 884.6 358.4 884.6 368.5 884.7 362.7 884.7 361.4 884.7 354.8 884.8 355.0 884.8 346.2 884.9 360.8 884.9 369.4 885 367.5 885 370.0 885.1 366.0 885.1 370.8 885.2 374.2 885.2 382.9 885.3 381.7 885.3 368.0 885.4 354.5 885.4 366.6 885.5 371.1 885.5 369.3 885.6 362.6 885.6 357.7 885.7 369.8 885.7 353.5 885.8 367.7 885.8 373.6 885.9 355.5 885.9 356.0 886 353.8 886 364.6 886.1 374.2 886.1 377.7 886.2 370.9 886.2 365.8 886.3 368.5 886.3 373.8 886.4 373.6 886.4 377.7 886.5 356.7 886.5 365.3 886.6 367.0 886.6 354.0 886.7 357.7 886.7 360.7 886.7 360.4 886.8 369.4 886.8 370.0 886.9 359.4 886.9 372.9 887 358.5 887 361.6 887.1 385.5 887.1 388.2 887.2 380.9 887.2 369.2 887.3 371.0 887.3 378.5 887.4 374.6 887.4 373.4 887.5 380.7 887.5 387.8 887.6 368.5 887.6 372.7 887.7 362.8 887.7 371.2 887.8 367.8 887.8 365.0 887.9 373.1 887.9 368.4 888 366.2 888 372.2 888 379.5 888.1 376.4 888.1 373.3 888.2 374.3 888.2 373.7 888.3 372.4 888.3 377.3 888.4 390.6 888.4 381.8 888.5 379.2 888.5 390.0 888.6 385.4 888.6 370.2 888.7 369.8 888.7 376.4 888.8 372.0 888.8 366.8 888.9 391.4 888.9 390.3 889 390.2 889 392.5 889 378.4 889.1 389.8 889.1 402.0 889.2 379.0 889.2 362.6 889.3 371.0 889.3 375.3 889.4 367.1 889.4 376.9 889.5 385.8 889.5 387.5 889.6 392.6 889.6 374.2 889.7 376.1 889.7 384.8 889.8 377.3 889.8 386.3 889.9 390.3 889.9 379.4 889.9 386.8 890 386.4 890 377.5 890.1 381.4 890.1 379.5 890.2 374.2 890.2 377.2 890.3 370.5 890.3 375.8 890.4 388.7 890.4 384.2 890.5 379.9 890.5 381.5 890.6 370.5 890.6 373.8 890.7 376.6 890.7 381.2 890.7 392.4 890.8 391.2 890.8 395.4 890.9 381.1 890.9 378.0 891 392.8 891 391.7 891.1 377.0 891.1 375.1 891.2 385.4 891.2 366.9 891.3 380.1 891.3 395.1 891.4 383.7 891.4 386.3 891.4 381.7 891.5 375.6 891.5 386.3 891.6 389.3 891.6 383.1 891.7 366.7 891.7 376.1 891.8 388.8 891.8 372.1 891.9 380.3 891.9 389.4 892 393.3 892 386.0 892 379.7 892.1 386.3 892.1 370.0 892.2 378.7 892.2 368.5 892.3 373.3 892.3 384.3 892.4 378.8 892.4 377.3 892.5 386.3 892.5 378.7 892.6 370.4 892.6 384.3 892.6 389.8 892.7 396.0 892.7 398.1 892.8 386.0 892.8 387.5 892.9 375.2 892.9 373.9 893 378.8 893 393.8 893.1 385.6 893.1 378.8 893.2 370.0 893.2 384.4 893.2 380.3 893.3 371.4 893.3 373.1 893.4 385.1 893.4 396.5 893.5 396.9 893.5 385.0 893.6 382.4 893.6 386.0 893.7 369.6 893.7 375.0 893.8 387.5 893.8 389.9 893.8 390.8 893.9 384.9 893.9 380.5 894 378.6 894 396.2 894.1 383.2 894.1 374.6 894.2 388.0 894.2 403.4 894.3 403.2 894.3 398.9 894.3 399.2 894.4 406.2 894.4 395.1 894.5 403.7 894.5 401.2 894.6 395.5 894.6 389.0 894.7 399.6 894.7 390.2 894.8 393.5 894.8 382.8 894.8 393.4 894.9 390.3 894.9 384.5 895 377.4 895 384.5 895.1 380.6 895.1 400.1 895.2 395.9 895.2 386.7 895.2 392.0 895.3 396.4 895.3 394.8 895.4 385.0 895.4 403.8 895.5 396.4 895.5 389.3 895.6 389.0 895.6 400.3 895.7 401.7 895.7 403.4 895.7 391.8 895.8 404.9 895.8 415.0 895.9 409.1 895.9 406.0 896 406.0 896 396.1 896.1 384.2 896.1 383.4 896.1 383.9 896.2 392.0 896.2 386.1 896.3 385.2 896.3 387.3 896.4 383.1 896.4 392.2 896.5 387.7 896.5 384.7 896.6 391.3 896.6 409.0 896.6 411.8 896.7 396.0 896.7 401.8 896.8 404.7 896.8 394.2 896.9 410.6 896.9 409.0 897 405.3 897 397.7 897 420.5 897.1 416.1 897.1 399.1 897.2 395.6 897.2 399.2 897.3 395.9 897.3 405.2 897.4 401.8 897.4 392.3 897.4 395.2 897.5 405.5 897.5 400.9 897.6 400.2 897.6 395.6 897.7 404.5 897.7 379.7 897.8 398.3 897.8 402.3 897.8 400.4 897.9 408.4 897.9 388.2 898 387.1 898 405.2 898.1 409.3 898.1 414.6 898.1 398.0 898.2 396.4 898.2 410.5 898.3 405.0 898.3 407.1 898.4 398.9 898.4 412.7 898.5 396.4 898.5 387.4 898.5 376.5 898.6 386.9 898.6 402.8 898.7 391.8 898.7 393.1 898.8 391.4 898.8 391.8 898.9 396.3 898.9 402.3 898.9 406.1 899 406.3 899 412.5 899.1 404.5 899.1 405.8 899.2 389.6 899.2 395.9 899.2 396.4 899.3 398.7 899.3 398.0 899.4 395.7 899.4 402.3 899.5 405.1 899.5 412.4 899.6 409.9 899.6 406.0 899.6 409.3 899.7 398.6 899.7 395.2 899.8 403.6 899.8 401.3 899.9 408.1 899.9 404.5 899.9 410.8 900 417.1 900 401.8 900.1 411.3 900.1 423.9 900.2 406.3 900.2 408.0 900.2 408.6 900.3 400.0 900.3 394.5 900.4 396.8 900.4 403.6 900.5 408.6 900.5 398.3 900.6 410.2 900.6 405.2 900.6 398.6 900.7 409.4 900.7 433.4 900.8 412.4 900.8 413.3 900.9 401.2 900.9 412.0 900.9 414.2 901 393.0 901 411.9 901.1 418.4 901.1 408.9 901.2 394.7 901.2 397.8 901.2 404.2 901.3 413.7 901.3 413.8 901.4 403.9 901.4 422.0 901.5 403.7 901.5 403.7 901.5 411.5 901.6 414.4 901.6 415.8 901.7 418.9 901.7 413.5 901.8 409.9 901.8 399.1 901.8 404.3 901.9 410.3 901.9 420.5 902 410.7 902 413.8 902.1 408.4 902.1 419.7 902.1 415.6 902.2 410.8 902.2 431.8 902.3 424.7 902.3 421.3 902.4 417.3 902.4 406.5 902.4 416.4 902.5 412.5 902.5 408.4 902.6 410.5 902.6 398.7 902.7 410.5 902.7 409.8 902.7 419.6 902.8 419.0 902.8 424.1 902.9 422.4 902.9 405.6 902.9 399.9 903 410.7 903 411.6 903.1 415.5 903.1 402.8 903.2 414.9 903.2 424.3 903.2 430.2 903.3 414.6 903.3 404.5 903.4 397.2 903.4 413.1 903.5 405.7 903.5 420.5 903.5 409.7 903.6 405.2 903.6 418.5 903.7 407.1 903.7 415.6 903.8 410.6 903.8 409.1 903.8 406.9 903.9 407.3 903.9 419.6 904 416.0 904 419.1 904 416.1 904.1 409.6 904.1 417.4 904.2 418.0 904.2 415.7 904.3 427.1 904.3 426.1 904.3 436.9 904.4 419.8 904.4 419.2 904.5 426.7 904.5 417.7 904.5 415.7 904.6 420.9 904.6 418.0 904.7 400.9 904.7 416.7 904.8 432.2 904.8 426.8 904.8 430.5 904.9 421.6 904.9 406.7 905 414.5 905 424.6 905 429.6 905.1 406.7 905.1 408.3 905.2 420.3 905.2 422.5 905.3 427.5 905.3 421.7 905.3 421.5 905.4 431.2 905.4 427.7 905.5 418.5 905.5 434.7 905.5 439.8 905.6 425.7 905.6 423.3 905.7 442.6 905.7 428.8 905.8 432.5 905.8 427.8 905.8 424.2 905.9 403.0 905.9 406.6 906 412.4 906 418.7 906 416.6 906.1 413.5 906.1 415.8 906.2 432.5 906.2 446.1 906.3 437.8 906.3 443.5 906.3 427.5 906.4 430.4 906.4 421.7 906.5 427.3 906.5 431.0 906.5 419.4 906.6 437.2 906.6 440.9 906.7 425.1 906.7 422.0 906.7 433.6 906.8 424.8 906.8 417.0 906.9 423.4 906.9 413.7 907 412.0 907 434.1 907 437.0 907.1 424.1 907.1 420.4 907.2 432.6 907.2 424.8 907.2 424.1 907.3 426.5 907.3 432.2 907.4 438.5 907.4 442.5 907.4 441.5 907.5 441.5 907.5 438.9 907.6 422.7 907.6 437.5 907.6 427.0 907.7 428.8 907.7 433.9 907.8 412.7 907.8 437.6 907.9 431.5 907.9 432.5 907.9 423.1 908 426.4 908 413.7 908.1 422.3 908.1 411.1 908.1 423.2 908.2 436.6 908.2 433.7 908.3 430.4 908.3 428.3 908.3 432.9 908.4 423.8 908.4 420.6 908.5 432.2 908.5 425.6 908.5 427.5 908.6 429.0 908.6 410.9 908.7 422.3 908.7 428.7 908.7 438.1 908.8 437.9 908.8 419.8 908.9 428.6 908.9 417.6 908.9 436.0 909 438.0 909 432.2 909.1 431.1 909.1 434.4 909.1 426.5 909.2 428.1 909.2 421.2 909.3 424.4 909.3 425.7 909.4 430.6 909.4 434.2 909.4 432.2 909.5 428.3 909.5 428.9 909.6 437.1 909.6 431.6 909.6 422.3 909.7 439.0 909.7 441.6 909.8 444.4 909.8 441.5 909.8 443.0 909.9 440.6 909.9 431.8 910 428.4 910 421.4 910 425.2 910.1 444.2 910.1 441.5 910.2 445.8 910.2 440.2 910.2 443.8 910.3 440.8 910.3 447.2 910.4 443.5 910.4 451.4 910.4 444.6 910.5 438.2 910.5 431.6 910.6 416.8 910.6 417.7 910.6 427.9 910.7 439.3 910.7 447.9 910.8 438.9 910.8 430.4 910.8 438.4 910.9 442.1 910.9 436.9 910.9 447.7 911 455.2 911 436.9 911.1 436.6 911.1 419.8 911.1 426.2 911.2 438.6 911.2 432.1 911.3 426.3 911.3 441.3 911.3 431.9 911.4 426.8 911.4 434.8 911.5 447.8 911.5 447.1 911.5 443.4 911.6 449.0 911.6 447.9 911.7 444.3 911.7 442.7 911.7 429.8 911.8 431.5 911.8 432.0 911.9 445.4 911.9 436.3 911.9 440.3 912 435.8 912 436.4 912.1 447.5 912.1 465.0 912.1 441.2 912.2 439.5 912.2 436.8 912.3 449.2 912.3 444.9 912.3 457.7 912.4 450.1 912.4 450.7 912.5 440.7 912.5 440.4 912.5 435.5 912.6 432.2 912.6 437.2 912.6 448.1 912.7 453.2 912.7 456.4 912.8 453.4 912.8 447.8 912.8 454.4 912.9 448.2 912.9 448.6 913 445.2 913 448.7 913 460.8 913.1 458.5 913.1 453.0 913.2 443.5 913.2 447.6 913.2 446.2 913.3 452.9 913.3 451.3 913.3 446.6 913.4 442.4 913.4 437.5 913.5 442.0 913.5 437.6 913.5 443.6 913.6 433.2 913.6 434.5 913.7 430.6 913.7 442.4 913.7 451.8 913.8 455.4 913.8 462.2 913.9 451.6 913.9 443.0 913.9 436.1 914 450.1 914 442.7 914 441.3 914.1 440.5 914.1 440.2 914.2 450.8 914.2 448.6 914.2 458.8 914.3 447.6 914.3 456.5 914.4 456.9 914.4 443.0 914.4 453.2 914.5 458.9 914.5 450.4 914.6 457.0 914.6 458.8 914.6 467.1 914.7 473.8 914.7 457.2 914.7 445.6 914.8 442.6 914.8 450.9 914.9 453.0 914.9 451.7 914.9 453.6 915 450.5 915 439.4 915.1 438.8 915.1 433.4 915.1 446.9 915.2 446.1 915.2 451.2 915.2 447.8 915.3 447.1 915.3 444.1 915.4 443.2 915.4 450.3 915.4 477.5 915.5 463.5 915.5 456.4 915.6 447.7 915.6 449.9 915.6 435.9 915.7 442.0 915.7 433.2 915.7 446.2 915.8 446.9 915.8 438.4 915.9 444.8 915.9 447.6 915.9 452.8 916 450.8 916 456.5 916 459.1 916.1 457.8 916.1 440.4 916.2 452.8 916.2 459.3 916.2 465.1 916.3 457.1 916.3 454.7 916.4 452.6 916.4 464.3 916.4 457.1 916.5 448.4 916.5 454.6 916.5 458.7 916.6 451.2 916.6 456.4 916.7 450.9 916.7 453.6 916.7 452.7 916.8 452.8 916.8 463.8 916.8 465.7 916.9 463.5 916.9 452.2 917 446.5 917 450.9 917 458.7 917.1 458.3 917.1 458.4 917.1 450.3 917.2 437.0 917.2 442.3 917.3 447.9 917.3 463.4 917.3 445.6 917.4 443.7 917.4 457.1 917.5 475.7 917.5 465.1 917.5 461.5 917.6 459.4 917.6 459.8 917.6 467.8 917.7 469.5 917.7 462.8 917.8 450.5 917.8 452.9 917.8 456.7 917.9 462.5 917.9 464.7 917.9 457.8 918 454.7 918 451.3 918.1 464.1 918.1 481.0 918.1 475.7 918.2 459.7 918.2 470.1 918.2 465.6 918.3 456.9 918.3 461.1 918.4 458.6 918.4 444.6 918.4 456.5 918.5 465.0 918.5 461.1 918.5 459.0 918.6 466.2 918.6 469.4 918.7 474.3 918.7 464.5 918.7 471.7 918.8 463.4 918.8 457.1 918.8 471.1 918.9 469.7 918.9 463.7 918.9 458.2 919 469.5 919 478.4 919.1 471.3 919.1 468.5 919.1 454.7 919.2 469.0 919.2 462.6 919.2 473.3 919.3 467.5 919.3 453.8 919.4 456.8 919.4 459.0 919.4 458.5 919.5 470.6 919.5 478.5 919.5 458.1 919.6 456.7 919.6 452.7 919.7 454.4 919.7 480.9 919.7 475.9 919.8 461.4 919.8 461.4 919.8 470.0 919.9 463.9 919.9 466.3 919.9 470.6 920 471.2 920 469.6 920.1 462.2 920.1 463.2 920.1 473.7 920.2 457.3 920.2 450.0 920.2 458.6 920.3 470.6 920.3 455.6 920.4 466.0 920.4 461.2 920.4 446.7 920.5 457.4 920.5 454.3 920.5 470.8 920.6 477.4 920.6 481.8 920.6 470.1 920.7 473.1 920.7 465.7 920.8 470.1 920.8 466.0 920.8 455.2 920.9 470.0 920.9 473.0 920.9 493.0 921 477.2 921 475.2 921.1 471.6 921.1 461.1 921.1 435.5 921.2 447.1 921.2 451.3 921.2 462.2 921.3 454.2 921.3 463.0 921.3 477.4 921.4 468.7 921.4 477.3 921.5 473.2 921.5 476.6 921.5 474.3 921.6 475.0 921.6 472.3 921.6 467.6 921.7 474.3 921.7 479.1 921.7 480.7 921.8 463.5 921.8 457.2 921.9 473.5 921.9 469.9 921.9 469.3 922 469.1 922 463.6 922 463.3 922.1 470.6 922.1 482.4 922.1 482.6 922.2 474.8 922.2 469.8 922.3 464.9 922.3 467.8 922.3 480.9 922.4 481.8 922.4 482.6 922.4 467.2 922.5 467.2 922.5 479.6 922.5 477.3 922.6 484.6 922.6 490.2 922.7 470.3 922.7 482.4 922.7 483.1 922.8 484.0 922.8 469.5 922.8 468.0 922.9 478.4 922.9 465.9 922.9 483.4 923 490.6 923 476.8 923 481.3 923.1 475.5 923.1 471.9 923.2 476.8 923.2 460.6 923.2 469.5 923.3 475.4 923.3 466.8 923.3 472.6 923.4 489.7 923.4 486.4 923.4 470.8 923.5 463.2 923.5 479.1 923.6 460.2 923.6 475.3 923.6 491.8 923.7 492.2 923.7 468.6 923.7 479.5 923.8 482.0 923.8 489.9 923.8 492.1 923.9 492.7 923.9 484.8 923.9 476.0 924 473.2 924 473.3 924.1 481.3 924.1 485.3 924.1 476.2 924.2 471.9 924.2 475.1 924.2 482.2 924.3 478.9 924.3 490.2 924.3 484.3 924.4 476.5 924.4 494.7 924.4 494.0 924.5 493.6 924.5 479.4 924.6 473.2 924.6 470.0 924.6 478.5 924.7 474.5 924.7 484.5 924.7 479.8 924.8 477.9 924.8 475.6 924.8 485.8 924.9 473.3 924.9 470.6 924.9 471.5 925 465.5 925 483.9 925.1 491.6 925.1 480.0 925.1 484.1 925.2 484.5 925.2 490.0 925.2 481.0 925.3 474.8 925.3 480.1 925.3 496.1 925.4 484.6 925.4 480.4 925.4 481.6 925.5 491.5 925.5 491.6 925.5 482.9 925.6 463.6 925.6 456.1 925.7 482.0 925.7 485.5 925.7 487.4 925.8 486.3 925.8 484.8 925.8 494.8 925.9 506.8 925.9 498.6 925.9 491.3 926 492.2 926 474.0 926 477.3 926.1 483.9 926.1 482.0 926.1 495.0 926.2 494.4 926.2 483.2 926.2 487.2 926.3 502.7 926.3 485.6 926.4 466.6 926.4 484.2 926.4 492.8 926.5 493.8 926.5 482.3 926.5 481.3 926.6 481.8 926.6 482.5 926.6 485.6 926.7 484.0 926.7 483.0 926.7 484.8 926.8 493.7 926.8 479.9 926.8 492.0 926.9 467.3 926.9 487.5 926.9 490.2 927 489.5 927 485.7 927.1 494.9 927.1 487.1 927.1 496.0 927.2 489.6 927.2 487.8 927.2 495.4 927.3 491.9 927.3 483.3 927.3 483.0 927.4 488.5 927.4 506.4 927.4 489.9 927.5 493.4 927.5 498.1 927.5 483.3 927.6 481.0 927.6 496.2 927.6 488.8 927.7 482.0 927.7 482.4 927.7 485.3 927.8 489.4 927.8 484.2 927.9 480.2 927.9 485.5 927.9 483.8 928 478.8 928 485.6 928 482.4 928.1 491.3 928.1 498.7 928.1 478.6 928.2 487.5 928.2 488.2 928.2 487.0 928.3 498.0 928.3 495.0 928.3 499.9 928.4 495.4 928.4 479.7 928.4 502.4 928.5 509.4 928.5 491.2 928.5 491.6 928.6 490.8 928.6 489.0 928.6 493.1 928.7 482.4 928.7 484.0 928.7 495.9 928.8 487.7 928.8 495.8 928.9 485.0 928.9 486.5 928.9 481.6 929 493.5 929 503.1 929 513.4 929.1 493.3 929.1 502.7 929.1 504.1 929.2 500.4 929.2 502.6 929.2 498.1 929.3 500.5 929.3 487.1 929.3 501.5 929.4 503.5 929.4 487.7 929.4 496.7 929.5 476.2 929.5 474.5 929.5 480.9 929.6 486.8 929.6 490.5 929.6 487.2 929.7 495.8 929.7 496.4 929.7 496.7 929.8 504.4 929.8 498.5 929.8 492.1 929.9 505.4 929.9 514.6 929.9 511.5 930 490.4 930 490.6 930 497.2 930.1 497.7 930.1 495.4 930.2 496.7 930.2 506.5 930.2 502.2 930.3 504.7 930.3 502.9 930.3 508.1 930.4 509.3 930.4 510.4 930.4 503.6 930.5 503.2 930.5 494.3 930.5 498.7 930.6 502.9 930.6 507.1 930.6 519.5 930.7 527.4 930.7 511.5 930.7 512.8 930.8 505.9 930.8 507.1 930.8 513.9 930.9 516.8 930.9 483.1 930.9 502.0 931 510.4 931 503.1 931 503.5 931.1 492.0 931.1 498.1 931.1 508.9 931.2 497.2 931.2 502.9 931.2 499.2 931.3 501.6 931.3 507.6 931.3 509.6 931.4 508.7 931.4 501.6 931.4 495.1 931.5 500.0 931.5 515.3 931.5 504.7 931.6 503.2 931.6 504.4 931.6 500.3 931.7 510.8 931.7 508.9 931.7 501.8 931.8 518.1 931.8 508.2 931.8 482.8 931.9 497.1 931.9 497.4 931.9 491.4 932 507.6 932 514.6 932 513.3 932.1 507.2 932.1 508.2 932.1 505.2 932.2 507.3 932.2 513.1 932.2 505.9 932.3 512.2 932.3 511.5 932.3 501.5 932.4 500.6 932.4 502.5 932.4 508.0 932.5 512.2 932.5 520.7 932.5 526.0 932.6 505.7 932.6 495.6 932.6 511.5 932.7 509.1 932.7 506.3 932.7 498.9 932.8 498.7 932.8 505.9 932.8 507.6 932.9 508.9 932.9 503.3 932.9 505.2 933 515.8 933 503.3 933 499.5 933.1 496.0 933.1 508.2 933.1 516.8 933.2 502.6 933.2 496.2 933.2 482.4 933.3 498.1 933.3 504.3 933.3 516.4 933.4 514.8 933.4 526.5 933.4 517.6 933.5 516.2 933.5 520.3 933.5 519.9 933.6 506.4 933.6 500.7 933.6 510.0 933.7 518.4 933.7 520.5 933.7 509.0 933.8 506.9 933.8 522.7 933.8 511.9 933.9 512.5 933.9 519.8 933.9 500.8 934 512.3 934 520.4 934 509.3 934.1 511.3 934.1 516.1 934.1 516.2 934.2 499.5 934.2 503.6 934.2 514.8 934.3 522.9 934.3 507.7 934.3 497.9 934.4 508.0 934.4 517.8 934.4 513.4 934.5 520.2 934.5 507.3 934.5 501.6 934.6 511.9 934.6 521.2 934.6 526.7 934.7 510.1 934.7 524.9 934.7 524.0 934.8 522.5 934.8 520.3 934.8 522.9 934.9 524.3 934.9 523.3 934.9 529.9 935 512.1 935 505.6 935 510.4 935.1 504.8 935.1 505.8 935.1 509.6 935.1 511.6 935.2 509.8 935.2 520.1 935.2 521.1 935.3 526.9 935.3 513.0 935.3 508.9 935.4 520.4 935.4 509.3 935.4 512.6 935.5 534.4 935.5 534.6 935.5 518.4 935.6 509.8 935.6 519.8 935.6 521.9 935.7 518.0 935.7 516.1 935.7 512.9 935.8 512.3 935.8 522.3 935.8 510.6 935.9 501.8 935.9 511.2 935.9 519.4 936 529.4 936 529.6 936 524.5 936.1 519.7 936.1 514.5 936.1 529.6 936.2 534.4 936.2 525.3 936.2 516.6 936.3 515.8 936.3 526.3 936.3 525.3 936.3 516.8 936.4 522.2 936.4 537.8 936.4 525.2 936.5 524.5 936.5 524.4 936.5 530.4 936.6 531.3 936.6 535.7 936.6 529.5 936.7 524.4 936.7 517.5 936.7 520.9 936.8 522.4 936.8 516.6 936.8 526.1 936.9 533.6 936.9 533.1 936.9 524.0 937 519.5 937 520.2 937 513.6 937.1 515.5 937.1 532.9 937.1 525.9 937.2 525.1 937.2 517.1 937.2 511.3 937.3 522.6 937.3 543.3 937.3 531.5 937.3 531.2 937.4 527.7 937.4 521.6 937.4 525.4 937.5 524.9 937.5 520.1 937.5 524.5 937.6 522.2 937.6 524.7 937.6 530.0 937.7 523.7 937.7 537.9 937.7 531.0 937.8 517.9 937.8 515.4 937.8 526.0 937.9 522.0 937.9 546.3 937.9 521.3 938 500.9 938 518.2 938 531.1 938.1 541.7 938.1 535.1 938.1 523.2 938.1 530.9 938.2 526.1 938.2 531.0 938.2 532.0 938.3 525.5 938.3 514.9 938.3 512.4 938.4 530.5 938.4 530.4 938.4 534.1 938.5 521.3 938.5 506.5 938.5 527.7 938.6 532.1 938.6 527.1 938.6 528.5 938.7 527.7 938.7 525.0 938.7 519.3 938.8 520.6 938.8 530.5 938.8 526.1 938.8 529.4 938.9 547.9 938.9 531.7 938.9 520.4 939 526.8 939 530.0 939 532.4 939.1 534.9 939.1 541.6 939.1 538.9 939.2 534.3 939.2 532.2 939.2 531.4 939.3 521.6 939.3 532.7 939.3 544.0 939.4 521.9 939.4 524.0 939.4 533.3 939.4 534.9 939.5 521.7 939.5 536.4 939.5 534.9 939.6 544.5 939.6 544.1 939.6 558.5 939.7 552.8 939.7 544.0 939.7 536.1 939.8 533.6 939.8 532.4 939.8 535.7 939.9 542.7 939.9 534.7 939.9 518.6 939.9 527.9 940 546.3 940 529.4 940 529.6 940.1 522.2 940.1 533.7 940.1 525.8 940.2 541.3 940.2 538.2 940.2 539.8 940.3 544.6 940.3 526.9 940.3 524.7 940.4 550.2 940.4 531.1 940.4 531.1 940.5 534.9 940.5 536.0 940.5 529.4 940.5 540.8 940.6 543.0 940.6 541.0 940.6 518.3 940.7 523.0 940.7 526.9 940.7 529.6 940.8 532.7 940.8 534.2 940.8 533.9 940.9 537.3 940.9 540.9 940.9 531.5 941 540.9 941 552.0 941 538.8 941 532.8 941.1 540.4 941.1 545.5 941.1 539.3 941.2 529.3 941.2 538.2 941.2 527.7 941.3 530.2 941.3 540.6 941.3 548.5 941.4 548.6 941.4 550.3 941.4 555.9 941.4 556.9 941.5 545.1 941.5 541.9 941.5 542.0 941.6 534.5 941.6 542.2 941.6 542.3 941.7 549.0 941.7 539.7 941.7 537.7 941.8 535.6 941.8 545.2 941.8 537.5 941.8 523.2 941.9 547.3 941.9 540.9 941.9 539.3 942 541.4 942 548.0 942 548.7 942.1 560.9 942.1 557.0 942.1 550.6 942.2 557.0 942.2 549.9 942.2 536.6 942.3 534.2 942.3 545.5 942.3 551.3 942.3 565.4 942.4 558.2 942.4 557.0 942.4 549.0 942.5 545.8 942.5 539.6 942.5 551.5 942.6 549.4 942.6 556.6 942.6 566.2 942.7 542.9 942.7 544.3 942.7 545.0 942.7 537.0 942.8 541.8 942.8 529.3 942.8 545.8 942.9 550.0 942.9 530.1 942.9 546.3 943 544.9 943 552.9 943 534.3 943 553.7 943.1 544.4 943.1 544.4 943.1 529.7 943.2 529.3 943.2 541.6 943.2 535.2 943.3 538.8 943.3 554.8 943.3 559.1 943.4 552.8 943.4 539.1 943.4 536.8 943.4 548.3 943.5 544.6 943.5 545.8 943.5 561.5 943.6 545.5 943.6 533.1 943.6 545.4 943.7 560.9 943.7 549.5 943.7 542.3 943.8 541.1 943.8 556.6 943.8 542.7 943.8 551.2 943.9 555.2 943.9 557.5 943.9 560.1 944 552.4 944 550.7 944 545.7 944.1 540.6 944.1 546.9 944.1 567.7 944.1 565.2 944.2 557.2 944.2 549.5 944.2 552.5 944.3 555.7 944.3 564.4 944.3 570.0 944.4 564.1 944.4 570.9 944.4 561.1 944.5 564.4 944.5 555.9 944.5 549.3 944.5 533.0 944.6 547.9 944.6 547.5 944.6 555.5 944.7 562.9 944.7 554.0 944.7 538.0 944.8 546.1 944.8 543.3 944.8 543.5 944.8 558.4 944.9 563.9 944.9 562.1 944.9 547.8 945 552.5 945 560.5 945 565.9 945.1 557.7 945.1 551.9 945.1 559.1 945.1 555.4 945.2 544.3 945.2 551.2 945.2 544.9 945.3 547.4 945.3 540.3 945.3 552.9 945.4 557.2 945.4 563.7 945.4 565.6 945.4 557.7 945.5 559.2 945.5 556.5 945.5 556.1 945.6 556.8 945.6 570.2 945.6 562.2 945.7 552.4 945.7 550.0 945.7 556.5 945.7 560.9 945.8 571.4 945.8 563.4 945.8 554.4 945.9 556.0 945.9 546.1 945.9 542.4 946 553.8 946 557.2 946 556.4 946 569.3 946.1 563.7 946.1 550.4 946.1 544.9 946.2 560.1 946.2 566.5 946.2 557.8 946.3 554.0 946.3 550.4 946.3 554.6 946.3 558.2 946.4 559.2 946.4 550.6 946.4 559.9 946.5 555.4 946.5 547.1 946.5 556.4 946.6 555.8 946.6 559.1 946.6 571.5 946.6 572.4 946.7 556.1 946.7 553.2 946.7 560.1 946.8 578.4 946.8 582.3 946.8 573.0 946.8 553.3 946.9 559.4 946.9 563.4 946.9 567.8 947 560.2 947 543.9 947 540.0 947.1 565.2 947.1 569.9 947.1 566.9 947.1 563.0 947.2 562.9 947.2 569.5 947.2 572.5 947.3 566.1 947.3 564.6 947.3 570.4 947.4 572.1 947.4 556.5 947.4 564.6 947.4 580.9 947.5 577.6 947.5 562.1 947.5 553.5 947.6 562.8 947.6 564.7 947.6 567.8 947.6 566.5 947.7 555.5 947.7 550.1 947.7 567.6 947.8 566.0 947.8 558.2 947.8 571.7 947.9 570.4 947.9 569.6 947.9 549.9 947.9 563.9 948 563.4 948 553.1 948 558.6 948.1 559.0 948.1 563.1 948.1 560.7 948.1 564.1 948.2 550.8 948.2 560.9 948.2 563.3 948.3 574.1 948.3 576.9 948.3 556.4 948.4 565.7 948.4 564.0 948.4 565.5 948.4 546.2 948.5 559.6 948.5 552.1 948.5 564.4 948.6 567.5 948.6 554.7 948.6 571.3 948.6 563.9 948.7 564.1 948.7 571.9 948.7 575.9 948.8 583.1 948.8 573.3 948.8 572.9 948.9 574.6 948.9 567.9 948.9 571.4 948.9 572.5 949 556.8 949 572.9 949 560.7 949.1 570.7 949.1 579.7 949.1 576.5 949.1 580.3 949.2 593.3 949.2 570.7 949.2 571.6 949.3 577.8 949.3 574.9 949.3 587.4 949.3 574.8 949.4 582.1 949.4 579.4 949.4 572.2 949.5 570.7 949.5 569.1 949.5 568.6 949.5 578.7 949.6 580.8 949.6 567.3 949.6 574.8 949.7 583.9 949.7 576.1 949.7 575.2 949.8 586.2 949.8 587.4 949.8 584.1 949.8 584.0 949.9 577.1 949.9 571.9 949.9 573.9 950 569.9 950 572.1 950 586.9 950 575.5 950.1 571.7 950.1 586.8 950.1 568.9 950.2 571.8 950.2 580.6 950.2 577.3 950.2 579.4 950.3 564.0 950.3 573.9 950.3 576.3 950.4 566.9 950.4 579.8 950.4 571.0 950.4 571.2 950.5 548.8 950.5 561.5 950.5 583.0 950.6 569.2 950.6 558.4 950.6 587.9 950.6 580.2 950.7 592.7 950.7 589.5 950.7 579.6 950.8 572.2 950.8 571.8 950.8 571.2 950.8 574.1 950.9 576.2 950.9 575.7 950.9 573.4 951 585.8 951 579.0 951 567.9 951 571.9 951.1 579.1 951.1 580.2 951.1 576.1 951.2 564.9 951.2 572.4 951.2 588.9 951.3 598.1 951.3 582.1 951.3 570.9 951.3 572.6 951.4 577.8 951.4 576.3 951.4 583.6 951.5 560.3 951.5 577.3 951.5 571.9 951.5 574.0 951.6 577.6 951.6 580.6 951.6 570.1 951.7 557.0 951.7 566.1 951.7 581.2 951.7 573.0 951.8 558.6 951.8 586.7 951.8 587.7 951.9 592.0 951.9 598.9 951.9 588.1 951.9 592.0 952 583.1 952 576.0 952 576.7 952 576.9 952.1 582.7 952.1 593.8 952.1 578.0 952.2 567.2 952.2 595.1 952.2 601.5 952.2 600.1 952.3 578.3 952.3 592.2 952.3 588.0 952.4 580.4 952.4 588.1 952.4 594.9 952.4 592.1 952.5 580.2 952.5 596.3 952.5 577.6 952.6 586.7 952.6 581.1 952.6 582.9 952.6 585.0 952.7 589.2 952.7 587.7 952.7 582.0 952.8 569.8 952.8 577.2 952.8 583.0 952.8 585.5 952.9 574.3 952.9 585.9 952.9 593.6 953 588.1 953 585.3 953 588.0 953 601.8 953.1 577.7 953.1 576.1 953.1 577.7 953.2 584.7 953.2 592.2 953.2 586.7 953.2 584.2 953.3 586.0 953.3 605.8 953.3 607.6 953.4 598.2 953.4 600.1 953.4 596.7 953.4 597.3 953.5 592.3 953.5 591.2 953.5 595.5 953.5 596.3 953.6 581.0 953.6 572.9 953.6 571.3 953.7 577.7 953.7 581.6 953.7 579.5 953.7 592.9 953.8 587.0 953.8 588.1 953.8 582.8 953.9 587.5 953.9 585.0 953.9 588.9 953.9 589.5 954 591.7 954 576.1 954 578.3 954.1 591.8 954.1 598.6 954.1 576.8 954.1 573.9 954.2 586.4 954.2 582.6 954.2 587.0 954.2 588.9 954.3 580.8 954.3 584.3 954.3 592.1 954.4 595.6 954.4 604.4 954.4 590.5 954.4 581.8 954.5 576.0 954.5 589.4 954.5 588.0 954.6 586.2 954.6 582.4 954.6 576.9 954.6 605.6 954.7 594.5 954.7 589.1 954.7 590.9 954.8 593.7 954.8 588.4 954.8 586.4 954.8 595.2 954.9 602.8 954.9 587.1 954.9 603.0 954.9 596.1 955 589.3 955 588.9 955 586.7 955.1 583.2 955.1 589.3 955.1 592.4 955.1 602.5 955.2 602.4 955.2 585.3 955.2 597.2 955.3 586.9 955.3 590.2 955.3 596.6 955.3 590.7 955.4 595.4 955.4 594.9 955.4 591.2 955.4 590.7 955.5 595.0 955.5 601.6 955.5 611.9 955.6 602.4 955.6 593.3 955.6 598.1 955.6 599.4 955.7 588.3 955.7 584.3 955.7 613.6 955.7 606.6 955.8 597.6 955.8 608.8 955.8 599.1 955.9 586.6 955.9 590.0 955.9 605.0 955.9 592.4 956 590.1 956 598.1 956 597.5 956.1 598.7 956.1 602.3 956.1 595.7 956.1 598.8 956.2 608.2 956.2 606.5 956.2 619.1 956.2 610.7 956.3 611.9 956.3 611.5 956.3 594.6 956.4 597.6 956.4 592.4 956.4 606.3 956.4 610.2 956.5 599.0 956.5 598.3 956.5 598.3 956.5 596.0 956.6 621.0 956.6 610.6 956.6 615.8 956.7 598.9 956.7 610.1 956.7 620.9 956.7 614.9 956.8 596.9 956.8 610.1 956.8 606.0 956.8 598.7 956.9 599.1 956.9 601.4 956.9 618.8 957 610.6 957 594.2 957 592.0 957 613.1 957.1 613.8 957.1 597.6 957.1 602.3 957.2 604.7 957.2 600.1 957.2 611.1 957.2 612.7 957.3 619.4 957.3 622.1 957.3 614.0 957.3 601.9 957.4 596.2 957.4 612.3 957.4 607.7 957.5 601.8 957.5 602.4 957.5 609.4 957.5 609.7 957.6 604.2 957.6 604.9 957.6 611.1 957.6 612.7 957.7 595.9 957.7 614.5 957.7 615.9 957.7 613.4 957.8 593.2 957.8 585.8 957.8 589.6 957.9 588.6 957.9 608.6 957.9 605.0 957.9 602.8 958 609.5 958 600.6 958 600.7 958 590.3 958.1 609.0 958.1 616.1 958.1 610.0 958.2 599.8 958.2 601.1 958.2 615.5 958.2 622.5 958.3 620.3 958.3 614.2 958.3 598.1 958.3 594.6 958.4 610.9 958.4 612.3 958.4 612.4 958.5 608.2 958.5 613.8 958.5 602.1 958.5 592.5 958.6 609.3 958.6 595.7 958.6 596.6 958.6 597.2 958.7 596.9 958.7 609.0 958.7 621.9 958.8 613.2 958.8 613.6 958.8 602.3 958.8 599.1 958.9 620.0 958.9 604.0 958.9 613.8 958.9 610.1 959 624.9 959 638.8 959 621.8 959 621.7 959.1 610.1 959.1 610.7 959.1 609.7 959.2 623.6 959.2 613.8 959.2 607.7 959.2 601.3 959.3 605.0 959.3 609.0 959.3 598.2 959.3 617.8 959.4 625.0 959.4 601.5 959.4 601.9 959.4 620.0 959.5 613.9 959.5 608.8 959.5 619.9 959.6 623.5 959.6 625.0 959.6 620.1 959.6 609.6 959.7 599.7 959.7 611.8 959.7 612.4 959.7 627.5 959.8 613.7 959.8 631.9 959.8 623.8 959.9 610.4 959.9 620.1 959.9 626.5 959.9 604.5 960 606.6 960 614.1 960 611.5 960 615.3 960.1 628.9 960.1 634.0 960.1 623.5 960.1 624.3 960.2 615.0 960.2 605.6 960.2 613.1 960.3 626.6 960.3 621.2 960.3 629.9 960.3 615.7 960.4 616.9 960.4 629.4 960.4 625.2 960.4 613.7 960.5 629.7 960.5 619.4 960.5 626.3 960.5 621.0 960.6 612.0 960.6 614.9 960.6 625.7 960.6 627.0 960.7 618.1 960.7 625.6 960.7 624.6 960.8 619.0 960.8 617.9 960.8 621.2 960.8 610.9 960.9 616.2 960.9 626.7 960.9 618.3 960.9 612.1 961 618.7 961 625.6 961 614.6 961 612.9 961.1 614.8 961.1 608.1 961.1 602.6 961.2 615.1 961.2 622.1 961.2 631.2 961.2 621.0 961.3 627.6 961.3 634.0 961.3 626.4 961.3 628.2 961.4 626.6 961.4 624.2 961.4 629.4 961.4 628.1 961.5 622.5 961.5 608.1 961.5 616.9 961.5 639.4 961.6 638.2 961.6 617.5 961.6 628.2 961.7 611.8 961.7 611.0 961.7 597.9 961.7 619.8 961.8 634.9 961.8 625.2 961.8 622.6 961.8 614.3 961.9 614.2 961.9 632.8 961.9 637.4 961.9 633.8 962 627.8 962 618.4 962 612.3 962 636.3 962.1 621.5 962.1 622.3 962.1 630.9 962.2 619.4 962.2 619.2 962.2 615.4 962.2 622.5 962.3 619.1 962.3 629.6 962.3 637.4 962.3 624.3 962.4 610.4 962.4 612.5 962.4 629.7 962.4 636.5 962.5 636.5 962.5 646.9 962.5 634.3 962.5 611.6 962.6 611.3 962.6 619.0 962.6 628.3 962.6 628.4 962.7 622.5 962.7 626.2 962.7 619.3 962.8 628.4 962.8 631.1 962.8 632.2 962.8 619.9 962.9 617.4 962.9 606.6 962.9 621.0 962.9 622.8 963 623.0 963 644.4 963 637.9 963 632.8 963.1 627.8 963.1 632.1 963.1 627.1 963.1 627.7 963.2 623.6 963.2 628.5 963.2 620.7 963.2 630.3 963.3 624.4 963.3 612.4 963.3 621.6 963.4 636.4 963.4 643.4 963.4 637.3 963.4 629.7 963.5 627.2 963.5 635.6 963.5 638.0 963.5 648.2 963.6 645.1 963.6 642.7 963.6 636.7 963.6 636.2 963.7 628.3 963.7 618.3 963.7 624.2 963.7 646.7 963.8 634.6 963.8 639.1 963.8 630.1 963.8 644.5 963.9 636.9 963.9 621.9 963.9 626.2 963.9 633.3 964 628.0 964 636.0 964 646.9 964.1 630.3 964.1 625.1 964.1 631.1 964.1 624.7 964.2 623.2 964.2 630.5 964.2 617.9 964.2 631.6 964.3 642.8 964.3 639.2 964.3 645.5 964.3 629.4 964.4 630.9 964.4 639.7 964.4 640.0 964.4 649.7 964.5 636.8 964.5 626.4 964.5 642.1 964.5 637.0 964.6 639.6 964.6 648.3 964.6 636.0 964.6 639.0 964.7 639.4 964.7 639.6 964.7 639.3 964.7 646.3 964.8 651.7 964.8 641.4 964.8 643.8 964.8 645.5 964.9 626.0 964.9 647.1 964.9 656.0 965 645.4 965 644.0 965 640.3 965 645.1 965.1 641.9 965.1 633.7 965.1 642.4 965.1 645.9 965.2 645.0 965.2 644.9 965.2 650.7 965.2 659.8 965.3 642.2 965.3 631.8 965.3 616.1 965.3 634.3 965.4 656.3 965.4 649.1 965.4 639.9 965.4 630.7 965.5 634.8 965.5 640.8 965.5 628.7 965.5 634.7 965.6 641.8 965.6 642.0 965.6 661.7 965.6 664.6 965.7 653.4 965.7 645.5 965.7 633.2 965.7 644.4 965.8 640.4 965.8 629.9 965.8 639.2 965.8 635.8 965.9 641.3 965.9 637.7 965.9 630.1 965.9 635.1 966 645.9 966 639.0 966 629.8 966 629.2 966.1 643.3 966.1 655.5 966.1 638.1 966.2 632.7 966.2 652.1 966.2 658.4 966.2 650.0 966.3 648.9 966.3 636.3 966.3 646.3 966.3 645.4 966.4 659.5 966.4 651.7 966.4 641.1 966.4 647.2 966.5 654.2 966.5 641.4 966.5 648.0 966.5 649.8 966.6 645.4 966.6 645.4 966.6 650.8 966.6 636.2 966.7 638.6 966.7 630.7 966.7 625.5 966.7 641.8 966.8 646.4 966.8 660.1 966.8 646.3 966.8 647.8 966.9 648.4 966.9 637.3 966.9 633.6 966.9 652.7 967 650.2 967 649.5 967 645.8 967 638.0 967.1 649.2 967.1 665.0 967.1 659.1 967.1 651.9 967.2 655.4 967.2 655.9 967.2 646.8 967.2 639.9 967.3 643.2 967.3 651.4 967.3 655.0 967.3 653.3 967.4 654.6 967.4 645.6 967.4 647.0 967.4 646.3 967.5 636.2 967.5 647.3 967.5 650.4 967.5 645.2 967.6 671.9 967.6 663.9 967.6 642.4 967.6 645.3 967.7 674.2 967.7 667.0 967.7 663.4 967.7 657.4 967.8 653.2 967.8 661.2 967.8 651.7 967.8 644.4 967.9 638.1 967.9 646.6 967.9 660.0 967.9 650.8 968 633.6 968 644.7 968 664.5 968 642.4 968.1 641.8 968.1 657.3 968.1 671.6 968.1 660.9 968.2 655.6 968.2 651.2 968.2 660.2 968.2 661.9 968.3 669.7 968.3 661.9 968.3 649.3 968.3 636.8 968.4 640.9 968.4 648.7 968.4 646.1 968.4 662.8 968.5 644.7 968.5 646.7 968.5 661.9 968.5 672.8 968.6 658.7 968.6 660.0 968.6 654.4 968.6 657.9 968.7 659.9 968.7 650.5 968.7 647.1 968.7 640.6 968.8 637.8 968.8 643.9 968.8 651.3 968.8 648.8 968.9 648.2 968.9 644.5 968.9 647.5 968.9 654.5 969 643.5 969 651.7 969 651.7 969 651.3 969.1 648.5 969.1 644.5 969.1 642.9 969.1 639.1 969.2 648.6 969.2 638.7 969.2 642.5 969.2 663.3 969.3 673.0 969.3 670.7 969.3 665.6 969.3 653.4 969.4 641.6 969.4 643.5 969.4 648.9 969.4 667.4 969.5 667.0 969.5 654.3 969.5 650.0 969.5 675.2 969.6 668.4 969.6 659.3 969.6 663.9 969.6 656.4 969.7 661.5 969.7 658.0 969.7 658.7 969.7 667.1 969.8 675.1 969.8 660.6 969.8 666.2 969.8 661.4 969.9 667.4" stroke="#670748" stroke-width="1.65" stroke-linejoin="miter" stroke-miterlimit="3"/>
<path d="M119.6 15.9L120.1 15.9 120.6 16.0 121.1 16.0 121.6 16.1 122.1 16.1 122.6 16.2 123.1 16.2 123.6 16.2 124.1 16.3 124.6 16.3 125.1 16.4 125.6 16.4 126.1 16.5 126.6 16.5 127.1 16.6 127.6 16.6 128.1 16.7 128.6 16.7 129.1 16.7 129.6 16.8 130.1 16.8 130.6 16.9 131.1 16.9 131.6 17.0 132.1 17.0 132.6 17.1 133.1 17.1 133.6 17.2 134.1 17.2 134.6 17.3 135.1 17.3 135.6 17.4 136.1 17.4 136.6 17.5 137.1 17.5 137.6 17.6 138.1 17.6 138.6 17.7 139.1 17.7 139.6 17.8 140.1 17.8 140.6 17.9 141.1 17.9 141.6 18.0 142.1 18.0 142.6 18.1 143.1 18.1 143.6 18.2 144.1 18.2 144.6 18.3 145.1 18.3 145.6 18.4 146.1 18.4 146.6 18.5 147.1 18.5 147.6 18.6 148.1 18.6 148.6 18.7 149.1 18.8 149.6 18.8 150.1 18.9 150.6 18.9 151.1 19.0 151.6 19.0 152.1 19.1 152.6 19.1 153.1 19.2 153.6 19.3 154.1 19.3 154.6 19.4 155.1 19.4 155.6 19.5 156.1 19.5 156.6 19.6 157.1 19.7 157.6 19.7 158.1 19.8 158.6 19.8 159.1 19.9 159.6 19.9 160.1 20.0 160.6 20.1 161.1 20.1 161.6 20.2 162.1 20.2 162.6 20.3 163.1 20.4 163.6 20.4 164.1 20.5 164.6 20.6 165.1 20.6 165.6 20.7 166.1 20.7 166.6 20.8 167.1 20.9 167.6 20.9 168.1 21.0 168.6 21.0 169.1 21.1 169.6 21.2 170.1 21.2 170.6 21.3 171.1 21.4 171.6 21.4 172.1 21.5 172.6 21.6 173.1 21.6 173.6 21.7 174.1 21.8 174.6 21.8 175.1 21.9 175.6 22.0 176.1 22.0 176.6 22.1 177.1 22.2 177.6 22.2 178.1 22.3 178.6 22.4 179.1 22.4 179.6 22.5 180.1 22.6 180.6 22.7 181.1 22.7 181.6 22.8 182.1 22.9 182.6 22.9 183.1 23.0 183.6 23.1 184.1 23.2 184.6 23.2 185.1 23.3 185.6 23.4 186.1 23.5 186.6 23.5 187.1 23.6 187.6 23.7 188.1 23.8 188.6 23.8 189.1 23.9 189.6 24.0 190.1 24.1 190.6 24.2 191.1 24.2 191.6 24.3 192.1 24.4 192.6 24.5 193.1 24.5 193.6 24.6 194.1 24.7 194.6 24.8 195.1 24.9 195.6 25.0 196.1 25.0 196.6 25.1 197.1 25.2 197.6 25.3 198.1 25.4 198.6 25.5 199.1 25.5 199.6 25.6 200.1 25.7 200.6 25.8 201.1 25.9 201.6 26.0 202.1 26.1 202.6 26.2 203.1 26.3 203.6 26.3 204.1 26.4 204.6 26.5 205.1 26.6 205.6 26.7 206.1 26.8 206.6 26.9 207.1 27.0 207.6 27.1 208.1 27.2 208.6 27.3 209.1 27.4 209.6 27.5 210.1 27.6 210.6 27.7 211.1 27.8 211.6 27.9 212.1 28.0 212.6 28.1 213.1 28.2 213.6 28.3 214.1 28.4 214.6 28.5 215.1 28.6 215.6 28.8 216.1 28.9 216.6 29.0 217.1 29.1 217.6 29.2 218.1 29.3 218.6 29.4 219.1 29.5 219.6 29.6 220.1 29.8 220.6 29.9 221.1 30.0 221.6 30.1 222.1 30.2 222.6 30.3 223.1 30.5 223.6 30.6 224.1 30.7 224.6 30.8 225.1 30.9 225.6 31.1 226.1 31.2 226.6 31.3 227.1 31.4 227.6 31.6 228.1 31.7 228.6 31.8 229.1 31.9 229.6 32.1 230.1 32.2 230.6 32.3 231.1 32.5 231.6 32.6 232.1 32.7 232.6 32.8 233.1 33.0 233.6 33.1 234.1 33.2 234.6 33.4 235.1 33.5 235.6 33.7 236.1 33.8 236.6 33.9 237.1 34.1 237.6 34.2 238.1 34.4 238.6 34.5 239.1 34.6 239.6 34.8 240.1 34.9 240.6 35.1 241.1 35.2 241.6 35.4 242.1 35.5 242.6 35.7 243.1 35.8 243.6 36.0 244.1 36.1 244.6 36.3 245.1 36.5 245.6 36.6 246.1 36.8 246.6 37.0 247.1 37.1 247.6 37.3 248.1 37.5 248.6 37.6 249.1 37.8 249.6 38.0 250.1 38.1 250.6 38.3 251.1 38.5 251.6 38.7 252.1 38.8 252.6 39.0 253.1 39.2 253.6 39.4 254.1 39.5 254.6 39.7 255.1 39.9 255.6 40.1 256.1 40.2 256.6 40.4 257.1 40.6 257.6 40.8 258.1 41.0 258.6 41.2 259.1 41.3 259.6 41.5 260.1 41.7 260.6 41.9 261.1 42.1 261.6 42.3 262.1 42.5 262.6 42.7 263.1 42.9 263.6 43.1 264.1 43.3 264.6 43.5 265.1 43.6 265.6 43.8 266.1 44.0 266.6 44.2 267.1 44.4 267.6 44.6 268.1 44.8 268.6 45.0 269.1 45.3 269.6 45.5 270.1 45.7 270.6 45.9 271.1 46.1 271.6 46.3 272.1 46.5 272.6 46.7 273.1 46.9 273.6 47.1 274.1 47.4 274.6 47.6 275.1 47.8 275.6 48.0 276.1 48.2 276.6 48.4 277.1 48.6 277.6 48.9 278.1 49.1 278.6 49.3 279.1 49.5 279.6 49.7 280.1 49.8 280.6 50.0 281.1 50.2 281.6 50.4 282.1 50.6 282.6 50.8 283.1 51.1 283.6 51.3 284.1 51.5 284.6 51.7 285.1 52.0 285.6 52.2 286.1 52.5 286.6 52.7 287.1 53.0 287.6 53.3 288.1 53.7 288.6 54.0 289.1 54.4 289.6 54.8 290.1 55.2 290.6 55.6 291.1 56.0 291.6 56.4 292.1 56.8 292.6 57.2 293.1 57.6 293.6 57.9 294.1 58.3 294.6 58.7 295.1 59.0 295.6 59.4 296.1 59.8 296.6 60.2 297.1 60.6 297.6 60.9 298.1 61.3 298.6 61.6 299.1 61.9 299.6 62.3 300.1 62.6 300.6 63.0 301.1 63.4 301.6 63.7 302.1 64.0 302.6 64.3 303.1 64.5 303.6 64.8 304.1 65.0 304.6 65.3 305.1 65.7 305.6 66.2 306.1 66.7 306.6 67.1 307.1 67.6 307.6 68.1 308.1 68.7 308.6 69.2 309.1 69.7 309.6 70.3 310.1 70.7 310.6 70.8 311.1 71.0 311.6 71.1 312.1 71.3 312.6 71.5 313.1 71.8 313.6 72.2 314.1 72.5 314.6 72.9 315.1 73.3 315.6 73.7 316.1 74.1 316.6 74.5 317.1 74.9 317.6 75.3 318.1 75.6 318.6 76.0 319.1 76.3 319.6 76.6 320.1 77.0 320.6 77.4 321.1 77.8 321.6 78.2 322.1 78.6 322.6 79.0 323.1 79.3 323.6 79.7 324.1 80.0 324.6 80.4 325.1 80.8 325.6 81.1 326.1 81.5 326.6 81.9 327.1 82.1 327.6 82.2 328.1 82.3 328.6 82.4 329.1 82.4 329.6 82.9 330.1 83.5 330.6 84.0 331.1 84.6 331.6 84.9 332.1 84.9 332.6 84.8 333.1 84.8 333.6 84.7 334.1 85.4 334.6 86.1 335.1 86.8 335.6 87.6 336.1 87.8 336.6 87.8 337.1 87.8 337.6 87.8 338.1 88.1 338.6 88.6 339.1 89.2 339.6 89.8 340.1 90.4 340.6 90.8 341.1 91.3 341.6 91.7 342.1 92.1 342.6 92.2 343.1 92.4 343.6 92.5 344.1 92.7 344.6 93.1 345.1 93.6 345.6 94.1 346.1 94.3 346.6 94.3 347.1 94.2 347.6 94.1 348.1 94.3 348.6 94.8 349.1 95.4 349.6 95.9 350.1 96.6 350.6 97.3 351.1 98.1 351.6 98.8 352.1 98.8 352.6 98.7 353.1 98.6 353.6 98.6 354.1 99.5 354.5 100.1 354.9 99.5 355.3 99.0 355.7 97.6 356.1 96.3 356.5 94.9 356.9 93.6 357.3 92.5 357.7 91.8 358.1 91.1 358.5 90.4 358.9 89.7 359.3 88.9 359.7 88.1 360.1 87.4 360.5 86.7 361 86.2 361.4 85.8 361.8 85.4 362.2 85.0 362.6 84.6 363 84.2 363.4 83.7 363.8 83.3 364.2 82.8 364.6 81.9 365 81.0 365.4 80.1 365.8 79.4 366.2 79.1 366.6 78.9 367 78.7 367.4 78.5 367.8 78.6 368.2 78.7 368.6 78.8 369 78.9 369.4 78.1 369.8 77.3 370.2 76.5 370.6 75.8 371 75.4 371.4 75.0 371.8 74.6 372.2 74.3 372.6 74.4 373.1 74.5 373.5 74.6 373.9 74.6 374.3 74.3 374.7 74.0 375.1 73.7 375.5 73.4 375.9 73.1 376.3 72.9 376.7 72.7 377.1 72.3 377.5 72.0 377.9 71.6 378.3 71.2 378.7 71.6 379.1 72.3 379.5 72.9 379.9 73.5 380.3 73.1 380.7 72.7 381.1 72.2 381.5 72.1 381.9 72.2 382.3 72.3 382.7 72.5 383.1 72.3 383.5 72.0 383.9 71.7 384.3 71.6 384.7 72.3 385.1 72.9 385.6 73.6 386 73.7 386.4 73.6 386.8 73.5 387.2 73.4 387.6 73.5 388 73.7 388.4 73.8 388.8 73.7 389.2 73.5 389.6 73.2 390 73.2 390.4 73.5 390.8 73.8 391.2 74.1 391.6 74.4 392 74.7 392.4 74.9 392.8 75.2 393.2 75.4 393.6 75.6 394 75.8 394.4 75.8 394.8 75.8 395.2 75.8 395.6 75.9 396 76.0 396.4 76.1 396.8 76.3 397.2 76.5 397.7 76.7 398.1 76.8 398.5 77.0 398.9 77.2 399.3 77.4 399.7 77.6 400.1 77.9 400.5 78.3 400.9 79.0 401.3 79.8 401.7 80.4 402.1 80.6 402.5 80.8 402.9 80.9 403.3 80.7 403.7 80.5 404.1 80.5 404.5 81.5 404.9 82.5 405.3 83.5 405.7 84.4 406.1 85.2 406.5 85.9 406.9 85.9 407.3 85.9 407.7 86.0 408.1 85.9 408.5 85.9 408.9 86.2 409.3 87.2 409.8 88.3 410.2 89.3 410.6 90.2 411 91.0 411.4 91.6 411.8 91.9 412.2 92.3 412.6 92.6 413 93.0 413.4 93.4 413.8 94.6 414.2 96.0 414.6 97.3 415 98.0 415.4 98.6 415.8 99.0 416.2 98.9 416.6 98.9 417 99.4 417.4 100.4 417.8 101.4 418.2 102.0 418.6 102.5 419 103.1 419.4 103.9 419.8 104.8 420.2 105.7 420.6 106.7 421 107.6 421.4 108.2 421.8 108.7 422.3 109.2 422.7 109.7 423.1 110.2 423.5 110.7 423.9 111.2 424.3 111.7 424.7 112.5 425.1 113.2 425.5 114.2 425.9 115.3 426.3 116.4 426.7 117.7 427.1 119.0 427.5 119.9 427.9 120.5 428.3 121.0 428.7 121.8 429.1 122.6 429.5 123.5 429.9 124.4 430.3 125.4 430.7 126.2 431.1 127.1 431.5 128.1 431.9 129.2 432.3 130.2 432.7 130.5 433.1 130.8 433.5 131.3 433.9 132.0 434.4 133.0 434.8 134.7 435.2 136.2 435.6 136.9 436 137.6 436.4 139.4 436.8 141.6 437.2 143.0 437.6 143.3 438 143.7 438.4 144.7 438.8 145.7 439.2 146.3 439.6 146.9 440 148.2 440.4 150.0 440.8 148.7 441.2 146.7 441.6 144.8 442 144.0 442.4 143.2 442.8 141.7 443.2 140.1 443.6 138.2 444 136.1 444.4 134.7 444.8 133.9 445.2 132.6 445.6 130.0 446 127.8 446.4 127.5 446.9 127.4 447.3 127.1 447.7 127.0 448.1 126.0 448.5 124.8 448.9 123.6 449.3 122.5 449.7 121.5 450.1 120.6 450.5 119.5 450.9 118.1 451.3 117.1 451.7 116.5 452.1 116.2 452.5 116.3 452.9 116.5 453.3 116.7 453.7 116.0 454.1 113.7 454.5 112.5 454.9 113.4 455.3 113.9 455.7 113.5 456.1 113.3 456.5 113.2 456.9 112.7 457.3 111.6 457.7 110.9 458.1 110.9 458.5 111.0 458.9 111.1 459.3 110.9 459.8 110.3 460.2 110.0 460.6 109.8 461 109.9 461.4 110.0 461.8 110.4 462.2 110.8 462.6 111.1 463 111.5 463.4 111.4 463.8 111.4 464.2 111.7 464.6 111.8 465 111.7 465.4 111.8 465.8 112.1 466.2 113.1 466.6 114.4 467 114.6 467.4 114.5 467.8 114.9 468.2 115.5 468.6 116.6 469 117.6 469.4 118.4 469.8 119.1 470.2 119.8 470.6 120.2 471 120.5 471.4 121.0 471.8 121.8 472.3 122.8 472.7 123.7 473.1 124.6 473.5 126.0 473.9 127.5 474.3 127.9 474.7 128.7 475.1 129.9 475.5 130.8 475.9 131.6 476.3 133.5 476.7 134.6 477.1 133.9 477.5 135.4 477.9 138.0 478.3 139.6 478.7 140.7 479.1 141.0 479.5 143.3 479.9 146.4 480.3 146.6 480.7 147.3 481.1 148.9 481.5 150.0 481.9 151.4 482.3 154.1 482.7 156.0 483.1 157.3 483.5 158.5 483.9 160.1 484.3 162.4 484.7 164.5 485.2 166.6 485.6 168.7 486 170.3 486.4 171.6 486.8 172.8 487.2 174.6 487.6 176.8 488 177.8 488.4 179.9 488.8 182.9 489.2 185.9 489.6 188.4 490 190.4 490.4 192.3 490.8 194.3 491.2 196.4 491.6 195.3 492 193.2 492.4 190.3 492.8 188.6 493.2 186.5 493.6 184.1 494 181.5 494.4 180.3 494.8 179.2 495.3 175.6 495.7 173.5 496.1 172.0 496.5 170.9 496.9 169.2 497.3 167.6 497.7 166.3 498.1 164.8 498.5 164.2 498.9 163.4 499.3 161.5 499.7 160.5 500.1 158.7 500.5 156.7 500.9 156.1 501.3 156.3 501.7 155.4 502.1 153.2 502.6 154.0 503 152.6 503.4 151.3 503.8 151.5 504.2 150.1 504.6 149.8 505 149.5 505.4 148.4 505.8 148.4 506.2 149.2 506.6 149.1 507 147.8 507.4 149.3 507.8 148.1 508.2 146.9 508.6 146.7 509 147.7 509.4 147.6 509.9 148.8 510.3 149.9 510.7 149.8 511.1 150.6 511.5 151.0 511.9 152.4 512.3 153.7 512.7 153.5 513.1 154.3 513.5 154.6 513.9 155.4 514.3 156.9 514.7 159.1 515.1 161.2 515.5 162.9 515.9 163.4 516.3 165.0 516.7 167.5 517.2 169.1 517.6 170.1 518 173.2 518.4 174.2 518.8 176.5 519.2 180.7 519.6 184.1 520 183.9 520.4 187.3 520.8 188.9 521.2 191.7 521.6 195.6 522 198.9 522.4 200.9 522.8 204.8 523.2 207.7 523.6 211.0 524 214.7 524.5 218.4 524.9 222.4 525.3 226.2 525.7 229.5 526.1 232.5 526.5 237.9 526.9 241.7 527.3 243.8 527.7 248.8 528.1 253.7 528.5 249.8 528.9 245.8 529.3 241.3 529.7 237.0 530.1 233.7 530.5 229.4 530.9 227.6 531.3 226.1 531.8 222.0 532.2 219.1 532.6 215.4 533 212.2 533.4 209.5 533.8 207.7 534.2 205.2 534.6 202.8 535 201.5 535.4 199.0 535.8 196.2 536.2 194.9 536.6 193.8 537 192.5 537.4 190.7 537.8 189.4 538.2 189.0 538.7 188.0 539.1 187.0 539.5 186.0 539.9 186.1 540.3 185.4 540.7 184.8 541.1 184.8 541.5 185.4 541.9 185.0 542.3 184.1 542.7 185.3 543.1 186.5 543.5 187.9 543.9 189.0 544.3 190.9 544.7 191.6 545.1 193.0 545.5 195.3 546 196.8 546.4 199.7 546.8 202.1 547.2 203.8 547.6 205.6 548 210.7 548.4 212.8 548.8 215.8 549.2 218.8 549.6 222.4 550 225.9 550.4 229.0 550.8 233.4 551.2 237.3 551.6 240.8 552 244.9 552.4 250.8 552.9 255.3 553.3 260.2 553.7 263.9 554.1 269.3 554.5 275.4 554.9 280.5 555.3 285.8 555.7 292.3 556.1 296.4 556.5 291.7 556.9 287.5 557.3 283.6 557.7 279.9 558.1 275.5 558.6 271.9 559 267.6 559.4 263.9 559.8 260.7 560.2 256.1 560.6 253.6 561 250.5 561.4 247.8 561.8 244.5 562.2 241.7 562.6 239.2 563.1 236.1 563.5 233.7 563.9 232.4 564.3 231.9 564.7 228.9 565.1 226.7 565.5 226.2 565.9 224.1 566.3 222.5 566.7 221.9 567.1 221.2 567.5 221.8 568 220.9 568.4 220.8 568.8 221.1 569.2 221.8 569.6 223.7 570 225.1 570.4 227.0 570.8 228.9 571.2 231.0 571.6 233.7 572 236.7 572.5 239.9 572.9 242.6 573.3 246.9 573.7 251.1 574.1 254.3 574.5 258.4 574.9 263.3 575.3 269.0 575.7 274.1 576.1 279.2 576.5 284.9 577 292.2 577.4 298.0 577.8 304.5 578.2 311.6 578.6 318.3 579 325.9 579.4 321.8 579.8 317.9 580.2 311.5 580.7 307.3 581.1 302.7 581.5 298.3 581.9 294.5 582.3 291.0 582.7 287.1 583.1 283.9 583.6 279.3 584 277.3 584.4 273.8 584.8 271.6 585.2 268.7 585.6 266.3 586 264.1 586.5 261.9 586.9 260.8 587.3 258.5 587.7 257.9 588.1 256.9 588.5 254.9 588.9 254.8 589.4 254.5 589.8 254.7 590.2 254.4 590.6 256.0 591 256.2 591.4 258.0 591.8 260.4 592.2 261.9 592.7 264.7 593.1 268.6 593.5 270.9 593.9 275.2 594.3 277.3 594.7 281.7 595.1 286.9 595.6 290.9 596 296.4 596.4 302.0 596.8 308.1 597.2 313.3 597.6 320.5 598 327.2 598.5 333.6 598.9 341.0 599.3 348.5 599.7 356.9 600.1 351.5 600.5 345.2 601 341.2 601.4 335.2 601.8 329.7 602.2 325.6 602.6 321.6 603.1 317.2 603.5 313.4 603.9 310.0 604.3 306.9 604.7 303.4 605.2 301.1 605.6 299.0 606 296.9 606.4 295.5 606.8 294.4 607.3 293.7 607.7 293.4 608.1 293.2 608.5 294.2 608.9 294.4 609.4 296.6 609.8 298.4 610.2 300.4 610.6 302.8 611 306.4 611.5 309.4 611.9 312.7 612.3 317.3 612.7 321.9 613.1 326.5 613.6 331.8 614 337.5 614.4 344.0 614.8 349.3 615.2 356.8 615.7 362.9 616.1 370.7 616.5 378.1 616.9 373.3 617.3 369.3 617.7 364.1 618.2 359.9 618.6 355.9 619 352.7 619.4 348.9 619.8 345.6 620.2 342.4 620.6 339.6 621 337.8 621.5 335.5 621.9 333.7 622.3 332.2 622.7 330.5 623.1 330.3 623.5 329.3 623.9 329.8 624.4 330.1 624.8 331.4 625.2 332.8 625.6 334.9 626 337.0 626.4 340.9 626.8 343.9 627.3 348.0 627.7 352.0 628.1 356.8 628.5 362.4 628.9 368.6 629.3 374.5 629.7 381.5 630.1 388.6 630.6 396.1 631 404.5 631.4 412.8 631.8 421.5 632.2 415.4 632.6 409.7 633.1 404.8 633.5 399.7 633.9 395.2 634.3 390.5 634.7 386.5 635.1 382.6 635.6 380.1 636 377.1 636.4 374.8 636.8 372.7 637.2 371.3 637.7 370.6 638.1 370.0 638.5 370.5 638.9 371.0 639.3 372.5 639.7 374.7 640.2 377.9 640.6 381.5 641 385.1 641.4 390.0 641.8 395.3 642.3 401.0 642.7 407.8 643.1 414.7 643.5 422.5 643.9 430.4 644.3 439.3 644.8 448.9 645.2 458.8 645.6 469.3 646 460.6 646.5 452.5 646.9 444.6 647.3 437.5 647.8 431.1 648.2 425.4 648.6 420.1 649 415.3 649.5 411.4 649.9 408.0 650.3 405.7 650.8 403.8 651.2 403.1 651.6 403.2 652.1 405.1 652.5 408.8 652.9 413.6 653.4 419.3 653.8 427.0 654.2 436.0 654.6 446.2 655.1 457.5 655.5 470.5 655.9 484.7 656.4 500.2 656.8 516.8 657.2 506.1 657.6 496.5 658 487.1 658.5 478.9 658.9 471.0 659.3 464.1 659.7 458.0 660.1 452.7 660.5 448.2 660.9 444.8 661.4 442.2 661.8 440.7 662.2 440.5 662.6 441.4 663 443.0 663.4 445.6 663.8 448.8 664.3 453.0 664.7 457.7 665.1 463.3 665.5 469.8 665.9 476.8 666.3 484.8 666.7 493.5 667.2 502.9 667.6 512.9 668 524.0 668.4 535.6 668.8 526.5 669.2 518.0 669.7 510.2 670.1 503.3 670.5 497.1 670.9 491.7 671.3 487.1 671.8 483.3 672.2 480.5 672.6 478.6 673 477.9 673.5 478.8 673.9 481.0 674.3 484.6 674.7 489.4 675.1 495.6 675.6 503.1 676 511.8 676.4 521.8 676.8 533.1 677.2 545.5 677.7 559.3 678.1 574.2 678.5 590.4 678.9 577.3 679.3 565.2 679.8 554.1 680.2 544.1 680.6 535.3 681 527.5 681.5 520.9 681.9 515.6 682.3 511.6 682.7 509.0 683.2 508.2 683.6 509.9 684 513.8 684.4 520.1 684.9 528.6 685.3 539.3 685.7 552.1 686.1 567.2 686.6 584.3 687 603.6 687.4 625.0 687.8 611.3 688.3 598.8 688.7 587.4 689.1 577.3 689.5 568.5 690 560.9 690.4 554.8 690.8 550.1 691.3 547.0 691.7 545.7 692.1 546.9 692.6 550.2 693 555.7 693.4 563.2 693.9 572.7 694.3 584.2 694.7 597.7 695.1 613.2 695.6 630.6 696 650.0 696.4 637.6 696.8 626.4 697.3 616.2 697.7 607.2 698.1 599.4 698.5 592.7 698.9 587.4 699.4 583.4 699.8 581.0 700.2 580.4 700.6 582.6 701.1 587.3 701.5 594.6 701.9 604.5 702.3 616.7 702.7 631.4 703.2 648.6 703.6 668.1 704 690.0" stroke="#9400d3" stroke-width="2.8"/>
<path d="M119.6 15.3L120.1 15.3 120.6 15.4 121.1 15.4 121.6 15.5 122.1 15.5 122.6 15.6 123.1 15.6 123.6 15.6 124.1 15.7 124.6 15.7 125.1 15.8 125.6 15.8 126.1 15.9 126.6 15.9 127.1 16.0 127.6 16.0 128.1 16.1 128.6 16.1 129.1 16.1 129.6 16.2 130.1 16.2 130.6 16.3 131.1 16.3 131.6 16.4 132.1 16.4 132.6 16.5 133.1 16.5 133.6 16.6 134.1 16.6 134.6 16.7 135.1 16.7 135.6 16.8 136.1 16.8 136.6 16.9 137.1 16.9 137.6 17.0 138.1 17.0 138.6 17.1 139.1 17.1 139.6 17.2 140.1 17.2 140.6 17.3 141.1 17.3 141.6 17.4 142.1 17.4 142.6 17.5 143.1 17.5 143.6 17.6 144.1 17.6 144.6 17.7 145.1 17.7 145.6 17.8 146.1 17.8 146.6 17.9 147.1 17.9 147.6 18.0 148.1 18.0 148.6 18.1 149.1 18.2 149.6 18.2 150.1 18.3 150.6 18.3 151.1 18.4 151.6 18.4 152.1 18.5 152.6 18.5 153.1 18.6 153.6 18.7 154.1 18.7 154.6 18.8 155.1 18.8 155.6 18.9 156.1 18.9 156.6 19.0 157.1 19.1 157.6 19.1 158.1 19.2 158.6 19.2 159.1 19.3 159.6 19.3 160.1 19.4 160.6 19.5 161.1 19.5 161.6 19.6 162.1 19.6 162.6 19.7 163.1 19.8 163.6 19.8 164.1 19.9 164.6 20.0 165.1 20.0 165.6 20.1 166.1 20.1 166.6 20.2 167.1 20.3 167.6 20.3 168.1 20.4 168.6 20.4 169.1 20.5 169.6 20.6 170.1 20.6 170.6 20.7 171.1 20.8 171.6 20.8 172.1 20.9 172.6 21.0 173.1 21.0 173.6 21.1 174.1 21.2 174.6 21.2 175.1 21.3 175.6 21.4 176.1 21.4 176.6 21.5 177.1 21.6 177.6 21.6 178.1 21.7 178.6 21.8 179.1 21.8 179.6 21.9 180.1 22.0 180.6 22.1 181.1 22.1 181.6 22.2 182.1 22.3 182.6 22.3 183.1 22.4 183.6 22.5 184.1 22.6 184.6 22.6 185.1 22.7 185.6 22.8 186.1 22.9 186.6 22.9 187.1 23.0 187.6 23.1 188.1 23.2 188.6 23.2 189.1 23.3 189.6 23.4 190.1 23.5 190.6 23.6 191.1 23.6 191.6 23.7 192.1 23.8 192.6 23.9 193.1 23.9 193.6 24.0 194.1 24.1 194.6 24.2 195.1 24.3 195.6 24.4 196.1 24.4 196.6 24.5 197.1 24.6 197.6 24.7 198.1 24.8 198.6 24.9 199.1 24.9 199.6 25.0 200.1 25.1 200.6 25.2 201.1 25.3 201.6 25.4 202.1 25.5 202.6 25.6 203.1 25.7 203.6 25.7 204.1 25.8 204.6 25.9 205.1 26.0 205.6 26.1 206.1 26.2 206.6 26.3 207.1 26.4 207.6 26.5 208.1 26.6 208.6 26.7 209.1 26.8 209.6 26.9 210.1 27.0 210.6 27.1 211.1 27.2 211.6 27.3 212.1 27.4 212.6 27.5 213.1 27.6 213.6 27.7 214.1 27.8 214.6 27.9 215.1 28.0 215.6 28.2 216.1 28.3 216.6 28.4 217.1 28.5 217.6 28.6 218.1 28.7 218.6 28.8 219.1 28.9 219.6 29.0 220.1 29.2 220.6 29.3 221.1 29.4 221.6 29.5 222.1 29.6 222.6 29.7 223.1 29.9 223.6 30.0 224.1 30.1 224.6 30.2 225.1 30.3 225.6 30.5 226.1 30.6 226.6 30.7 227.1 30.8 227.6 31.0 228.1 31.1 228.6 31.2 229.1 31.3 229.6 31.5 230.1 31.6 230.6 31.7 231.1 31.9 231.6 32.0 232.1 32.1 232.6 32.2 233.1 32.4 233.6 32.5 234.1 32.6 234.6 32.8 235.1 32.9 235.6 33.1 236.1 33.2 236.6 33.3 237.1 33.5 237.6 33.6 238.1 33.8 238.6 33.9 239.1 34.0 239.6 34.2 240.1 34.3 240.6 34.5 241.1 34.6 241.6 34.8 242.1 34.9 242.6 35.1 243.1 35.2 243.6 35.4 244.1 35.5 244.6 35.7 245.1 35.9 245.6 36.0 246.1 36.2 246.6 36.4 247.1 36.5 247.6 36.7 248.1 36.9 248.6 37.0 249.1 37.2 249.6 37.4 250.1 37.5 250.6 37.7 251.1 37.9 251.6 38.1 252.1 38.2 252.6 38.4 253.1 38.6 253.6 38.8 254.1 38.9 254.6 39.1 255.1 39.3 255.6 39.5 256.1 39.6 256.6 39.8 257.1 40.0 257.6 40.2 258.1 40.4 258.6 40.6 259.1 40.7 259.6 40.9 260.1 41.1 260.6 41.3 261.1 41.5 261.6 41.7 262.1 41.9 262.6 42.1 263.1 42.3 263.6 42.5 264.1 42.7 264.6 42.9 265.1 43.0 265.6 43.2 266.1 43.4 266.6 43.6 267.1 43.8 267.6 44.0 268.1 44.2 268.6 44.4 269.1 44.7 269.6 44.9 270.1 45.1 270.6 45.3 271.1 45.5 271.6 45.7 272.1 45.9 272.6 46.1 273.1 46.3 273.6 46.5 274.1 46.8 274.6 47.0 275.1 47.2 275.6 47.4 276.1 47.6 276.6 47.8 277.1 48.0 277.6 48.3 278.1 48.5 278.6 48.6 279.1 48.8 279.6 49.0 280.1 49.2 280.6 49.4 281.1 49.6 281.6 49.8 282.1 50.0 282.6 50.2 283.1 50.4 283.6 50.6 284.1 50.8 284.6 51.1 285.1 51.3 285.6 51.6 286.1 51.8 286.6 52.1 287.1 52.5 287.6 52.8 288.1 53.2 288.6 53.7 289.1 54.2 289.6 54.7 290.1 55.2 290.6 55.7 291.1 56.1 291.6 56.6 292.1 57.1 292.6 57.5 293.1 58.0 293.6 58.4 294.1 58.9 294.6 59.3 295.1 59.8 295.6 60.2 296.1 60.7 296.6 61.1 297.1 61.5 297.6 62.0 298.1 62.5 298.6 62.9 299.1 63.4 299.6 63.8 300.1 64.3 300.6 64.8 301.1 65.2 301.6 65.7 302.1 66.2 302.6 66.6 303.1 67.1 303.6 67.6 304.1 68.1 304.6 68.5 305.1 69.0 305.6 69.5 306.1 70.0 306.6 70.5 307.1 71.0 307.6 71.5 308.1 72.0 308.6 72.5 309.1 73.0 309.6 73.6 310.1 74.1 310.6 74.6 311.1 75.2 311.6 75.7 312.1 76.3 312.6 76.9 313.1 77.4 313.6 78.0 314.1 78.6 314.6 79.2 315.1 79.8 315.6 80.4 316.1 81.0 316.6 81.6 317.1 82.2 317.6 82.8 318.1 83.5 318.6 84.1 319.1 84.8 319.6 85.5 320.1 86.1 320.6 86.8 321.1 87.5 321.6 88.2 322.1 89.0 322.6 89.7 323.1 90.4 323.6 91.2 324.1 91.9 324.6 92.7 325.1 93.5 325.6 94.3 326.1 95.1 326.6 95.9 327.1 96.8 327.6 97.6 328.1 98.5 328.6 99.4 329.1 100.3 329.6 101.2 330.1 102.2 330.6 103.2 331.1 104.2 331.6 105.2 332.1 106.3 332.6 107.3 333.1 108.4 333.6 109.6 334.1 110.7 334.6 111.9 335.1 113.1 335.6 114.3 336.1 115.5 336.6 116.8 337.1 118.0 337.6 119.3 338.1 120.5 338.6 121.8 339.1 123.1 339.6 124.4 340.1 125.7 340.6 127.0 341.1 128.4 341.6 129.7 342.1 131.1 342.6 132.5 343.1 134.0 343.6 135.4 344.1 136.9 344.6 138.4 345.1 139.9 345.6 141.4 346.1 142.9 346.6 144.4 347.1 145.8 347.6 147.3 348.1 148.8 348.6 150.3 349.1 151.7 349.6 153.2 350.1 154.6 350.6 156.0 351.1 157.4 351.6 158.8 352.1 160.2 352.6 161.7 353.1 163.2 353.6 164.7 354.1 166.3 354.6 168.0 355.1 169.7 355.6 171.5 356.1 173.3 356.6 175.2 357.1 177.2 357.6 179.2 358.1 181.2 358.6 183.4 359.1 185.5 359.6 187.7 360.1 189.9 360.2 190.4 360.2 190.4 360.6 189.1 361 188.0 361.4 187.2 361.8 186.6 362.2 186.0 362.6 185.5 363 185.2 363.4 185.0 363.8 185.0 364.2 185.2 364.6 185.5 365 185.8 365.4 186.0 365.8 186.2 366.2 186.1 366.6 185.6 367 184.9 367.4 184.2 367.8 183.7 368.2 183.6 368.6 183.7 369 183.8 369.4 184.0 369.8 184.1 370.2 184.3 370.6 184.4 371 184.4 371.4 184.3 371.8 184.2 372.2 183.9 372.6 183.6 373 183.4 373.4 183.1 373.8 183.0 374.2 183.0 374.6 183.2 375 183.4 375.4 183.7 375.8 184.0 376.2 184.3 376.6 184.5 377 184.6 377.4 184.6 377.8 184.6 378.2 184.5 378.6 184.4 379 184.4 379.4 184.3 379.8 184.3 380.2 184.2 380.6 184.2 381 184.2 381.4 184.3 381.8 184.5 382.2 184.8 382.6 185.0 383 185.3 383.4 185.5 383.8 185.6 384.2 185.6 384.6 185.5 385 185.4 385.4 185.3 385.8 185.2 386.2 185.1 386.6 185.0 387 185.0 387.4 185.0 387.8 185.1 388.2 185.2 388.6 185.4 389 185.5 389.4 185.6 389.8 185.8 390.2 185.9 390.6 186.0 391 186.0 391.4 185.9 391.8 185.7 392.2 185.3 392.6 184.9 393 184.5 393.4 184.1 393.8 183.7 394.2 183.5 394.6 183.3 395 183.1 395.4 182.9 395.8 182.7 396.2 182.6 396.6 182.4 397 182.3 397.4 182.2 397.8 182.0 398.2 181.9 398.6 181.8 399 181.7 399.4 181.6 399.8 181.4 400.2 181.4 400.6 181.3 401 181.2 401.4 181.1 401.8 181.1 402.2 181.0 402.6 181.0 403 180.9 403.4 180.9 403.8 180.9 404.2 180.9 404.6 180.9 405 181.0 405.4 181.0 405.8 181.1 406.2 181.1 406.6 181.2 407 181.2 407.4 181.3 407.8 181.4 408.2 181.4 408.6 181.5 409 181.6 409.4 181.7 409.8 181.8 410.2 181.9 410.6 182.1 411 182.2 411.4 182.4 411.8 182.6 412.2 182.8 412.6 183.0 413 183.2 413.4 183.4 413.8 183.6 414.2 183.8 414.6 184.0 415 184.3 415.4 184.5 415.8 184.8 416.2 185.0 416.6 185.3 417 185.6 417.4 185.9 417.8 186.2 418.2 186.5 418.6 186.8 419 187.1 419.4 187.5 419.8 187.8 420.2 188.1 420.6 188.5 421 188.8 421.4 189.2 421.8 189.5 422.2 189.9 422.6 190.3 423 190.7 423.4 191.1 423.8 191.5 424.2 191.9 424.6 192.3 425 192.8 425.4 193.2 425.8 193.7 426.2 194.1 426.6 194.6 427 195.1 427.4 195.5 427.8 196.0 428.2 196.5 428.6 197.0 429 197.5 429.4 198.0 429.8 198.5 430.2 199.1 430.6 199.6 431 200.1 431.4 200.6 431.8 201.2 432.2 201.7 432.6 202.3 433 202.8 433.4 203.4 433.8 204.0 434.2 204.6 434.6 205.2 435 205.8 435.4 206.4 435.8 207.0 436.2 207.6 436.6 208.3 437 208.9 437.4 209.6 437.8 210.2 438.2 210.9 438.6 211.6 439 212.3 439.4 212.9 439.8 213.6 440.2 214.3 440.6 215.1 441 215.8 441.4 216.5 441.8 217.2 442.2 218.0 442.6 218.7 443 219.5 443.4 220.3 443.8 221.1 444.2 221.9 444.6 222.7 445 223.6 445.4 224.4 445.8 225.3 446.2 226.1 446.6 227.0 447 227.9 447.4 228.8 447.8 229.7 448.2 230.6 448.6 231.5 449 232.4 449.4 233.3 449.8 234.2 450.2 235.1 450.6 236.1 451 237.0 451.4 238.0 451.8 238.9 452.2 239.9 452.6 240.8 453 241.8 453.4 242.7 453.8 243.7 454.2 244.7 454.6 245.7 455 246.7 455.4 247.7 455.8 248.8 456.2 249.8 456.6 250.9 457 252.1 457.4 253.2 457.8 254.4 458.2 255.6 458.6 256.9 459 258.1 459.4 259.4 459.8 260.8 460.2 262.1 460.6 263.5 461 265.0 461.4 266.4 461.8 267.9 462.2 269.4 462.6 271.0 463 272.5 463.4 274.1 463.8 275.8 464.2 277.4 464.6 279.1 465 280.9 465.4 282.7 465.8 284.5 466.2 286.5 466.6 288.5 467 290.5 467.4 292.7 467.8 294.9 468.2 297.2 468.6 299.5 469 302.0 469.4 304.6 469.8 307.3 470.2 310.0 470.6 312.9 471 315.7 471.4 318.7 471.8 321.7 472.2 324.7 472.6 327.9 473 331.1 473.4 334.4 473.8 337.7 474.2 341.1 474.6 344.5 475 348.0 475.4 351.6 475.8 355.5 476.2 359.6 476.6 363.7 477 367.8 477.4 371.9 477.8 375.8 478.2 379.5 478.6 383.0 479 386.0 479.4 388.8 479.8 391.4 480.2 393.9 480.6 396.3 481 398.5 481.4 400.5 481.8 402.4 482 403.2 482 403.2 482.4 401.5 482.8 399.6 483.2 397.6 483.6 395.5 484 393.2 484.4 390.7 484.8 388.2 485.2 385.7 485.6 383.1 486 380.3 486.4 377.4 486.8 374.5 487.2 371.7 487.6 368.9 488 366.4 488.4 364.1 488.8 362.1 489.2 360.4 489.6 358.9 490 357.5 490.4 356.1 490.8 354.8 491.2 353.7 491.6 352.6 492 351.6 492.4 350.8 492.8 350.1 493.2 349.6 493.6 349.1 494 348.6 494.4 348.1 494.8 347.7 495.2 347.3 495.6 346.9 496 346.6 496.4 346.3 496.8 346.1 497.2 345.9 497.6 345.8 498 345.7 498.4 345.7 498.8 345.8 499.2 345.9 499.6 346.1 500 346.4 500.4 346.7 500.8 347.0 501.2 347.4 501.6 347.8 502 348.3 502.4 348.8 502.8 349.3 503.2 349.8 503.6 350.4 504 350.9 504.4 351.5 504.8 352.0 505.2 352.6 505.6 353.1 506 353.7 506.4 354.3 506.8 355.0 507.2 355.7 507.6 356.5 508 357.3 508.4 358.1 508.8 358.9 509.2 359.8 509.6 360.7 510 361.6 510.4 362.6 510.8 363.6 511.2 364.5 511.6 365.6 512 366.6 512.4 367.7 512.8 368.9 513.2 370.0 513.6 371.3 514 372.5 514.4 373.8 514.8 375.2 515.2 376.6 515.6 378.0 516 379.5 516.4 381.0 516.8 382.6 517.2 384.2 517.6 385.8 518 387.6 518.4 389.5 518.8 391.4 519.2 393.5 519.6 395.6 520 397.8 520.4 400.1 520.8 402.4 521.2 404.8 521.6 407.2 522 409.7 522.4 412.3 522.8 415.0 523.2 417.8 523.6 420.6 524 423.6 524.4 426.6 524.8 429.7 525.2 432.9 525.6 436.2 526 439.5 526.4 443.0 526.8 446.6 527.2 450.3 527.6 454.1 528 458.0 528.4 462.1 528.8 466.4 529.2 470.9 529.6 475.5 530 480.4 530.4 485.5 530.8 491.0 531.2 497.0 531.6 503.6 532 510.4 532.4 517.5 532.8 524.7 533.2 531.8 533.6 538.7 534 545.8 534.4 553.0 534.8 560.3 535.2 567.6 535.5 573.2 535.5 573.2 535.9 567.5 536.3 562.1 536.7 557.2 537.1 552.6 537.5 548.4 537.9 544.4 538.3 540.8 538.7 537.3 539.1 533.9 539.5 530.5 539.9 527.4 540.3 524.4 540.7 521.6 541.1 519.2 541.5 517.0 541.9 515.0 542.3 513.2 542.7 511.5 543.1 510.0 543.5 508.7 543.9 507.7 544.3 506.9 544.7 506.2 545.1 505.5 545.5 504.9 545.9 504.4 546.3 504.1 546.7 503.9 547.1 503.8 547.5 503.9 547.9 504.2 548.3 504.6 548.7 505.1 549.1 505.6 549.5 506.2 549.9 506.8 550.3 507.6 550.7 508.5 551.1 509.6 551.5 510.9 551.9 512.3 552.3 513.6 552.7 515.0 553.1 516.3 553.5 517.7 553.9 519.1 554.3 520.6 554.7 522.1 555.1 523.6 555.5 525.2 555.9 526.8 556.3 528.5 556.7 530.2 557.1 532.0 557.5 533.8 557.9 535.7 558.3 537.7 558.7 539.7 559.1 541.9 559.5 544.1 559.9 546.5 560.3 548.9 560.7 551.4 561.1 554.0 561.5 556.7 561.9 559.5 562.3 562.3 562.7 565.2 563.1 568.2 563.5 571.3 563.9 574.5 564.3 577.9 564.7 581.4 565.1 585.1 565.5 589.1 565.9 593.3 566.3 597.8 566.7 602.7 567.1 608.3 567.5 614.3 567.9 620.7 568.3 627.5 568.7 634.6 569 640.0" stroke="#0000ff" stroke-width="3.0"/>
<path d="M119.6 15.3L120.1 15.3 120.6 15.4 121.1 15.4 121.6 15.5 122.1 15.5 122.6 15.6 123.1 15.6 123.6 15.6 124.1 15.7 124.6 15.7 125.1 15.8 125.6 15.8 126.1 15.9 126.6 15.9 127.1 16.0 127.6 16.0 128.1 16.1 128.6 16.1 129.1 16.1 129.6 16.2 130.1 16.2 130.6 16.3 131.1 16.3 131.6 16.4 132.1 16.4 132.6 16.5 133.1 16.5 133.6 16.6 134.1 16.6 134.6 16.7 135.1 16.7 135.6 16.8 136.1 16.8 136.6 16.9 137.1 16.9 137.6 17.0 138.1 17.0 138.6 17.1 139.1 17.1 139.6 17.2 140.1 17.2 140.6 17.3 141.1 17.3 141.6 17.4 142.1 17.4 142.6 17.5 143.1 17.5 143.6 17.6 144.1 17.6 144.6 17.7 145.1 17.7 145.6 17.8 146.1 17.8 146.6 17.9 147.1 17.9 147.6 18.0 148.1 18.0 148.6 18.1 149.1 18.2 149.6 18.2 150.1 18.3 150.6 18.3 151.1 18.4 151.6 18.4 152.1 18.5 152.6 18.5 153.1 18.6 153.6 18.7 154.1 18.7 154.6 18.8 155.1 18.8 155.6 18.9 156.1 18.9 156.6 19.0 157.1 19.1 157.6 19.1 158.1 19.2 158.6 19.2 159.1 19.3 159.6 19.3 160.1 19.4 160.6 19.5 161.1 19.5 161.6 19.6 162.1 19.6 162.6 19.7 163.1 19.8 163.6 19.8 164.1 19.9 164.6 20.0 165.1 20.0 165.6 20.1 166.1 20.1 166.6 20.2 167.1 20.3 167.6 20.3 168.1 20.4 168.6 20.4 169.1 20.5 169.6 20.6 170.1 20.6 170.6 20.7 171.1 20.8 171.6 20.8 172.1 20.9 172.6 21.0 173.1 21.0 173.6 21.1 174.1 21.2 174.6 21.2 175.1 21.3 175.6 21.4 176.1 21.4 176.6 21.5 177.1 21.6 177.6 21.6 178.1 21.7 178.6 21.8 179.1 21.8 179.6 21.9 180.1 22.0 180.6 22.1 181.1 22.1 181.6 22.2 182.1 22.3 182.6 22.3 183.1 22.4 183.6 22.5 184.1 22.6 184.6 22.6 185.1 22.7 185.6 22.8 186.1 22.9 186.6 22.9 187.1 23.0 187.6 23.1 188.1 23.2 188.6 23.2 189.1 23.3 189.6 23.4 190.1 23.5 190.6 23.6 191.1 23.6 191.6 23.7 192.1 23.8 192.6 23.9 193.1 23.9 193.6 24.0 194.1 24.1 194.6 24.2 195.1 24.3 195.6 24.4 196.1 24.4 196.6 24.5 197.1 24.6 197.6 24.7 198.1 24.8 198.6 24.9 199.1 24.9 199.6 25.0 200.1 25.1 200.6 25.2 201.1 25.3 201.6 25.4 202.1 25.5 202.6 25.6 203.1 25.7 203.6 25.7 204.1 25.8 204.6 25.9 205.1 26.0 205.6 26.1 206.1 26.2 206.6 26.3 207.1 26.4 207.6 26.5 208.1 26.6 208.6 26.7 209.1 26.8 209.6 26.9 210.1 27.0 210.6 27.1 211.1 27.2 211.6 27.3 212.1 27.4 212.6 27.5 213.1 27.6 213.6 27.7 214.1 27.8 214.6 27.9 215.1 28.0 215.6 28.2 216.1 28.3 216.6 28.4 217.1 28.5 217.6 28.6 218.1 28.7 218.6 28.8 219.1 28.9 219.6 29.0 220.1 29.2 220.6 29.3 221.1 29.4 221.6 29.5 222.1 29.6 222.6 29.7 223.1 29.9 223.6 30.0 224.1 30.1 224.6 30.2 225.1 30.3 225.6 30.5 226.1 30.6 226.6 30.7 227.1 30.8 227.6 31.0 228.1 31.1 228.6 31.2 229.1 31.3 229.6 31.5 230.1 31.6 230.6 31.7 231.1 31.9 231.6 32.0 232.1 32.1 232.6 32.2 233.1 32.4 233.6 32.5 234.1 32.6 234.6 32.8 235.1 32.9 235.6 33.1 236.1 33.2 236.6 33.3 237.1 33.5 237.6 33.6 238.1 33.8 238.6 33.9 239.1 34.0 239.6 34.2 240.1 34.3 240.6 34.5 241.1 34.6 241.6 34.8 242.1 34.9 242.6 35.1 243.1 35.2 243.6 35.4 244.1 35.5 244.6 35.7 245.1 35.9 245.6 36.0 246.1 36.2 246.6 36.4 247.1 36.5 247.6 36.7 248.1 36.9 248.6 37.0 249.1 37.2 249.6 37.4 250.1 37.5 250.6 37.7 251.1 37.9 251.6 38.1 252.1 38.2 252.6 38.4 253.1 38.6 253.6 38.8 254.1 38.9 254.6 39.1 255.1 39.3 255.6 39.5 256.1 39.6 256.6 39.8 257.1 40.0 257.6 40.2 258.1 40.4 258.6 40.6 259.1 40.7 259.6 40.9 260.1 41.1 260.6 41.3 261.1 41.5 261.6 41.7 262.1 41.9 262.6 42.1 263.1 42.3 263.6 42.5 264.1 42.7 264.6 42.9 265.1 43.0 265.6 43.2 266.1 43.4 266.6 43.6 267.1 43.8 267.6 44.0 268.1 44.2 268.6 44.4 269.1 44.7 269.6 44.9 270.1 45.1 270.6 45.3 271.1 45.5 271.6 45.7 272.1 45.9 272.6 46.1 273.1 46.3 273.6 46.5 274.1 46.8 274.6 47.0 275.1 47.2 275.6 47.4 276.1 47.6 276.6 47.8 277.1 48.0 277.6 48.3 278.1 48.5 278.6 48.7 279.1 48.9 279.6 49.0 280.1 49.2 280.6 49.4 281.1 49.6 281.6 49.8 282.1 50.0 282.6 50.2 283.1 50.5 283.6 50.7 284.1 50.9 284.6 51.1 285.1 51.4 285.6 51.6 286.1 51.9 286.6 52.1 287.1 52.4 287.6 52.8 288.1 53.1 288.6 53.5 289.1 53.8 289.6 54.2 290.1 54.6 290.6 55.0 291.1 55.5 291.6 55.9 292.1 56.3 292.6 56.7 293.1 57.1 293.6 57.5 294.1 57.9 294.6 58.3 295.1 58.7 295.6 59.1 296.1 59.5 296.6 59.9 297.1 60.3 297.6 60.7 298.1 61.1 298.6 61.5 299.1 61.9 299.6 62.3 300.1 62.7 300.6 63.1 301.1 63.5 301.6 63.9 302.1 64.3 302.6 64.7 303.1 65.1 303.6 65.5 304.1 65.9 304.6 66.3 305.1 66.7 305.6 67.1 306.1 67.5 306.6 67.9 307.1 68.3 307.6 68.7 308.1 69.2 308.6 69.6 309.1 70.0 309.6 70.4 310.1 70.9 310.6 71.3 311.1 71.8 311.6 72.2 312.1 72.7 312.6 73.2 313.1 73.6 313.6 74.1 314.1 74.6 314.6 75.0 315.1 75.5 315.6 76.0 316.1 76.5 316.6 77.0 317.1 77.5 317.6 78.0 318.1 78.5 318.6 79.0 319.1 79.5 319.6 80.0 320.1 80.5 320.6 81.0 321.1 81.5 321.6 82.1 322.1 82.6 322.6 83.1 323.1 83.7 323.6 84.2 324.1 84.8 324.6 85.3 325.1 85.9 325.6 86.4 326.1 87.0 326.6 87.5 327.1 88.1 327.6 88.6 328.1 89.2 328.6 89.8 329.1 90.3 329.6 90.9 330.1 91.4 330.6 92.0 331.1 92.5 331.6 93.1 332.1 93.6 332.6 94.1 333.1 94.7 333.6 95.2 334.1 95.8 334.6 96.3 335.1 96.9 335.6 97.4 336.1 97.9 336.6 98.5 337.1 99.0 337.6 99.6 338.1 100.1 338.6 100.7 339.1 101.2 339.6 101.8 340.1 102.3 340.6 102.9 341.1 103.4 341.6 104.0 342.1 104.6 342.6 105.1 343.1 105.7 343.6 106.3 344.1 106.9 344.6 107.4 345.1 108.0 345.6 108.6 346.1 109.2 346.6 109.8 347.1 110.4 347.6 111.0 348.1 111.6 348.6 112.2 349.1 112.8 349.6 113.4 350.1 114.0 350.6 114.6 351.1 115.2 351.6 115.8 352.1 116.4 352.6 117.1 353.1 117.7 353.6 118.3 354.1 118.9 354.6 119.6 355.1 120.2 355.6 120.8 356.1 121.5 356.6 122.1 357.1 122.8 357.6 123.4 358.1 124.1 358.6 124.7 359.1 125.4 359.6 126.1 360.1 126.7 360.6 127.4 361.1 128.1 361.6 128.7 362.1 129.4 362.6 130.1 363.1 130.8 363.6 131.5 364.1 132.2 364.6 132.9 365.1 133.6 365.6 134.3 366.1 135.0 366.6 135.7 367.1 136.4 367.6 137.2 368.1 137.9 368.6 138.6 369.1 139.3 369.6 140.1 370.1 140.8 370.6 141.6 371.1 142.3 371.6 143.0 372.1 143.8 372.6 144.5 373.1 145.3 373.6 146.1 374.1 146.8 374.6 147.6 375.1 148.3 375.6 149.1 376.1 149.9 376.6 150.6 377.1 151.4 377.6 152.2 378.1 153.0 378.6 153.8 379.1 154.6 379.6 155.4 380.1 156.2 380.6 157.1 381.1 157.9 381.6 158.7 382.1 159.5 382.6 160.3 383.1 161.1 383.6 161.9 384.1 162.7 384.6 163.5 385.1 164.3 385.6 165.1 386.1 165.9 386.6 166.7 387.1 167.6 387.6 168.4 388.1 169.2 388.6 170.0 389.1 170.8 389.6 171.7 390.1 172.5 390.6 173.3 391.1 174.2 391.6 175.0 392.1 175.8 392.6 176.7 393.1 177.5 393.6 178.4 394.1 179.3 394.6 180.2 395.1 181.1 395.6 182.0 396.1 182.9 396.6 183.9 397.1 184.8 397.6 185.8 398.1 186.8 398.6 187.8 399.1 188.9 399.6 189.9 400.1 191.0 400.6 192.1 401.1 193.2 401.6 194.3 402.1 195.4 402.6 196.5 403.1 197.6 403.6 198.7 404.1 199.8 404.6 201.0 405.1 202.2 405.6 203.5 406.1 204.8 406.6 206.2 407.1 207.7 407.6 209.3 408.1 210.9 408.6 212.7 409.1 214.5 409.6 216.4 410.1 218.3 410.6 220.3 411.1 222.4 411.6 224.7 412.1 227.1 412.6 229.7 413.1 232.3 413.6 234.9 414.1 237.5 414.6 240.0 415.1 242.4 415.6 244.7 416.1 247.0 416.6 249.3 417.1 251.6 417.6 254.0 418.1 256.5 418.6 259.1 419.1 261.8 419.6 264.5 420.1 267.3 420.6 270.1 421.1 273.0 421.6 275.9 422.1 278.7 422.6 281.6 423.1 284.6 423.6 287.6 424.1 290.6 424.6 293.8 425.1 297.0 425.6 300.4 426.1 303.9 426.6 307.5 427.1 311.2 427.6 315.1 428.1 318.9 428.6 322.8 429.1 326.7 429.6 330.7 430.1 334.8 430.6 338.8 431.1 342.8 431.6 346.8 432.1 350.7 432.6 354.5 433.1 358.3 433.6 362.1 434.1 365.9 434.5 368.9 434.5 368.9 435 368.1 435.5 367.2 436 366.3 436.5 365.4 437 364.5 437.5 363.5 438 362.5 438.5 361.5 439 360.4 439.5 359.3 440 358.2 440.5 357.0 441 355.8 441.5 354.5 442 353.1 442.5 351.7 443 350.2 443.5 348.7 444 347.2 444.5 345.8 445 344.4 445.5 343.2 446 342.0 446.5 341.0 447 340.1 447.5 339.2 448 338.4 448.5 337.6 449 336.8 449.5 336.1 450 335.4 450.5 334.7 451 334.1 451.5 333.6 452 333.1 452.5 332.7 453 332.3 453.5 331.9 454 331.5 454.5 331.2 455 330.8 455.5 330.5 456 330.2 456.5 329.9 457 329.6 457.5 329.4 458 329.2 458.5 329.1 459 329.0 459.5 328.9 460 328.9 460.5 329.0 461 329.1 461.5 329.2 462 329.4 462.5 329.6 463 329.9 463.5 330.2 464 330.5 464.5 330.8 465 331.2 465.5 331.5 466 331.9 466.5 332.2 467 332.6 467.5 332.9 468 333.3 468.5 333.7 469 334.1 469.5 334.5 470 334.9 470.5 335.4 471 335.9 471.5 336.4 472 336.9 472.5 337.5 473 338.1 473.5 338.7 474 339.3 474.5 339.9 475 340.6 475.5 341.3 476 342.1 476.5 343.0 477 344.0 477.5 345.0 478 346.1 478.5 347.2 479 348.3 479.5 349.4 480 350.5 480.5 351.6 481 352.7 481.5 353.8 482 354.8 482.5 355.9 483 356.9 483.5 357.9 484 359.0 484.5 360.1 485 361.1 485.5 362.2 486 363.4 486.5 364.5 487 365.7 487.5 366.9 488 368.1 488.5 369.3 489 370.6 489.5 372.0 490 373.4 490.5 374.8 491 376.3 491.5 377.9 492 379.5 492.5 381.1 493 382.7 493.5 384.4 494 386.1 494.5 387.8 495 389.5 495.5 391.3 496 393.0 496.5 394.8 497 396.5 497.5 398.2 498 400.0 498.5 401.8 499 403.6 499.5 405.4 500 407.2 500.5 409.1 501 411.0 501.5 412.9 502 414.8 502.5 416.7 503 418.6 503.5 420.6 504 422.5 504.5 424.4 505 426.4 505.5 428.3 506 430.3 506.5 432.2 507 434.2 507.5 436.2 508 438.3 508.5 440.4 509 442.5 509.5 444.7 510 446.9 510.5 449.2 511 451.6 511.5 454.0 512 456.5 512.5 459.0 513 461.6 513.5 464.2 514 466.9 514.5 469.7 515 472.5 515.5 475.4 516 478.3 516.5 481.4 517 484.5 517.5 487.7 518 490.9 518.5 494.3 519 497.7 519.5 501.3 520 504.9 520.5 508.8 521 512.9 521.5 517.1 522 521.5 522.5 526.0 523 530.6 523.5 535.4 524 540.2 524.5 545.1 525 550.0 525.5 555.0 526 560.1 526.5 565.2 527 570.6 527.5 576.1 528 581.8 528.5 587.8 529 594.0 529.5 600.6 530 607.7 530.5 615.3 531 623.2 531.5 631.5 532 640.0" stroke="#40e0d0" stroke-width="2.9"/>
<path d="M119.3 15.2L120.3 15.3 121.4 15.4 122.4 15.5 123.5 15.6 124.5 15.7 125.6 15.8 126.6 15.9 127.7 16.0 128.7 16.1 129.8 16.2 130.8 16.3 131.9 16.5 132.9 16.6 134 16.7 135 16.9 136.1 17.0 137.1 17.2 138.2 17.3 139.2 17.4 140.3 17.5 141.3 17.6 142.4 17.7 143.4 17.8 144.5 18.0 145.5 18.1 146.6 18.2 147.6 18.3 148.7 18.5 149.7 18.6 150.7 18.8 151.8 18.9 152.8 19.1 153.9 19.2 154.9 19.4 156 19.5 157 19.6 158.1 19.7 159.1 19.9 160.2 20.0 161.2 20.1 162.3 20.3 163.3 20.4 164.4 20.6 165.4 20.7 166.5 20.9 167.5 21.0 168.6 21.2 169.6 21.4 170.7 21.5 171.7 21.7 172.8 21.8 173.8 22.0 174.9 22.1 175.9 22.2 177 22.4 178 22.6 179.1 22.7 180.1 22.9 181.2 23.0 182.2 23.2 183.2 23.4 184.3 23.6 185.3 23.7 186.4 23.9 187.4 24.1 188.5 24.2 189.5 24.4 190.6 24.6 191.6 24.7 192.7 24.9 193.7 25.1 194.8 25.3 195.8 25.5 196.9 25.7 197.9 25.8 199 26.0 200 26.3 201.1 26.5 202.1 26.6 203.2 26.8 204.2 27.0 205.3 27.2 206.3 27.4 207.4 27.6 208.4 27.8 209.5 28.0 210.5 28.2 211.6 28.5 212.6 28.7 213.6 28.9 214.7 29.1 215.7 29.4 216.8 29.6 217.8 29.8 218.9 30.0 219.9 30.2 221 30.5 222 30.7 223.1 30.9 224.1 31.2 225.2 31.4 226.2 31.7 227.3 32.0 228.3 32.2 229.4 32.4 230.4 32.7 231.5 32.9 232.5 33.2 233.6 33.5 234.6 33.7 235.7 34.0 236.7 34.3 237.8 34.6 238.8 34.9 239.9 35.2 240.9 35.5 242 35.7 243 36.0 244.1 36.3 245.1 36.6 246.1 37.0 247.2 37.3 248.2 37.6 249.3 38.0 250.3 38.3 251.4 38.7 252.4 39.0 253.5 39.4 254.5 39.7 255.6 40.1 256.6 40.4 257.7 40.8 258.7 41.2 259.8 41.5 260.8 41.9 261.9 42.3 262.9 42.7 264 43.1 265 43.5 266.1 43.8 267.1 44.2 268.2 44.6 269.2 45.0 270.3 45.4 271.3 45.8 272.4 46.2 273.4 46.6 274.5 47.0 275.5 47.4 276.5 47.8 277.6 48.2 278.6 48.6 279.7 49.1 280.7 49.5 281.8 50.0 282.8 50.4 283.9 50.9 284.9 51.4 286 51.9 287 52.5 288.1 53.0 289.1 53.6 290.2 54.2 291.2 54.8 292.3 55.4 293.3 56.1 294.4 56.8 295.4 57.5 296.5 58.2 297.5 58.9 298.6 59.6 299.6 60.4 300.7 61.1 301.7 61.8 302.8 62.6 303.8 63.3 304.9 64.0 305.9 64.8 307 65.5 308 66.3 309 67.1 310.1 67.8 311.1 68.6 312.2 69.4 313.2 70.2 314.3 71.0 315.3 71.7 316.4 72.5 317.4 73.2 318.5 74.0 319.5 74.7 320.6 75.5 321.6 76.3 322.7 77.0 323.7 77.8 324.8 78.6 325.8 79.3 326.9 80.1 327.9 80.8 329 81.5 330 82.3 331.1 83.0 332.1 83.7 333.2 84.5 334.2 85.2 335.3 85.9 336.3 86.7 337.4 87.4 338.4 88.1 339.4 88.9 340.5 89.6 341.5 90.3 342.6 91.0 343.6 91.8 344.7 92.5 345.7 93.2 346.8 93.9 347.8 94.6 348.9 95.3 349.9 96.0 351 96.7 352 97.5 353.1 98.2 354.1 98.9 355.2 99.7 356.2 100.4 357.3 101.1 358.3 101.9 359.4 102.6 360.4 103.4 361.5 104.2 362.5 104.9 363.6 105.7 364.6 106.5 365.7 107.3 366.7 108.1 367.8 108.9 368.8 109.7 369.9 110.6 370.9 111.4 371.9 112.3 373 113.2 374 114.1 375.1 115.0 376.1 115.9 377.2 116.8 378.2 117.8 379.3 118.7 380.3 119.7 381.4 120.7 382.4 121.7 383.5 122.7 384.5 123.8 385.6 124.8 386.6 125.8 387.7 126.9 388.7 128.0 389.8 129.0 390.8 130.1 391.9 131.2 392.9 132.4 394 133.5 395 134.6 396.1 135.8 397.1 137.0 398.2 138.2 399.2 139.4 400.3 140.7 401.3 142.0 402.3 143.3 403.4 144.6 404.4 145.9 405.5 147.3 406.5 148.7 407.6 150.1 408.6 151.5 409.7 153.0 410.7 154.4 411.8 155.9 412.8 157.4 413.9 158.9 414.9 160.4 416 161.9 417 163.5 418.1 165.0 419.1 166.6 420.2 168.2 421.2 169.7 422.3 171.3 423.3 172.9 424.4 174.5 425.4 176.0 426.5 177.6 427.5 179.2 428.6 180.8 429.6 182.3 430.7 183.9 431.7 185.6 432.8 187.2 433.8 188.9 434.8 190.6 435.9 192.3 436.9 194.0 438 195.8 439 197.6 440.1 199.4 441.1 201.2 442.2 203.1 443.2 204.9 444.3 206.8 445.3 208.6 446.4 210.5 447.4 212.3 448.5 214.2 449.5 216.1 450.6 217.9 451.6 219.8 452.7 221.7 453.7 223.7 454.8 225.6 455.8 227.6 456.9 229.6 457.9 231.6 459 233.6 460 235.6 461.1 237.7 462.1 239.7 463.2 241.9 464.2 244.0 465.2 246.3 466.3 248.6 467.3 251.0 468.4 253.4 469.4 255.9 470.5 258.4 471.5 260.8 472.6 263.3 473.6 265.8 474.7 268.2 475.7 270.7 476.8 273.2 477.8 275.7 478.9 278.2 479.9 280.7 481 283.2 482 285.8 483.1 288.4 484.1 291.0 485.2 293.7 486.2 296.4 487.3 299.1 488.3 301.8 489.4 304.6 490.4 307.4 491.5 310.2 492.5 313.0 493.6 315.8 494.6 318.6 495.7 321.5 496.7 324.3 497.7 327.2 498.8 330.1 499.8 332.9 500.9 335.8 501.9 338.7 503 341.6 504 344.4 505.1 347.3 506.1 350.2 507.2 353.1 508.2 356.0 509.3 358.9 510.3 361.9 511.4 365.0 512.4 368.0 513.5 371.2 514.5 374.4 515.6 377.6 516.6 380.9 517.7 384.2 518.7 387.5 519.8 390.9 520.8 394.3 521.9 397.8 522.9 401.2 524 404.7 525 408.2 526.1 411.7 527.1 415.3 528.1 418.8 529.2 422.5 530.2 426.2 531.3 429.9 532.3 433.7 533.4 437.6 534.4 441.6 535.5 445.7 536.5 449.8 537.6 454.1 538.6 458.4 539.7 462.8 540.7 467.2 541.8 471.6 542.8 476.0 543.9 480.4 544.9 484.8 546 489.1 547 493.5 548.1 497.9 549.1 502.3 550.2 506.8 551.2 511.3 552.3 515.8 553.3 520.4 554.4 525.1 555.4 529.8 556.5 534.6 557.5 539.5 558.5 544.5 559.6 549.5 560.6 554.5 561.7 559.6 562.7 564.8 563.8 570.0 564.8 575.2 565.9 580.5 566.9 585.8 568 591.2 569 596.6 570.1 602.1 571.1 607.6 572.2 613.2 573.2 618.8 574.3 624.5 575.3 630.3 576.4 636.1 577.4 641.9" stroke="#008b00" stroke-width="3.0" stroke-dasharray="2.9 7.1"/>
<path d="M119.3 15.0L121 15.1 122.7 15.2 124.4 15.3 126.1 15.4 127.8 15.5 129.5 15.7 131.2 15.8 132.9 15.9 134.6 16.0 136.3 16.2 138 16.3 139.8 16.5 141.5 16.6 143.2 16.8 144.9 16.9 146.6 17.1 148.3 17.2 150 17.4 151.7 17.5 153.4 17.6 155.1 17.8 156.8 17.9 158.5 18.1 160.2 18.2 161.9 18.4 163.6 18.6 165.3 18.7 167 18.9 168.7 19.1 170.4 19.3 172.1 19.4 173.8 19.6 175.5 19.7 177.3 19.9 179 20.1 180.7 20.2 182.4 20.4 184.1 20.6 185.8 20.8 187.5 21.0 189.2 21.2 190.9 21.4 192.6 21.6 194.3 21.8 196 21.9 197.7 22.1 199.4 22.3 201.1 22.5 202.8 22.7 204.5 22.9 206.2 23.1 207.9 23.3 209.6 23.5 211.3 23.8 213 24.0 214.8 24.2 216.5 24.4 218.2 24.6 219.9 24.8 221.6 25.0 223.3 25.2 225 25.4 226.7 25.7 228.4 25.9 230.1 26.1 231.8 26.4 233.5 26.6 235.2 26.8 236.9 27.0 238.6 27.2 240.3 27.5 242 27.7 243.7 28.0 245.4 28.2 247.1 28.4 248.8 28.7 250.5 29.0 252.3 29.2 254 29.5 255.7 29.7 257.4 29.9 259.1 30.2 260.8 30.4 262.5 30.7 264.2 30.9 265.9 31.2 267.6 31.5 269.3 31.8 271 32.0 272.7 32.3 274.4 32.6 276.1 32.8 277.8 33.1 279.5 33.3 281.2 33.6 282.9 33.9 284.6 34.2 286.3 34.5 288 34.8 289.8 35.1 291.5 35.4 293.2 35.6 294.9 35.9 296.6 36.2 298.3 36.5 300 36.8 301.7 37.1 303.4 37.4 305.1 37.7 306.8 38.0 308.5 38.3 310.2 38.6 311.9 38.9 313.6 39.2 315.3 39.5 317 39.8 318.7 40.1 320.4 40.5 322.1 40.8 323.8 41.1 325.5 41.4 327.3 41.8 329 42.1 330.7 42.4 332.4 42.8 334.1 43.1 335.8 43.4 337.5 43.8 339.2 44.1 340.9 44.4 342.6 44.8 344.3 45.1 346 45.5 347.7 45.8 349.4 46.2 351.1 46.6 352.8 46.9 354.5 47.3 356.2 47.7 357.9 48.0 359.6 48.4 361.3 48.8 363 49.1 364.7 49.5 366.5 49.9 368.2 50.3 369.9 50.7 371.6 51.1 373.3 51.5 375 51.9 376.7 52.3 378.4 52.7 380.1 53.1 381.8 53.5 383.5 54.0 385.2 54.4 386.9 54.8 388.6 55.2 390.3 55.7 392 56.1 393.7 56.6 395.4 57.0 397.1 57.5 398.8 57.9 400.5 58.4 402.2 58.9 404 59.3 405.7 59.8 407.4 60.3 409.1 60.8 410.8 61.3 412.5 61.7 414.2 62.2 415.9 62.8 417.6 63.3 419.3 63.8 421 64.3 422.7 64.8 424.4 65.4 426.1 65.9 427.8 66.5 429.5 67.0 431.2 67.6 432.9 68.2 434.6 68.7 436.3 69.3 438 69.9 439.7 70.5 441.5 71.1 443.2 71.7 444.9 72.3 446.6 72.9 448.3 73.6 450 74.2 451.7 74.9 453.4 75.5 455.1 76.2 456.8 76.9 458.5 77.5 460.2 78.2 461.9 78.9 463.6 79.6 465.3 80.4 467 81.1 468.7 81.8 470.4 82.6 472.1 83.3 473.8 84.1 475.5 84.8 477.2 85.6 479 86.4 480.7 87.2 482.4 88.0 484.1 88.9 485.8 89.7 487.5 90.5 489.2 91.4 490.9 92.3 492.6 93.2 494.3 94.1 496 95.0 497.7 95.9 499.4 96.8 501.1 97.8 502.8 98.7 504.5 99.7 506.2 100.7 507.9 101.7 509.6 102.7 511.3 103.7 513 104.8 514.7 105.8 516.5 106.9 518.2 108.0 519.9 109.1 521.6 110.2 523.3 111.3 525 112.5 526.7 113.7 528.4 114.8 530.1 116.0 531.8 117.2 533.5 118.5 535.2 119.7 536.9 121.0 538.6 122.2 540.3 123.5 542 124.8 543.7 126.2 545.4 127.5 547.1 128.9 548.8 130.3 550.5 131.7 552.2 133.1 553.9 134.6 555.7 136.0 557.4 137.5 559.1 139.0 560.8 140.6 562.5 142.1 564.2 143.7 565.9 145.3 567.6 146.9 569.3 148.6 571 150.2 572.7 151.9 574.4 153.6 576.1 155.3 577.8 157.1 579.5 158.9 581.2 160.7 582.9 162.5 584.6 164.4 586.3 166.3 588 168.2 589.7 170.1 591.4 172.1 593.2 174.1 594.9 176.1 596.6 178.1 598.3 180.2 600 182.3 601.7 184.5 603.4 186.6 605.1 188.8 606.8 191.0 608.5 193.3 610.2 195.6 611.9 197.9 613.6 200.3 615.3 202.6 617 205.1 618.7 207.5 620.4 210.0 622.1 212.5 623.8 215.1 625.5 217.7 627.2 220.3 628.9 222.9 630.7 225.6 632.4 228.4 634.1 231.2 635.8 234.0 637.5 236.8 639.2 239.7 640.9 242.7 642.6 245.6 644.3 248.7 646 251.7 647.7 254.8 649.4 258.0 651.1 261.1 652.8 264.4 654.5 267.7 656.2 271.0 657.9 274.4 659.6 277.8 661.3 281.2 663 284.7 664.7 288.3 666.4 291.9 668.2 295.6 669.9 299.3 671.6 303.1 673.3 306.9 675 310.7 676.7 314.7 678.4 318.7 680.1 322.7 681.8 326.8 683.5 330.9 685.2 335.1 686.9 339.4 688.6 343.7 690.3 348.1 692 352.5 693.7 357.1 695.4 361.6 697.1 366.3 698.8 371.0 700.5 375.7 702.2 380.6 703.9 385.4 705.7 390.4 707.4 395.4 709.1 400.6 710.8 405.7 712.5 411.0 714.2 416.3 715.9 421.7 717.6 427.2 719.3 432.7 721 438.3 722.7 444.0 724.4 449.8 726.1 455.7 727.8 461.6 729.5 467.7 731.2 473.8 732.9 480.0 734.6 486.3 736.3 492.6 738 499.1 739.7 505.6 741.4 512.3 743.2 519.0 744.9 525.8 746.6 532.8 748.3 539.8 750 546.9 751.7 554.1 753.4 561.4 755.1 568.8 756.8 576.4 758.5 584.0 760.2 591.7 761.9 599.6 763.6 607.5 765.3 615.6 767 623.8 768.7 632.0 770.4 640.5" stroke="#ffa500" stroke-width="3" stroke-dasharray="12.5 7.7"/>
<path d="M119.3 13.8L121 13.9 122.7 14.0 124.4 14.0 126.1 14.1 127.8 14.2 129.5 14.3 131.2 14.3 132.9 14.4 134.6 14.5 136.3 14.6 138 14.7 139.8 14.8 141.5 14.8 143.2 14.9 144.9 15.0 146.6 15.1 148.3 15.2 150 15.3 151.7 15.3 153.4 15.4 155.1 15.5 156.8 15.5 158.5 15.6 160.2 15.7 161.9 15.8 163.6 15.8 165.3 15.9 167 16.0 168.7 16.1 170.4 16.2 172.1 16.3 173.8 16.4 175.5 16.5 177.3 16.6 179 16.7 180.7 16.8 182.4 16.9 184.1 17.0 185.8 17.1 187.5 17.2 189.2 17.3 190.9 17.3 192.6 17.4 194.3 17.5 196 17.6 197.7 17.7 199.4 17.8 201.1 17.9 202.8 18.0 204.5 18.1 206.2 18.2 207.9 18.3 209.6 18.4 211.3 18.5 213 18.6 214.8 18.7 216.5 18.8 218.2 18.9 219.9 19.1 221.6 19.2 223.3 19.3 225 19.4 226.7 19.5 228.4 19.6 230.1 19.7 231.8 19.8 233.5 19.9 235.2 20.0 236.9 20.1 238.6 20.2 240.3 20.4 242 20.5 243.7 20.6 245.4 20.7 247.1 20.8 248.8 21.0 250.5 21.1 252.3 21.2 254 21.4 255.7 21.5 257.4 21.6 259.1 21.8 260.8 21.9 262.5 22.0 264.2 22.1 265.9 22.2 267.6 22.4 269.3 22.5 271 22.6 272.7 22.8 274.4 22.9 276.1 23.0 277.8 23.2 279.5 23.3 281.2 23.5 282.9 23.6 284.6 23.8 286.3 23.9 288 24.1 289.8 24.2 291.5 24.4 293.2 24.5 294.9 24.6 296.6 24.8 298.3 24.9 300 25.1 301.7 25.2 303.4 25.4 305.1 25.6 306.8 25.7 308.5 25.9 310.2 26.1 311.9 26.2 313.6 26.4 315.3 26.6 317 26.7 318.7 26.9 320.4 27.0 322.1 27.2 323.8 27.4 325.5 27.5 327.3 27.7 329 27.9 330.7 28.1 332.4 28.2 334.1 28.4 335.8 28.6 337.5 28.8 339.2 29.0 340.9 29.2 342.6 29.4 344.3 29.5 346 29.7 347.7 29.9 349.4 30.1 351.1 30.3 352.8 30.5 354.5 30.7 356.2 30.9 357.9 31.1 359.6 31.3 361.3 31.5 363 31.7 364.7 31.9 366.5 32.1 368.2 32.3 369.9 32.5 371.6 32.7 373.3 33.0 375 33.2 376.7 33.4 378.4 33.6 380.1 33.8 381.8 34.1 383.5 34.3 385.2 34.5 386.9 34.8 388.6 35.0 390.3 35.2 392 35.5 393.7 35.7 395.4 35.9 397.1 36.2 398.8 36.4 400.5 36.7 402.2 36.9 404 37.2 405.7 37.4 407.4 37.7 409.1 37.9 410.8 38.2 412.5 38.5 414.2 38.7 415.9 39.0 417.6 39.3 419.3 39.5 421 39.8 422.7 40.1 424.4 40.3 426.1 40.6 427.8 40.9 429.5 41.2 431.2 41.5 432.9 41.8 434.6 42.1 436.3 42.4 438 42.7 439.7 43.0 441.5 43.3 443.2 43.6 444.9 43.9 446.6 44.2 448.3 44.5 450 44.8 451.7 45.2 453.4 45.5 455.1 45.8 456.8 46.2 458.5 46.5 460.2 46.9 461.9 47.2 463.6 47.5 465.3 47.9 467 48.2 468.7 48.6 470.4 48.9 472.1 49.3 473.8 49.6 475.5 50.0 477.2 50.4 479 50.8 480.7 51.2 482.4 51.5 484.1 51.9 485.8 52.3 487.5 52.7 489.2 53.1 490.9 53.5 492.6 53.9 494.3 54.3 496 54.7 497.7 55.2 499.4 55.6 501.1 56.0 502.8 56.5 504.5 56.9 506.2 57.3 507.9 57.8 509.6 58.3 511.3 58.7 513 59.2 514.7 59.6 516.5 60.1 518.2 60.6 519.9 61.1 521.6 61.6 523.3 62.0 525 62.5 526.7 63.1 528.4 63.6 530.1 64.1 531.8 64.6 533.5 65.1 535.2 65.7 536.9 66.2 538.6 66.8 540.3 67.3 542 67.9 543.7 68.5 545.4 69.0 547.1 69.6 548.8 70.2 550.5 70.8 552.2 71.4 553.9 72.0 555.7 72.6 557.4 73.2 559.1 73.9 560.8 74.5 562.5 75.2 564.2 75.8 565.9 76.5 567.6 77.2 569.3 77.9 571 78.6 572.7 79.3 574.4 80.0 576.1 80.7 577.8 81.4 579.5 82.1 581.2 82.9 582.9 83.6 584.6 84.4 586.3 85.2 588 86.0 589.7 86.8 591.4 87.6 593.2 88.4 594.9 89.2 596.6 90.1 598.3 90.9 600 91.8 601.7 92.6 603.4 93.5 605.1 94.4 606.8 95.3 608.5 96.3 610.2 97.2 611.9 98.2 613.6 99.1 615.3 100.1 617 101.1 618.7 102.1 620.4 103.1 622.1 104.1 623.8 105.2 625.5 106.3 627.2 107.3 628.9 108.4 630.7 109.5 632.4 110.6 634.1 111.8 635.8 112.9 637.5 114.1 639.2 115.3 640.9 116.5 642.6 117.7 644.3 118.9 646 120.2 647.7 121.4 649.4 122.7 651.1 124.0 652.8 125.3 654.5 126.7 656.2 128.0 657.9 129.4 659.6 130.8 661.3 132.2 663 133.6 664.7 135.1 666.4 136.6 668.2 138.1 669.9 139.6 671.6 141.1 673.3 142.7 675 144.3 676.7 145.9 678.4 147.5 680.1 149.1 681.8 150.8 683.5 152.5 685.2 154.2 686.9 155.9 688.6 157.7 690.3 159.5 692 161.3 693.7 163.1 695.4 165.0 697.1 166.9 698.8 168.8 700.5 170.8 702.2 172.7 703.9 174.7 705.7 176.8 707.4 178.8 709.1 180.9 710.8 183.0 712.5 185.2 714.2 187.3 715.9 189.5 717.6 191.8 719.3 194.0 721 196.3 722.7 198.7 724.4 201.0 726.1 203.4 727.8 205.8 729.5 208.3 731.2 210.8 733 213.3 734.7 215.9 736.4 218.5 738.1 221.1 739.9 223.8 741.6 226.5 743.3 229.3 745.1 232.0 746.8 234.9 748.5 237.7 750.3 240.6 752 243.6 753.8 246.6 755.6 249.6 757.4 252.7 759.3 255.8 761.1 258.9 763 262.1 764.9 265.4 766.7 268.7 768.6 272.0 770.5 275.4 772.4 278.8 774.2 282.3 776 285.8 777.8 289.4 779.6 293.0 781.4 296.7 783.2 300.4 784.9 304.2 786.7 308.0 788.5 311.9 790.3 315.9 792 319.9 793.8 323.9 795.5 328.0 797.3 332.2 799 336.4 800.7 340.7 802.4 345.0 804.1 349.4 805.8 353.9 807.5 358.4 809.1 363.0 810.8 367.6 812.5 372.4 814.1 377.1 815.8 382.0 817.4 386.9 819.1 391.9 820.7 396.9 822.4 402.1 824 407.3 825.6 412.5 827.3 417.9 828.9 423.3 830.6 428.8 832.2 434.3 833.8 440.0 835.5 445.7 837.1 451.5 838.7 457.4 840.4 463.4 842 469.4 843.6 475.6 845.2 481.8 846.8 488.1 848.5 494.5 850.1 501.0 851.8 507.5 853.4 514.2 855.2 521.0 856.9 527.8 858.6 534.8 860.4 541.8 862.1 549.0 863.9 556.2 865.7 563.5 867.5 571.0 869.2 578.5 871 586.2 872.8 594.0 874.5 601.8 876.2 609.8 878 617.9 879.7 626.1 881.4 634.4 883.1 642.9" stroke="#ff0000" stroke-width="3" stroke-dasharray="12.5 7.7"/>
</g>
<path d="M119.30 597.00L119.30 580.30M119.30 2.35L119.30 19.05M204.65 597.00L204.65 588.50M204.65 2.35L204.65 10.85M254.57 597.00L254.57 588.50M254.57 2.35L254.57 10.85M289.99 597.00L289.99 588.50M289.99 2.35L289.99 10.85M317.47 597.00L317.47 588.50M317.47 2.35L317.47 10.85M339.92 597.00L339.92 588.50M339.92 2.35L339.92 10.85M358.90 597.00L358.90 588.50M358.90 2.35L358.90 10.85M375.34 597.00L375.34 588.50M375.34 2.35L375.34 10.85M389.84 597.00L389.84 588.50M389.84 2.35L389.84 10.85M402.82 597.00L402.82 580.30M402.82 2.35L402.82 19.05M488.16 597.00L488.16 588.50M488.16 2.35L488.16 10.85M538.09 597.00L538.09 588.50M538.09 2.35L538.09 10.85M573.51 597.00L573.51 588.50M573.51 2.35L573.51 10.85M600.99 597.00L600.99 588.50M600.99 2.35L600.99 10.85M623.44 597.00L623.44 588.50M623.44 2.35L623.44 10.85M642.42 597.00L642.42 588.50M642.42 2.35L642.42 10.85M658.86 597.00L658.86 588.50M658.86 2.35L658.86 10.85M673.36 597.00L673.36 588.50M673.36 2.35L673.36 10.85M686.33 597.00L686.33 580.30M686.33 2.35L686.33 19.05M771.68 597.00L771.68 588.50M771.68 2.35L771.68 10.85M821.61 597.00L821.61 588.50M821.61 2.35L821.61 10.85M857.03 597.00L857.03 588.50M857.03 2.35L857.03 10.85M884.50 597.00L884.50 588.50M884.50 2.35L884.50 10.85M906.95 597.00L906.95 588.50M906.95 2.35L906.95 10.85M925.93 597.00L925.93 588.50M925.93 2.35L925.93 10.85M942.37 597.00L942.37 588.50M942.37 2.35L942.37 10.85M956.88 597.00L956.88 588.50M956.88 2.35L956.88 10.85M969.85 597.00L969.85 580.30M969.85 2.35L969.85 19.05M119.30 597.00L136.00 597.00M969.85 597.00L953.15 597.00M119.30 555.36L127.80 555.36M969.85 555.36L961.35 555.36M119.30 531.00L127.80 531.00M969.85 531.00L961.35 531.00M119.30 513.72L127.80 513.72M969.85 513.72L961.35 513.72M119.30 500.32L127.80 500.32M969.85 500.32L961.35 500.32M119.30 489.37L127.80 489.37M969.85 489.37L961.35 489.37M119.30 480.11L127.80 480.11M969.85 480.11L961.35 480.11M119.30 472.08L127.80 472.08M969.85 472.08L961.35 472.08M119.30 465.01L127.80 465.01M969.85 465.01L961.35 465.01M119.30 458.68L136.00 458.68M969.85 458.68L953.15 458.68M119.30 417.04L127.80 417.04M969.85 417.04L961.35 417.04M119.30 392.68L127.80 392.68M969.85 392.68L961.35 392.68M119.30 375.40L127.80 375.40M969.85 375.40L961.35 375.40M119.30 362.00L127.80 362.00M969.85 362.00L961.35 362.00M119.30 351.05L127.80 351.05M969.85 351.05L961.35 351.05M119.30 341.79L127.80 341.79M969.85 341.79L961.35 341.79M119.30 333.76L127.80 333.76M969.85 333.76L961.35 333.76M119.30 326.69L127.80 326.69M969.85 326.69L961.35 326.69M119.30 320.36L136.00 320.36M969.85 320.36L953.15 320.36M119.30 278.72L127.80 278.72M969.85 278.72L961.35 278.72M119.30 254.36L127.80 254.36M969.85 254.36L961.35 254.36M119.30 237.08L127.80 237.08M969.85 237.08L961.35 237.08M119.30 223.68L127.80 223.68M969.85 223.68L961.35 223.68M119.30 212.73L127.80 212.73M969.85 212.73L961.35 212.73M119.30 203.47L127.80 203.47M969.85 203.47L961.35 203.47M119.30 195.44L127.80 195.44M969.85 195.44L961.35 195.44M119.30 188.37L127.80 188.37M969.85 188.37L961.35 188.37M119.30 182.04L136.00 182.04M969.85 182.04L953.15 182.04M119.30 140.40L127.80 140.40M969.85 140.40L961.35 140.40M119.30 116.04L127.80 116.04M969.85 116.04L961.35 116.04M119.30 98.76L127.80 98.76M969.85 98.76L961.35 98.76M119.30 85.36L127.80 85.36M969.85 85.36L961.35 85.36M119.30 74.41L127.80 74.41M969.85 74.41L961.35 74.41M119.30 65.15L127.80 65.15M969.85 65.15L961.35 65.15M119.30 57.12L127.80 57.12M969.85 57.12L961.35 57.12M119.30 50.05L127.80 50.05M969.85 50.05L961.35 50.05M119.30 43.72L136.00 43.72M969.85 43.72L953.15 43.72M119.30 2.08L127.80 2.08M969.85 2.08L961.35 2.08" stroke="#000" stroke-width="1.45" fill="none"/>
<rect x="119.30" y="2.35" width="850.55" height="594.65" fill="none" stroke="#000" stroke-width="1.5"/>
<g font-family="'Liberation Serif', serif" fill="#000">
<text transform="translate(132.0 643.3) scale(0.951 1)" font-size="37.0" text-anchor="end">10</text>
<text x="131.9" y="622.8" font-size="25.3">1</text>
<text transform="translate(415.5 643.3) scale(0.951 1)" font-size="37.0" text-anchor="end">10</text>
<text x="415.4" y="622.8" font-size="25.3">2</text>
<text transform="translate(699.0 643.3) scale(0.951 1)" font-size="37.0" text-anchor="end">10</text>
<text x="698.9" y="622.8" font-size="25.3">3</text>
<text transform="translate(982.6 643.3) scale(0.951 1)" font-size="37.0" text-anchor="end">10</text>
<text x="982.5" y="622.8" font-size="25.3">4</text>
<text x="112.2" y="595.1" font-size="25.3" text-anchor="end">-4</text>
<text transform="translate(91.3 616.3) scale(0.951 1)" font-size="37.0" text-anchor="end">10</text>
<text x="112.2" y="456.8" font-size="25.3" text-anchor="end">-3</text>
<text transform="translate(91.3 478.0) scale(0.951 1)" font-size="37.0" text-anchor="end">10</text>
<text x="112.2" y="318.5" font-size="25.3" text-anchor="end">-2</text>
<text transform="translate(91.3 339.7) scale(0.951 1)" font-size="37.0" text-anchor="end">10</text>
<text x="112.2" y="180.1" font-size="25.3" text-anchor="end">-1</text>
<text transform="translate(93.0 201.3) scale(0.951 1)" font-size="37.0" text-anchor="end">10</text>
<text x="112.2" y="41.8" font-size="25.3" text-anchor="end">0</text>
<text transform="translate(99.1 63.0) scale(0.951 1)" font-size="37.0" text-anchor="end">10</text>
<text x="545" y="680" font-size="42.8" text-anchor="middle">time step</text>
<g transform="translate(30.5 411.5) rotate(-90)" font-style="italic" font-size="42"><text x="0" y="0">P(x,t,p) - P<tspan font-size="29.3" dy="15.5" dx="-1.5">u</tspan></text><text x="210.5" y="16" font-size="31">tv</text></g>
<rect x="0" y="414" width="40" height="2.7"/>
<rect x="0" y="206.3" width="40" height="2.3"/>
<g font-style="italic" font-size="31.6">
<text x="870.3" y="39.7">p = 0</text>
<text x="237.5" y="170" fill="#0000ff">p = 0.05</text>
<text x="309.5" y="315.5" fill="#40e0d0">p = 0.07</text>
<text x="762.5" y="456.7" fill="#ff0000">p = 1</text>
<text transform="translate(473.5 233.5) rotate(70)" fill="#008b00">p = 0.09</text>
<text transform="translate(613.8 468) rotate(72)" fill="#9400d3">p = 0.01</text>
<text transform="translate(699.5 325) rotate(72.5)" fill="#ffa500">p = 0.3</text>
<text transform="translate(787.5 166.5) rotate(51)" fill="#670748">p = 0.001</text>
</g>
<text x="153.9" y="408.6" font-size="30.5" textLength="116.2" lengthAdjust="spacing">ε = 0.002</text>
</g>
</svg>
</div></body></html>
